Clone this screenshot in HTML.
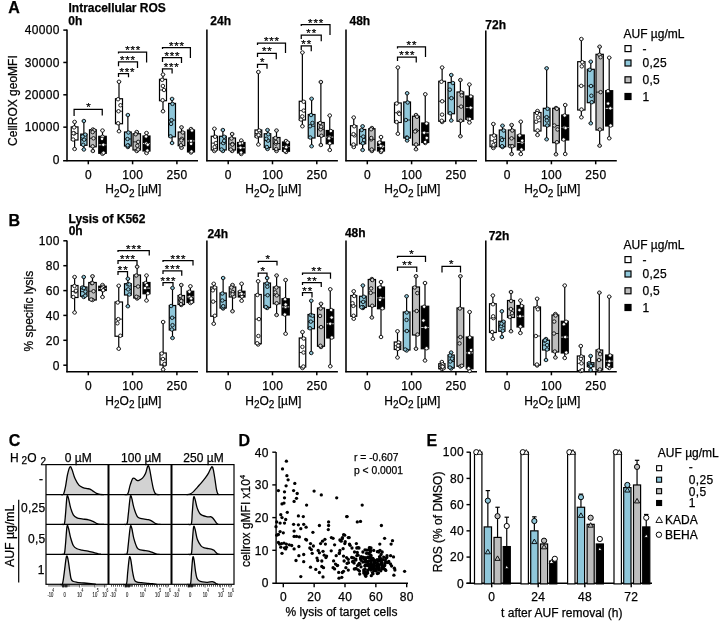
<!DOCTYPE html>
<html><head><meta charset="utf-8"><style>
html,body{margin:0;padding:0;background:#fff;}
svg{display:block;font-family:"Liberation Sans", sans-serif;will-change:transform;}
text{stroke:#000;stroke-width:0.25px;}
</style></head><body>
<svg width="720" height="623" viewBox="0 0 720 623">
<rect width="720" height="623" fill="#fff"/>
<text x="8.2" y="13.4" font-size="16" text-anchor="start" font-weight="bold" >A</text>
<text x="68.5" y="11.5" font-size="12" text-anchor="start" font-weight="bold" >Intracellular ROS</text>
<text x="68.3" y="24.6" font-size="12" text-anchor="start" font-weight="bold" >0h</text>
<text x="210.3" y="25.4" font-size="12" text-anchor="start" font-weight="bold" >24h</text>
<text x="349.5" y="25.4" font-size="12" text-anchor="start" font-weight="bold" >48h</text>
<text x="485.3" y="28.75" font-size="12" text-anchor="start" font-weight="bold" >72h</text>
<line x1="67" y1="29.5" x2="67" y2="161.2" stroke="#000" stroke-width="1.55"/>
<line x1="63.1" y1="160.7" x2="198" y2="160.7" stroke="#000" stroke-width="1.6"/>
<line x1="88.3" y1="160.7" x2="88.3" y2="164.29999999999998" stroke="#000" stroke-width="1.5"/>
<text x="88.475" y="178.9" font-size="12" text-anchor="middle" letter-spacing="0.35" >0</text>
<line x1="132.6" y1="160.7" x2="132.6" y2="164.29999999999998" stroke="#000" stroke-width="1.5"/>
<text x="132.775" y="178.9" font-size="12" text-anchor="middle" letter-spacing="0.35" >100</text>
<line x1="176.9" y1="160.7" x2="176.9" y2="164.29999999999998" stroke="#000" stroke-width="1.5"/>
<text x="177.07500000000002" y="178.9" font-size="12" text-anchor="middle" letter-spacing="0.35" >250</text>
<text x="133.4" y="193.4" font-size="12" text-anchor="middle">H<tspan font-size="10" dy="3.4">2</tspan><tspan dy="-3.4">O</tspan><tspan font-size="10" dy="3.4">2</tspan><tspan dy="-3.4"> [µM]</tspan></text>
<line x1="63.3" y1="30.1" x2="67" y2="30.1" stroke="#000" stroke-width="1.5"/>
<text x="59.85" y="34.4" font-size="12" text-anchor="end" letter-spacing="0.35" >40000</text>
<line x1="63.3" y1="62.45" x2="67" y2="62.45" stroke="#000" stroke-width="1.5"/>
<text x="59.85" y="66.75" font-size="12" text-anchor="end" letter-spacing="0.35" >30000</text>
<line x1="63.3" y1="94.8" x2="67" y2="94.8" stroke="#000" stroke-width="1.5"/>
<text x="59.85" y="99.1" font-size="12" text-anchor="end" letter-spacing="0.35" >20000</text>
<line x1="63.3" y1="127.15" x2="67" y2="127.15" stroke="#000" stroke-width="1.5"/>
<text x="59.85" y="131.45000000000002" font-size="12" text-anchor="end" letter-spacing="0.35" >10000</text>
<text x="59.85" y="163.8" font-size="12" text-anchor="end" letter-spacing="0.35" >0</text>
<line x1="206.9" y1="29.5" x2="206.9" y2="161.2" stroke="#000" stroke-width="1.55"/>
<line x1="206.20000000000002" y1="160.7" x2="337.9" y2="160.7" stroke="#000" stroke-width="1.6"/>
<line x1="228.20000000000002" y1="160.7" x2="228.20000000000002" y2="164.29999999999998" stroke="#000" stroke-width="1.5"/>
<text x="228.37500000000003" y="178.9" font-size="12" text-anchor="middle" letter-spacing="0.35" >0</text>
<line x1="272.5" y1="160.7" x2="272.5" y2="164.29999999999998" stroke="#000" stroke-width="1.5"/>
<text x="272.675" y="178.9" font-size="12" text-anchor="middle" letter-spacing="0.35" >100</text>
<line x1="316.8" y1="160.7" x2="316.8" y2="164.29999999999998" stroke="#000" stroke-width="1.5"/>
<text x="316.975" y="178.9" font-size="12" text-anchor="middle" letter-spacing="0.35" >250</text>
<text x="273.3" y="193.4" font-size="12" text-anchor="middle">H<tspan font-size="10" dy="3.4">2</tspan><tspan dy="-3.4">O</tspan><tspan font-size="10" dy="3.4">2</tspan><tspan dy="-3.4"> [µM]</tspan></text>
<line x1="346.0" y1="29.5" x2="346.0" y2="161.2" stroke="#000" stroke-width="1.55"/>
<line x1="345.3" y1="160.7" x2="477.0" y2="160.7" stroke="#000" stroke-width="1.6"/>
<line x1="367.3" y1="160.7" x2="367.3" y2="164.29999999999998" stroke="#000" stroke-width="1.5"/>
<text x="367.475" y="178.9" font-size="12" text-anchor="middle" letter-spacing="0.35" >0</text>
<line x1="411.6" y1="160.7" x2="411.6" y2="164.29999999999998" stroke="#000" stroke-width="1.5"/>
<text x="411.77500000000003" y="178.9" font-size="12" text-anchor="middle" letter-spacing="0.35" >100</text>
<line x1="455.9" y1="160.7" x2="455.9" y2="164.29999999999998" stroke="#000" stroke-width="1.5"/>
<text x="456.075" y="178.9" font-size="12" text-anchor="middle" letter-spacing="0.35" >250</text>
<text x="412.4" y="193.4" font-size="12" text-anchor="middle">H<tspan font-size="10" dy="3.4">2</tspan><tspan dy="-3.4">O</tspan><tspan font-size="10" dy="3.4">2</tspan><tspan dy="-3.4"> [µM]</tspan></text>
<line x1="485.8" y1="30.5" x2="485.8" y2="161.2" stroke="#000" stroke-width="1.55"/>
<line x1="485.1" y1="160.7" x2="616.8" y2="160.7" stroke="#000" stroke-width="1.6"/>
<line x1="507.1" y1="160.7" x2="507.1" y2="164.29999999999998" stroke="#000" stroke-width="1.5"/>
<text x="507.27500000000003" y="178.9" font-size="12" text-anchor="middle" letter-spacing="0.35" >0</text>
<line x1="551.4" y1="160.7" x2="551.4" y2="164.29999999999998" stroke="#000" stroke-width="1.5"/>
<text x="551.5749999999999" y="178.9" font-size="12" text-anchor="middle" letter-spacing="0.35" >100</text>
<line x1="595.7" y1="160.7" x2="595.7" y2="164.29999999999998" stroke="#000" stroke-width="1.5"/>
<text x="595.875" y="178.9" font-size="12" text-anchor="middle" letter-spacing="0.35" >250</text>
<text x="552.2" y="193.4" font-size="12" text-anchor="middle">H<tspan font-size="10" dy="3.4">2</tspan><tspan dy="-3.4">O</tspan><tspan font-size="10" dy="3.4">2</tspan><tspan dy="-3.4"> [µM]</tspan></text>
<text transform="translate(17.3,100.6) rotate(-90)" font-size="12" text-anchor="middle">CellROX geoMFI</text>
<line x1="74.625" y1="121.9" x2="74.625" y2="126.9" stroke="#000" stroke-width="1.2"/>
<line x1="74.625" y1="140" x2="74.625" y2="149" stroke="#000" stroke-width="1.2"/>
<line x1="72.425" y1="121.9" x2="76.825" y2="121.9" stroke="#000" stroke-width="1.0"/>
<line x1="72.425" y1="149" x2="76.825" y2="149" stroke="#000" stroke-width="1.0"/>
<rect x="71.25" y="126.9" width="6.75" height="13.099999999999994" fill="#ffffff" stroke="#000" stroke-width="1.2"/>
<line x1="71.25" y1="133.45" x2="78" y2="133.45" stroke="#000" stroke-width="0.8"/>
<circle cx="74.62" cy="121.9" r="1.75" fill="#ffffff" stroke="#000" stroke-width="0.85"/>
<circle cx="74.62" cy="149" r="1.75" fill="#ffffff" stroke="#000" stroke-width="0.85"/>
<circle cx="74.11" cy="127.4" r="1.75" fill="#ffffff" stroke="#000" stroke-width="0.85"/>
<circle cx="73.1" cy="139.5" r="1.75" fill="#ffffff" stroke="#000" stroke-width="0.85"/>
<circle cx="74.21" cy="133.45" r="1.75" fill="#ffffff" stroke="#000" stroke-width="0.85"/>
<circle cx="73.42" cy="133.16" r="1.75" fill="#ffffff" stroke="#000" stroke-width="0.85"/>
<line x1="83.875" y1="121" x2="83.875" y2="134.1" stroke="#000" stroke-width="1.2"/>
<line x1="83.875" y1="145.3" x2="83.875" y2="149.5" stroke="#000" stroke-width="1.2"/>
<line x1="81.675" y1="121" x2="86.075" y2="121" stroke="#000" stroke-width="1.0"/>
<line x1="81.675" y1="149.5" x2="86.075" y2="149.5" stroke="#000" stroke-width="1.0"/>
<rect x="80.75" y="134.1" width="6.25" height="11.200000000000017" fill="#8fc7da" stroke="#000" stroke-width="1.2"/>
<line x1="80.75" y1="139.7" x2="87" y2="139.7" stroke="#000" stroke-width="0.8"/>
<circle cx="83.88" cy="121" r="1.75" fill="#8fc7da" stroke="#000" stroke-width="0.85"/>
<circle cx="83.88" cy="149.5" r="1.75" fill="#8fc7da" stroke="#000" stroke-width="0.85"/>
<circle cx="85.24" cy="134.6" r="1.75" fill="#8fc7da" stroke="#000" stroke-width="0.85"/>
<circle cx="83.2" cy="144.8" r="1.75" fill="#8fc7da" stroke="#000" stroke-width="0.85"/>
<circle cx="84.11" cy="139.7" r="1.75" fill="#8fc7da" stroke="#000" stroke-width="0.85"/>
<circle cx="82.58" cy="136.53" r="1.75" fill="#8fc7da" stroke="#000" stroke-width="0.85"/>
<line x1="92.875" y1="129.5" x2="92.875" y2="129.8" stroke="#000" stroke-width="1.2"/>
<line x1="92.875" y1="146.8" x2="92.875" y2="151" stroke="#000" stroke-width="1.2"/>
<line x1="90.675" y1="129.5" x2="95.075" y2="129.5" stroke="#000" stroke-width="1.0"/>
<line x1="90.675" y1="151" x2="95.075" y2="151" stroke="#000" stroke-width="1.0"/>
<rect x="89.5" y="129.8" width="6.75" height="17.0" fill="#bdbdbd" stroke="#000" stroke-width="1.2"/>
<line x1="89.5" y1="138.3" x2="96.25" y2="138.3" stroke="#000" stroke-width="0.8"/>
<circle cx="92.88" cy="129.5" r="1.75" fill="#d8d8d8" stroke="#000" stroke-width="0.85"/>
<circle cx="92.88" cy="151" r="1.75" fill="#d8d8d8" stroke="#000" stroke-width="0.85"/>
<circle cx="94.17" cy="130.3" r="1.75" fill="#d8d8d8" stroke="#000" stroke-width="0.85"/>
<circle cx="92.68" cy="146.3" r="1.75" fill="#d8d8d8" stroke="#000" stroke-width="0.85"/>
<circle cx="93.48" cy="138.3" r="1.75" fill="#d8d8d8" stroke="#000" stroke-width="0.85"/>
<circle cx="92.63" cy="132.12" r="1.75" fill="#d8d8d8" stroke="#000" stroke-width="0.85"/>
<line x1="102.5" y1="130.5" x2="102.5" y2="136.3" stroke="#000" stroke-width="1.2"/>
<line x1="102.5" y1="153.3" x2="102.5" y2="153.8" stroke="#000" stroke-width="1.2"/>
<line x1="100.3" y1="130.5" x2="104.7" y2="130.5" stroke="#000" stroke-width="1.0"/>
<line x1="100.3" y1="153.8" x2="104.7" y2="153.8" stroke="#000" stroke-width="1.0"/>
<rect x="98.75" y="136.3" width="7.5" height="17.0" fill="#000000" stroke="#000" stroke-width="1.2"/>
<line x1="98.75" y1="144.8" x2="106.25" y2="144.8" stroke="#fff" stroke-width="0.8"/>
<circle cx="102.5" cy="130.5" r="1.75" fill="#ffffff" stroke="#000" stroke-width="0.85"/>
<circle cx="102.5" cy="153.8" r="1.75" fill="#ffffff" stroke="#000" stroke-width="0.85"/>
<circle cx="102.52" cy="136.8" r="1.75" fill="#ffffff" stroke="#000" stroke-width="0.85"/>
<circle cx="103.52" cy="152.8" r="1.75" fill="#ffffff" stroke="#000" stroke-width="0.85"/>
<circle cx="103.29" cy="144.8" r="1.75" fill="#ffffff" stroke="#000" stroke-width="0.85"/>
<circle cx="102.05" cy="138.83" r="1.75" fill="#ffffff" stroke="#000" stroke-width="0.85"/>
<line x1="119.0" y1="81.75" x2="119.0" y2="98.75" stroke="#000" stroke-width="1.2"/>
<line x1="119.0" y1="123.75" x2="119.0" y2="131.25" stroke="#000" stroke-width="1.2"/>
<line x1="116.8" y1="81.75" x2="121.2" y2="81.75" stroke="#000" stroke-width="1.0"/>
<line x1="116.8" y1="131.25" x2="121.2" y2="131.25" stroke="#000" stroke-width="1.0"/>
<rect x="115.5" y="98.75" width="7.0" height="25.0" fill="#ffffff" stroke="#000" stroke-width="1.2"/>
<line x1="115.5" y1="111.25" x2="122.5" y2="111.25" stroke="#000" stroke-width="0.8"/>
<circle cx="119.0" cy="81.75" r="1.75" fill="#ffffff" stroke="#000" stroke-width="0.85"/>
<circle cx="119.0" cy="131.25" r="1.75" fill="#ffffff" stroke="#000" stroke-width="0.85"/>
<circle cx="118.05" cy="99.25" r="1.75" fill="#ffffff" stroke="#000" stroke-width="0.85"/>
<circle cx="118.16" cy="123.25" r="1.75" fill="#ffffff" stroke="#000" stroke-width="0.85"/>
<circle cx="118.53" cy="111.25" r="1.75" fill="#ffffff" stroke="#000" stroke-width="0.85"/>
<circle cx="120.48" cy="105.25" r="1.75" fill="#ffffff" stroke="#000" stroke-width="0.85"/>
<line x1="127.875" y1="115" x2="127.875" y2="132" stroke="#000" stroke-width="1.2"/>
<line x1="127.875" y1="146" x2="127.875" y2="147" stroke="#000" stroke-width="1.2"/>
<line x1="125.675" y1="115" x2="130.075" y2="115" stroke="#000" stroke-width="1.0"/>
<line x1="125.675" y1="147" x2="130.075" y2="147" stroke="#000" stroke-width="1.0"/>
<rect x="124.5" y="132" width="6.75" height="14" fill="#8fc7da" stroke="#000" stroke-width="1.2"/>
<line x1="124.5" y1="139.0" x2="131.25" y2="139.0" stroke="#000" stroke-width="0.8"/>
<circle cx="127.88" cy="115" r="1.75" fill="#8fc7da" stroke="#000" stroke-width="0.85"/>
<circle cx="127.88" cy="147" r="1.75" fill="#8fc7da" stroke="#000" stroke-width="0.85"/>
<circle cx="128.42" cy="132.5" r="1.75" fill="#8fc7da" stroke="#000" stroke-width="0.85"/>
<circle cx="128.37" cy="145.5" r="1.75" fill="#8fc7da" stroke="#000" stroke-width="0.85"/>
<circle cx="127.49" cy="139.0" r="1.75" fill="#8fc7da" stroke="#000" stroke-width="0.85"/>
<circle cx="127.7" cy="145.4" r="1.75" fill="#8fc7da" stroke="#000" stroke-width="0.85"/>
<line x1="136.75" y1="132" x2="136.75" y2="133.75" stroke="#000" stroke-width="1.2"/>
<line x1="136.75" y1="150" x2="136.75" y2="151" stroke="#000" stroke-width="1.2"/>
<line x1="134.55" y1="132" x2="138.95" y2="132" stroke="#000" stroke-width="1.0"/>
<line x1="134.55" y1="151" x2="138.95" y2="151" stroke="#000" stroke-width="1.0"/>
<rect x="133" y="133.75" width="7.5" height="16.25" fill="#bdbdbd" stroke="#000" stroke-width="1.2"/>
<line x1="133" y1="141.875" x2="140.5" y2="141.875" stroke="#000" stroke-width="0.8"/>
<circle cx="136.75" cy="132" r="1.75" fill="#d8d8d8" stroke="#000" stroke-width="0.85"/>
<circle cx="136.75" cy="151" r="1.75" fill="#d8d8d8" stroke="#000" stroke-width="0.85"/>
<circle cx="135.76" cy="134.25" r="1.75" fill="#d8d8d8" stroke="#000" stroke-width="0.85"/>
<circle cx="138.09" cy="149.5" r="1.75" fill="#d8d8d8" stroke="#000" stroke-width="0.85"/>
<circle cx="138.2" cy="141.88" r="1.75" fill="#d8d8d8" stroke="#000" stroke-width="0.85"/>
<circle cx="137.31" cy="145.73" r="1.75" fill="#d8d8d8" stroke="#000" stroke-width="0.85"/>
<line x1="146.5" y1="133" x2="146.5" y2="136" stroke="#000" stroke-width="1.2"/>
<line x1="146.5" y1="151" x2="146.5" y2="153" stroke="#000" stroke-width="1.2"/>
<line x1="144.3" y1="133" x2="148.7" y2="133" stroke="#000" stroke-width="1.0"/>
<line x1="144.3" y1="153" x2="148.7" y2="153" stroke="#000" stroke-width="1.0"/>
<rect x="143" y="136" width="7" height="15" fill="#000000" stroke="#000" stroke-width="1.2"/>
<line x1="143" y1="143.5" x2="150" y2="143.5" stroke="#fff" stroke-width="0.8"/>
<circle cx="146.5" cy="133" r="1.75" fill="#ffffff" stroke="#000" stroke-width="0.85"/>
<circle cx="146.5" cy="153" r="1.75" fill="#ffffff" stroke="#000" stroke-width="0.85"/>
<circle cx="146.08" cy="136.5" r="1.75" fill="#ffffff" stroke="#000" stroke-width="0.85"/>
<circle cx="147.37" cy="150.5" r="1.75" fill="#ffffff" stroke="#000" stroke-width="0.85"/>
<circle cx="146.22" cy="143.5" r="1.75" fill="#ffffff" stroke="#000" stroke-width="0.85"/>
<circle cx="147.72" cy="144.72" r="1.75" fill="#ffffff" stroke="#000" stroke-width="0.85"/>
<line x1="163.0" y1="74.5" x2="163.0" y2="79.3" stroke="#000" stroke-width="1.2"/>
<line x1="163.0" y1="100.7" x2="163.0" y2="111.25" stroke="#000" stroke-width="1.2"/>
<line x1="160.8" y1="74.5" x2="165.2" y2="74.5" stroke="#000" stroke-width="1.0"/>
<line x1="160.8" y1="111.25" x2="165.2" y2="111.25" stroke="#000" stroke-width="1.0"/>
<rect x="159.5" y="79.3" width="7.0" height="21.400000000000006" fill="#ffffff" stroke="#000" stroke-width="1.2"/>
<line x1="159.5" y1="90.0" x2="166.5" y2="90.0" stroke="#000" stroke-width="0.8"/>
<circle cx="163.0" cy="74.5" r="1.75" fill="#ffffff" stroke="#000" stroke-width="0.85"/>
<circle cx="163.0" cy="111.25" r="1.75" fill="#ffffff" stroke="#000" stroke-width="0.85"/>
<circle cx="162.2" cy="79.8" r="1.75" fill="#ffffff" stroke="#000" stroke-width="0.85"/>
<circle cx="162.63" cy="100.2" r="1.75" fill="#ffffff" stroke="#000" stroke-width="0.85"/>
<circle cx="164.04" cy="90.0" r="1.75" fill="#ffffff" stroke="#000" stroke-width="0.85"/>
<circle cx="162.88" cy="85.97" r="1.75" fill="#ffffff" stroke="#000" stroke-width="0.85"/>
<line x1="172.05" y1="98.9" x2="172.05" y2="103.4" stroke="#000" stroke-width="1.2"/>
<line x1="172.05" y1="136.8" x2="172.05" y2="143" stroke="#000" stroke-width="1.2"/>
<line x1="169.85000000000002" y1="98.9" x2="174.25" y2="98.9" stroke="#000" stroke-width="1.0"/>
<line x1="169.85000000000002" y1="143" x2="174.25" y2="143" stroke="#000" stroke-width="1.0"/>
<rect x="168.6" y="103.4" width="6.900000000000006" height="33.400000000000006" fill="#8fc7da" stroke="#000" stroke-width="1.2"/>
<line x1="168.6" y1="120.10000000000001" x2="175.5" y2="120.10000000000001" stroke="#000" stroke-width="0.8"/>
<circle cx="172.05" cy="98.9" r="1.75" fill="#8fc7da" stroke="#000" stroke-width="0.85"/>
<circle cx="172.05" cy="143" r="1.75" fill="#8fc7da" stroke="#000" stroke-width="0.85"/>
<circle cx="172.48" cy="103.9" r="1.75" fill="#8fc7da" stroke="#000" stroke-width="0.85"/>
<circle cx="170.51" cy="136.3" r="1.75" fill="#8fc7da" stroke="#000" stroke-width="0.85"/>
<circle cx="171.53" cy="120.1" r="1.75" fill="#8fc7da" stroke="#000" stroke-width="0.85"/>
<circle cx="171.06" cy="123.9" r="1.75" fill="#8fc7da" stroke="#000" stroke-width="0.85"/>
<line x1="181.5" y1="127.3" x2="181.5" y2="132" stroke="#000" stroke-width="1.2"/>
<line x1="181.5" y1="145.7" x2="181.5" y2="147.8" stroke="#000" stroke-width="1.2"/>
<line x1="179.3" y1="127.3" x2="183.7" y2="127.3" stroke="#000" stroke-width="1.0"/>
<line x1="179.3" y1="147.8" x2="183.7" y2="147.8" stroke="#000" stroke-width="1.0"/>
<rect x="178.2" y="132" width="6.600000000000023" height="13.699999999999989" fill="#bdbdbd" stroke="#000" stroke-width="1.2"/>
<line x1="178.2" y1="138.85" x2="184.8" y2="138.85" stroke="#000" stroke-width="0.8"/>
<circle cx="181.5" cy="127.3" r="1.75" fill="#d8d8d8" stroke="#000" stroke-width="0.85"/>
<circle cx="181.5" cy="147.8" r="1.75" fill="#d8d8d8" stroke="#000" stroke-width="0.85"/>
<circle cx="182.76" cy="132.5" r="1.75" fill="#d8d8d8" stroke="#000" stroke-width="0.85"/>
<circle cx="180.94" cy="145.2" r="1.75" fill="#d8d8d8" stroke="#000" stroke-width="0.85"/>
<circle cx="181.89" cy="138.85" r="1.75" fill="#d8d8d8" stroke="#000" stroke-width="0.85"/>
<circle cx="181.33" cy="140.35" r="1.75" fill="#d8d8d8" stroke="#000" stroke-width="0.85"/>
<line x1="191.0" y1="129" x2="191.0" y2="130" stroke="#000" stroke-width="1.2"/>
<line x1="191.0" y1="151.9" x2="191.0" y2="152.5" stroke="#000" stroke-width="1.2"/>
<line x1="188.8" y1="129" x2="193.2" y2="129" stroke="#000" stroke-width="1.0"/>
<line x1="188.8" y1="152.5" x2="193.2" y2="152.5" stroke="#000" stroke-width="1.0"/>
<rect x="187.5" y="130" width="7.0" height="21.900000000000006" fill="#000000" stroke="#000" stroke-width="1.2"/>
<line x1="187.5" y1="140.95" x2="194.5" y2="140.95" stroke="#fff" stroke-width="0.8"/>
<circle cx="191.0" cy="129" r="1.75" fill="#ffffff" stroke="#000" stroke-width="0.85"/>
<circle cx="191.0" cy="152.5" r="1.75" fill="#ffffff" stroke="#000" stroke-width="0.85"/>
<circle cx="191.98" cy="130.5" r="1.75" fill="#ffffff" stroke="#000" stroke-width="0.85"/>
<circle cx="191.5" cy="151.4" r="1.75" fill="#ffffff" stroke="#000" stroke-width="0.85"/>
<circle cx="191.03" cy="140.95" r="1.75" fill="#ffffff" stroke="#000" stroke-width="0.85"/>
<circle cx="191.1" cy="143.84" r="1.75" fill="#ffffff" stroke="#000" stroke-width="0.85"/>
<line x1="214.375" y1="128.75" x2="214.375" y2="136.25" stroke="#000" stroke-width="1.2"/>
<line x1="214.375" y1="150" x2="214.375" y2="151" stroke="#000" stroke-width="1.2"/>
<line x1="212.175" y1="128.75" x2="216.575" y2="128.75" stroke="#000" stroke-width="1.0"/>
<line x1="212.175" y1="151" x2="216.575" y2="151" stroke="#000" stroke-width="1.0"/>
<rect x="211.25" y="136.25" width="6.25" height="13.75" fill="#ffffff" stroke="#000" stroke-width="1.2"/>
<line x1="211.25" y1="143.125" x2="217.5" y2="143.125" stroke="#000" stroke-width="0.8"/>
<circle cx="214.38" cy="128.75" r="1.75" fill="#ffffff" stroke="#000" stroke-width="0.85"/>
<circle cx="214.38" cy="151" r="1.75" fill="#ffffff" stroke="#000" stroke-width="0.85"/>
<circle cx="215.17" cy="136.75" r="1.75" fill="#ffffff" stroke="#000" stroke-width="0.85"/>
<circle cx="215.33" cy="149.5" r="1.75" fill="#ffffff" stroke="#000" stroke-width="0.85"/>
<circle cx="215.8" cy="143.12" r="1.75" fill="#ffffff" stroke="#000" stroke-width="0.85"/>
<circle cx="214.62" cy="147.08" r="1.75" fill="#ffffff" stroke="#000" stroke-width="0.85"/>
<line x1="222.875" y1="130" x2="222.875" y2="136.25" stroke="#000" stroke-width="1.2"/>
<line x1="222.875" y1="150" x2="222.875" y2="151" stroke="#000" stroke-width="1.2"/>
<line x1="220.675" y1="130" x2="225.075" y2="130" stroke="#000" stroke-width="1.0"/>
<line x1="220.675" y1="151" x2="225.075" y2="151" stroke="#000" stroke-width="1.0"/>
<rect x="219.5" y="136.25" width="6.75" height="13.75" fill="#8fc7da" stroke="#000" stroke-width="1.2"/>
<line x1="219.5" y1="143.125" x2="226.25" y2="143.125" stroke="#000" stroke-width="0.8"/>
<circle cx="222.88" cy="130" r="1.75" fill="#8fc7da" stroke="#000" stroke-width="0.85"/>
<circle cx="222.88" cy="151" r="1.75" fill="#8fc7da" stroke="#000" stroke-width="0.85"/>
<circle cx="224.19" cy="136.75" r="1.75" fill="#8fc7da" stroke="#000" stroke-width="0.85"/>
<circle cx="221.55" cy="149.5" r="1.75" fill="#8fc7da" stroke="#000" stroke-width="0.85"/>
<circle cx="223.24" cy="143.12" r="1.75" fill="#8fc7da" stroke="#000" stroke-width="0.85"/>
<circle cx="224.18" cy="140.85" r="1.75" fill="#8fc7da" stroke="#000" stroke-width="0.85"/>
<line x1="232.125" y1="134" x2="232.125" y2="138" stroke="#000" stroke-width="1.2"/>
<line x1="232.125" y1="150" x2="232.125" y2="151" stroke="#000" stroke-width="1.2"/>
<line x1="229.925" y1="134" x2="234.325" y2="134" stroke="#000" stroke-width="1.0"/>
<line x1="229.925" y1="151" x2="234.325" y2="151" stroke="#000" stroke-width="1.0"/>
<rect x="228.75" y="138" width="6.75" height="12" fill="#bdbdbd" stroke="#000" stroke-width="1.2"/>
<line x1="228.75" y1="144.0" x2="235.5" y2="144.0" stroke="#000" stroke-width="0.8"/>
<circle cx="232.12" cy="134" r="1.75" fill="#d8d8d8" stroke="#000" stroke-width="0.85"/>
<circle cx="232.12" cy="151" r="1.75" fill="#d8d8d8" stroke="#000" stroke-width="0.85"/>
<circle cx="231.47" cy="138.5" r="1.75" fill="#d8d8d8" stroke="#000" stroke-width="0.85"/>
<circle cx="230.78" cy="149.5" r="1.75" fill="#d8d8d8" stroke="#000" stroke-width="0.85"/>
<circle cx="232.45" cy="144.0" r="1.75" fill="#d8d8d8" stroke="#000" stroke-width="0.85"/>
<circle cx="232.36" cy="144.59" r="1.75" fill="#d8d8d8" stroke="#000" stroke-width="0.85"/>
<line x1="241.25" y1="140.5" x2="241.25" y2="142.5" stroke="#000" stroke-width="1.2"/>
<line x1="241.25" y1="153" x2="241.25" y2="154" stroke="#000" stroke-width="1.2"/>
<line x1="239.05" y1="140.5" x2="243.45" y2="140.5" stroke="#000" stroke-width="1.0"/>
<line x1="239.05" y1="154" x2="243.45" y2="154" stroke="#000" stroke-width="1.0"/>
<rect x="237.5" y="142.5" width="7.5" height="10.5" fill="#000000" stroke="#000" stroke-width="1.2"/>
<line x1="237.5" y1="147.75" x2="245" y2="147.75" stroke="#fff" stroke-width="0.8"/>
<circle cx="241.25" cy="140.5" r="1.75" fill="#ffffff" stroke="#000" stroke-width="0.85"/>
<circle cx="241.25" cy="154" r="1.75" fill="#ffffff" stroke="#000" stroke-width="0.85"/>
<circle cx="242.1" cy="143.0" r="1.75" fill="#ffffff" stroke="#000" stroke-width="0.85"/>
<circle cx="241.13" cy="152.5" r="1.75" fill="#ffffff" stroke="#000" stroke-width="0.85"/>
<circle cx="240.51" cy="147.75" r="1.75" fill="#ffffff" stroke="#000" stroke-width="0.85"/>
<circle cx="239.98" cy="143.53" r="1.75" fill="#ffffff" stroke="#000" stroke-width="0.85"/>
<line x1="258.375" y1="72" x2="258.375" y2="130" stroke="#000" stroke-width="1.2"/>
<line x1="258.375" y1="137" x2="258.375" y2="144.5" stroke="#000" stroke-width="1.2"/>
<line x1="256.175" y1="72" x2="260.575" y2="72" stroke="#000" stroke-width="1.0"/>
<line x1="256.175" y1="144.5" x2="260.575" y2="144.5" stroke="#000" stroke-width="1.0"/>
<rect x="255" y="130" width="6.75" height="7" fill="#ffffff" stroke="#000" stroke-width="1.2"/>
<line x1="255" y1="133.5" x2="261.75" y2="133.5" stroke="#000" stroke-width="0.8"/>
<circle cx="258.38" cy="72" r="1.75" fill="#ffffff" stroke="#000" stroke-width="0.85"/>
<circle cx="258.38" cy="144.5" r="1.75" fill="#ffffff" stroke="#000" stroke-width="0.85"/>
<circle cx="259.18" cy="130.5" r="1.75" fill="#ffffff" stroke="#000" stroke-width="0.85"/>
<circle cx="256.91" cy="136.5" r="1.75" fill="#ffffff" stroke="#000" stroke-width="0.85"/>
<circle cx="259.46" cy="133.5" r="1.75" fill="#ffffff" stroke="#000" stroke-width="0.85"/>
<circle cx="258.58" cy="135.07" r="1.75" fill="#ffffff" stroke="#000" stroke-width="0.85"/>
<line x1="267.5" y1="130" x2="267.5" y2="133.75" stroke="#000" stroke-width="1.2"/>
<line x1="267.5" y1="147.5" x2="267.5" y2="149" stroke="#000" stroke-width="1.2"/>
<line x1="265.3" y1="130" x2="269.7" y2="130" stroke="#000" stroke-width="1.0"/>
<line x1="265.3" y1="149" x2="269.7" y2="149" stroke="#000" stroke-width="1.0"/>
<rect x="264.25" y="133.75" width="6.5" height="13.75" fill="#8fc7da" stroke="#000" stroke-width="1.2"/>
<line x1="264.25" y1="140.625" x2="270.75" y2="140.625" stroke="#000" stroke-width="0.8"/>
<circle cx="267.5" cy="130" r="1.75" fill="#8fc7da" stroke="#000" stroke-width="0.85"/>
<circle cx="267.5" cy="149" r="1.75" fill="#8fc7da" stroke="#000" stroke-width="0.85"/>
<circle cx="268.27" cy="134.25" r="1.75" fill="#8fc7da" stroke="#000" stroke-width="0.85"/>
<circle cx="266.81" cy="147.0" r="1.75" fill="#8fc7da" stroke="#000" stroke-width="0.85"/>
<circle cx="268.04" cy="140.62" r="1.75" fill="#8fc7da" stroke="#000" stroke-width="0.85"/>
<circle cx="266.28" cy="138.8" r="1.75" fill="#8fc7da" stroke="#000" stroke-width="0.85"/>
<line x1="276.5" y1="130.5" x2="276.5" y2="137.5" stroke="#000" stroke-width="1.2"/>
<line x1="276.5" y1="149.5" x2="276.5" y2="151" stroke="#000" stroke-width="1.2"/>
<line x1="274.3" y1="130.5" x2="278.7" y2="130.5" stroke="#000" stroke-width="1.0"/>
<line x1="274.3" y1="151" x2="278.7" y2="151" stroke="#000" stroke-width="1.0"/>
<rect x="273" y="137.5" width="7" height="12.0" fill="#bdbdbd" stroke="#000" stroke-width="1.2"/>
<line x1="273" y1="143.5" x2="280" y2="143.5" stroke="#000" stroke-width="0.8"/>
<circle cx="276.5" cy="130.5" r="1.75" fill="#d8d8d8" stroke="#000" stroke-width="0.85"/>
<circle cx="276.5" cy="151" r="1.75" fill="#d8d8d8" stroke="#000" stroke-width="0.85"/>
<circle cx="275.46" cy="138.0" r="1.75" fill="#d8d8d8" stroke="#000" stroke-width="0.85"/>
<circle cx="276.26" cy="149.0" r="1.75" fill="#d8d8d8" stroke="#000" stroke-width="0.85"/>
<circle cx="275.77" cy="143.5" r="1.75" fill="#d8d8d8" stroke="#000" stroke-width="0.85"/>
<circle cx="275.98" cy="141.9" r="1.75" fill="#d8d8d8" stroke="#000" stroke-width="0.85"/>
<line x1="286.0" y1="141" x2="286.0" y2="142" stroke="#000" stroke-width="1.2"/>
<line x1="286.0" y1="151.25" x2="286.0" y2="152" stroke="#000" stroke-width="1.2"/>
<line x1="283.8" y1="141" x2="288.2" y2="141" stroke="#000" stroke-width="1.0"/>
<line x1="283.8" y1="152" x2="288.2" y2="152" stroke="#000" stroke-width="1.0"/>
<rect x="282.5" y="142" width="7.0" height="9.25" fill="#000000" stroke="#000" stroke-width="1.2"/>
<line x1="282.5" y1="146.625" x2="289.5" y2="146.625" stroke="#fff" stroke-width="0.8"/>
<circle cx="286.0" cy="141" r="1.75" fill="#ffffff" stroke="#000" stroke-width="0.85"/>
<circle cx="286.0" cy="152" r="1.75" fill="#ffffff" stroke="#000" stroke-width="0.85"/>
<circle cx="287.5" cy="142.5" r="1.75" fill="#ffffff" stroke="#000" stroke-width="0.85"/>
<circle cx="284.94" cy="150.75" r="1.75" fill="#ffffff" stroke="#000" stroke-width="0.85"/>
<circle cx="286.3" cy="146.62" r="1.75" fill="#ffffff" stroke="#000" stroke-width="0.85"/>
<circle cx="286.21" cy="147.27" r="1.75" fill="#ffffff" stroke="#000" stroke-width="0.85"/>
<line x1="302.375" y1="52.5" x2="302.375" y2="101.25" stroke="#000" stroke-width="1.2"/>
<line x1="302.375" y1="120" x2="302.375" y2="126.25" stroke="#000" stroke-width="1.2"/>
<line x1="300.175" y1="52.5" x2="304.575" y2="52.5" stroke="#000" stroke-width="1.0"/>
<line x1="300.175" y1="126.25" x2="304.575" y2="126.25" stroke="#000" stroke-width="1.0"/>
<rect x="299.25" y="101.25" width="6.25" height="18.75" fill="#ffffff" stroke="#000" stroke-width="1.2"/>
<line x1="299.25" y1="110.625" x2="305.5" y2="110.625" stroke="#000" stroke-width="0.8"/>
<circle cx="302.38" cy="52.5" r="1.75" fill="#ffffff" stroke="#000" stroke-width="0.85"/>
<circle cx="302.38" cy="126.25" r="1.75" fill="#ffffff" stroke="#000" stroke-width="0.85"/>
<circle cx="303.7" cy="101.75" r="1.75" fill="#ffffff" stroke="#000" stroke-width="0.85"/>
<circle cx="300.99" cy="119.5" r="1.75" fill="#ffffff" stroke="#000" stroke-width="0.85"/>
<circle cx="303.7" cy="110.62" r="1.75" fill="#ffffff" stroke="#000" stroke-width="0.85"/>
<circle cx="302.29" cy="116.4" r="1.75" fill="#ffffff" stroke="#000" stroke-width="0.85"/>
<line x1="311.625" y1="98.75" x2="311.625" y2="114.5" stroke="#000" stroke-width="1.2"/>
<line x1="311.625" y1="138" x2="311.625" y2="146.25" stroke="#000" stroke-width="1.2"/>
<line x1="309.425" y1="98.75" x2="313.825" y2="98.75" stroke="#000" stroke-width="1.0"/>
<line x1="309.425" y1="146.25" x2="313.825" y2="146.25" stroke="#000" stroke-width="1.0"/>
<rect x="308.25" y="114.5" width="6.75" height="23.5" fill="#8fc7da" stroke="#000" stroke-width="1.2"/>
<line x1="308.25" y1="126.25" x2="315" y2="126.25" stroke="#000" stroke-width="0.8"/>
<circle cx="311.62" cy="98.75" r="1.75" fill="#8fc7da" stroke="#000" stroke-width="0.85"/>
<circle cx="311.62" cy="146.25" r="1.75" fill="#8fc7da" stroke="#000" stroke-width="0.85"/>
<circle cx="311.02" cy="115.0" r="1.75" fill="#8fc7da" stroke="#000" stroke-width="0.85"/>
<circle cx="310.23" cy="137.5" r="1.75" fill="#8fc7da" stroke="#000" stroke-width="0.85"/>
<circle cx="310.04" cy="126.25" r="1.75" fill="#8fc7da" stroke="#000" stroke-width="0.85"/>
<circle cx="312.43" cy="122.94" r="1.75" fill="#8fc7da" stroke="#000" stroke-width="0.85"/>
<line x1="320.875" y1="82" x2="320.875" y2="122.5" stroke="#000" stroke-width="1.2"/>
<line x1="320.875" y1="136.25" x2="320.875" y2="145" stroke="#000" stroke-width="1.2"/>
<line x1="318.675" y1="82" x2="323.075" y2="82" stroke="#000" stroke-width="1.0"/>
<line x1="318.675" y1="145" x2="323.075" y2="145" stroke="#000" stroke-width="1.0"/>
<rect x="317.5" y="122.5" width="6.75" height="13.75" fill="#bdbdbd" stroke="#000" stroke-width="1.2"/>
<line x1="317.5" y1="129.375" x2="324.25" y2="129.375" stroke="#000" stroke-width="0.8"/>
<circle cx="320.88" cy="82" r="1.75" fill="#d8d8d8" stroke="#000" stroke-width="0.85"/>
<circle cx="320.88" cy="145" r="1.75" fill="#d8d8d8" stroke="#000" stroke-width="0.85"/>
<circle cx="320.18" cy="123.0" r="1.75" fill="#d8d8d8" stroke="#000" stroke-width="0.85"/>
<circle cx="321.46" cy="135.75" r="1.75" fill="#d8d8d8" stroke="#000" stroke-width="0.85"/>
<circle cx="320.57" cy="129.38" r="1.75" fill="#d8d8d8" stroke="#000" stroke-width="0.85"/>
<circle cx="321.1" cy="126.73" r="1.75" fill="#d8d8d8" stroke="#000" stroke-width="0.85"/>
<line x1="329.75" y1="115.5" x2="329.75" y2="130.5" stroke="#000" stroke-width="1.2"/>
<line x1="329.75" y1="143.75" x2="329.75" y2="150" stroke="#000" stroke-width="1.2"/>
<line x1="327.55" y1="115.5" x2="331.95" y2="115.5" stroke="#000" stroke-width="1.0"/>
<line x1="327.55" y1="150" x2="331.95" y2="150" stroke="#000" stroke-width="1.0"/>
<rect x="326.25" y="130.5" width="7.0" height="13.25" fill="#000000" stroke="#000" stroke-width="1.2"/>
<line x1="326.25" y1="137.125" x2="333.25" y2="137.125" stroke="#fff" stroke-width="0.8"/>
<circle cx="329.75" cy="115.5" r="1.75" fill="#ffffff" stroke="#000" stroke-width="0.85"/>
<circle cx="329.75" cy="150" r="1.75" fill="#ffffff" stroke="#000" stroke-width="0.85"/>
<circle cx="330.81" cy="131.0" r="1.75" fill="#ffffff" stroke="#000" stroke-width="0.85"/>
<circle cx="329.81" cy="143.25" r="1.75" fill="#ffffff" stroke="#000" stroke-width="0.85"/>
<circle cx="329.51" cy="137.12" r="1.75" fill="#ffffff" stroke="#000" stroke-width="0.85"/>
<circle cx="329.02" cy="138.38" r="1.75" fill="#ffffff" stroke="#000" stroke-width="0.85"/>
<line x1="353.75" y1="117.5" x2="353.75" y2="125.75" stroke="#000" stroke-width="1.2"/>
<line x1="353.75" y1="145" x2="353.75" y2="147" stroke="#000" stroke-width="1.2"/>
<line x1="351.55" y1="117.5" x2="355.95" y2="117.5" stroke="#000" stroke-width="1.0"/>
<line x1="351.55" y1="147" x2="355.95" y2="147" stroke="#000" stroke-width="1.0"/>
<rect x="350.5" y="125.75" width="6.5" height="19.25" fill="#ffffff" stroke="#000" stroke-width="1.2"/>
<line x1="350.5" y1="135.375" x2="357" y2="135.375" stroke="#000" stroke-width="0.8"/>
<circle cx="353.75" cy="117.5" r="1.75" fill="#ffffff" stroke="#000" stroke-width="0.85"/>
<circle cx="353.75" cy="147" r="1.75" fill="#ffffff" stroke="#000" stroke-width="0.85"/>
<circle cx="354.22" cy="126.25" r="1.75" fill="#ffffff" stroke="#000" stroke-width="0.85"/>
<circle cx="353.52" cy="144.5" r="1.75" fill="#ffffff" stroke="#000" stroke-width="0.85"/>
<circle cx="354.5" cy="135.38" r="1.75" fill="#ffffff" stroke="#000" stroke-width="0.85"/>
<circle cx="353.49" cy="134.16" r="1.75" fill="#ffffff" stroke="#000" stroke-width="0.85"/>
<line x1="362.625" y1="126.25" x2="362.625" y2="129.5" stroke="#000" stroke-width="1.2"/>
<line x1="362.625" y1="143.75" x2="362.625" y2="150" stroke="#000" stroke-width="1.2"/>
<line x1="360.425" y1="126.25" x2="364.825" y2="126.25" stroke="#000" stroke-width="1.0"/>
<line x1="360.425" y1="150" x2="364.825" y2="150" stroke="#000" stroke-width="1.0"/>
<rect x="359.5" y="129.5" width="6.25" height="14.25" fill="#8fc7da" stroke="#000" stroke-width="1.2"/>
<line x1="359.5" y1="136.625" x2="365.75" y2="136.625" stroke="#000" stroke-width="0.8"/>
<circle cx="362.62" cy="126.25" r="1.75" fill="#8fc7da" stroke="#000" stroke-width="0.85"/>
<circle cx="362.62" cy="150" r="1.75" fill="#8fc7da" stroke="#000" stroke-width="0.85"/>
<circle cx="361.67" cy="130.0" r="1.75" fill="#8fc7da" stroke="#000" stroke-width="0.85"/>
<circle cx="362.89" cy="143.25" r="1.75" fill="#8fc7da" stroke="#000" stroke-width="0.85"/>
<circle cx="363.26" cy="136.62" r="1.75" fill="#8fc7da" stroke="#000" stroke-width="0.85"/>
<circle cx="364.04" cy="140.05" r="1.75" fill="#8fc7da" stroke="#000" stroke-width="0.85"/>
<line x1="371.875" y1="128" x2="371.875" y2="128.75" stroke="#000" stroke-width="1.2"/>
<line x1="371.875" y1="150" x2="371.875" y2="151" stroke="#000" stroke-width="1.2"/>
<line x1="369.675" y1="128" x2="374.075" y2="128" stroke="#000" stroke-width="1.0"/>
<line x1="369.675" y1="151" x2="374.075" y2="151" stroke="#000" stroke-width="1.0"/>
<rect x="368.75" y="128.75" width="6.25" height="21.25" fill="#bdbdbd" stroke="#000" stroke-width="1.2"/>
<line x1="368.75" y1="139.375" x2="375" y2="139.375" stroke="#000" stroke-width="0.8"/>
<circle cx="371.88" cy="128" r="1.75" fill="#d8d8d8" stroke="#000" stroke-width="0.85"/>
<circle cx="371.88" cy="151" r="1.75" fill="#d8d8d8" stroke="#000" stroke-width="0.85"/>
<circle cx="371.14" cy="129.25" r="1.75" fill="#d8d8d8" stroke="#000" stroke-width="0.85"/>
<circle cx="371.71" cy="149.5" r="1.75" fill="#d8d8d8" stroke="#000" stroke-width="0.85"/>
<circle cx="371.18" cy="139.38" r="1.75" fill="#d8d8d8" stroke="#000" stroke-width="0.85"/>
<circle cx="371.29" cy="138.0" r="1.75" fill="#d8d8d8" stroke="#000" stroke-width="0.85"/>
<line x1="381.0" y1="137" x2="381.0" y2="142" stroke="#000" stroke-width="1.2"/>
<line x1="381.0" y1="151" x2="381.0" y2="152" stroke="#000" stroke-width="1.2"/>
<line x1="378.8" y1="137" x2="383.2" y2="137" stroke="#000" stroke-width="1.0"/>
<line x1="378.8" y1="152" x2="383.2" y2="152" stroke="#000" stroke-width="1.0"/>
<rect x="377.5" y="142" width="7.0" height="9" fill="#000000" stroke="#000" stroke-width="1.2"/>
<line x1="377.5" y1="146.5" x2="384.5" y2="146.5" stroke="#fff" stroke-width="0.8"/>
<circle cx="381.0" cy="137" r="1.75" fill="#ffffff" stroke="#000" stroke-width="0.85"/>
<circle cx="381.0" cy="152" r="1.75" fill="#ffffff" stroke="#000" stroke-width="0.85"/>
<circle cx="379.5" cy="142.5" r="1.75" fill="#ffffff" stroke="#000" stroke-width="0.85"/>
<circle cx="381.6" cy="150.5" r="1.75" fill="#ffffff" stroke="#000" stroke-width="0.85"/>
<circle cx="382.52" cy="146.5" r="1.75" fill="#ffffff" stroke="#000" stroke-width="0.85"/>
<circle cx="380.64" cy="145.98" r="1.75" fill="#ffffff" stroke="#000" stroke-width="0.85"/>
<line x1="397.875" y1="67.5" x2="397.875" y2="103" stroke="#000" stroke-width="1.2"/>
<line x1="397.875" y1="122.5" x2="397.875" y2="133.75" stroke="#000" stroke-width="1.2"/>
<line x1="395.675" y1="67.5" x2="400.075" y2="67.5" stroke="#000" stroke-width="1.0"/>
<line x1="395.675" y1="133.75" x2="400.075" y2="133.75" stroke="#000" stroke-width="1.0"/>
<rect x="394.5" y="103" width="6.75" height="19.5" fill="#ffffff" stroke="#000" stroke-width="1.2"/>
<line x1="394.5" y1="112.75" x2="401.25" y2="112.75" stroke="#000" stroke-width="0.8"/>
<circle cx="397.88" cy="67.5" r="1.75" fill="#ffffff" stroke="#000" stroke-width="0.85"/>
<circle cx="397.88" cy="133.75" r="1.75" fill="#ffffff" stroke="#000" stroke-width="0.85"/>
<circle cx="396.61" cy="103.5" r="1.75" fill="#ffffff" stroke="#000" stroke-width="0.85"/>
<circle cx="396.6" cy="122.0" r="1.75" fill="#ffffff" stroke="#000" stroke-width="0.85"/>
<circle cx="398.7" cy="112.75" r="1.75" fill="#ffffff" stroke="#000" stroke-width="0.85"/>
<circle cx="399.25" cy="113.93" r="1.75" fill="#ffffff" stroke="#000" stroke-width="0.85"/>
<line x1="407.125" y1="93.25" x2="407.125" y2="102" stroke="#000" stroke-width="1.2"/>
<line x1="407.125" y1="138" x2="407.125" y2="140.5" stroke="#000" stroke-width="1.2"/>
<line x1="404.925" y1="93.25" x2="409.325" y2="93.25" stroke="#000" stroke-width="1.0"/>
<line x1="404.925" y1="140.5" x2="409.325" y2="140.5" stroke="#000" stroke-width="1.0"/>
<rect x="403.75" y="102" width="6.75" height="36" fill="#8fc7da" stroke="#000" stroke-width="1.2"/>
<line x1="403.75" y1="120.0" x2="410.5" y2="120.0" stroke="#000" stroke-width="0.8"/>
<circle cx="407.12" cy="93.25" r="1.75" fill="#8fc7da" stroke="#000" stroke-width="0.85"/>
<circle cx="407.12" cy="140.5" r="1.75" fill="#8fc7da" stroke="#000" stroke-width="0.85"/>
<circle cx="407.67" cy="102.5" r="1.75" fill="#8fc7da" stroke="#000" stroke-width="0.85"/>
<circle cx="406.65" cy="137.5" r="1.75" fill="#8fc7da" stroke="#000" stroke-width="0.85"/>
<circle cx="405.85" cy="120.0" r="1.75" fill="#8fc7da" stroke="#000" stroke-width="0.85"/>
<circle cx="407.24" cy="137.95" r="1.75" fill="#8fc7da" stroke="#000" stroke-width="0.85"/>
<line x1="416.0" y1="115" x2="416.0" y2="116.25" stroke="#000" stroke-width="1.2"/>
<line x1="416.0" y1="145" x2="416.0" y2="149.25" stroke="#000" stroke-width="1.2"/>
<line x1="413.8" y1="115" x2="418.2" y2="115" stroke="#000" stroke-width="1.0"/>
<line x1="413.8" y1="149.25" x2="418.2" y2="149.25" stroke="#000" stroke-width="1.0"/>
<rect x="412.5" y="116.25" width="7.0" height="28.75" fill="#bdbdbd" stroke="#000" stroke-width="1.2"/>
<line x1="412.5" y1="130.625" x2="419.5" y2="130.625" stroke="#000" stroke-width="0.8"/>
<circle cx="416.0" cy="115" r="1.75" fill="#d8d8d8" stroke="#000" stroke-width="0.85"/>
<circle cx="416.0" cy="149.25" r="1.75" fill="#d8d8d8" stroke="#000" stroke-width="0.85"/>
<circle cx="416.99" cy="116.75" r="1.75" fill="#d8d8d8" stroke="#000" stroke-width="0.85"/>
<circle cx="416.08" cy="144.5" r="1.75" fill="#d8d8d8" stroke="#000" stroke-width="0.85"/>
<circle cx="416.07" cy="130.62" r="1.75" fill="#d8d8d8" stroke="#000" stroke-width="0.85"/>
<circle cx="415.11" cy="131.48" r="1.75" fill="#d8d8d8" stroke="#000" stroke-width="0.85"/>
<line x1="425.25" y1="94.25" x2="425.25" y2="123" stroke="#000" stroke-width="1.2"/>
<line x1="425.25" y1="142.5" x2="425.25" y2="143" stroke="#000" stroke-width="1.2"/>
<line x1="423.05" y1="94.25" x2="427.45" y2="94.25" stroke="#000" stroke-width="1.0"/>
<line x1="423.05" y1="143" x2="427.45" y2="143" stroke="#000" stroke-width="1.0"/>
<rect x="421.75" y="123" width="7.0" height="19.5" fill="#000000" stroke="#000" stroke-width="1.2"/>
<line x1="421.75" y1="132.75" x2="428.75" y2="132.75" stroke="#fff" stroke-width="0.8"/>
<circle cx="425.25" cy="94.25" r="1.75" fill="#ffffff" stroke="#000" stroke-width="0.85"/>
<circle cx="425.25" cy="143" r="1.75" fill="#ffffff" stroke="#000" stroke-width="0.85"/>
<circle cx="426.59" cy="123.5" r="1.75" fill="#ffffff" stroke="#000" stroke-width="0.85"/>
<circle cx="425.19" cy="142.0" r="1.75" fill="#ffffff" stroke="#000" stroke-width="0.85"/>
<circle cx="424.16" cy="132.75" r="1.75" fill="#ffffff" stroke="#000" stroke-width="0.85"/>
<circle cx="426.72" cy="137.89" r="1.75" fill="#ffffff" stroke="#000" stroke-width="0.85"/>
<line x1="442.125" y1="67.5" x2="442.125" y2="81.25" stroke="#000" stroke-width="1.2"/>
<line x1="442.125" y1="121.25" x2="442.125" y2="122" stroke="#000" stroke-width="1.2"/>
<line x1="439.925" y1="67.5" x2="444.325" y2="67.5" stroke="#000" stroke-width="1.0"/>
<line x1="439.925" y1="122" x2="444.325" y2="122" stroke="#000" stroke-width="1.0"/>
<rect x="438.75" y="81.25" width="6.75" height="40.0" fill="#ffffff" stroke="#000" stroke-width="1.2"/>
<line x1="438.75" y1="101.25" x2="445.5" y2="101.25" stroke="#000" stroke-width="0.8"/>
<circle cx="442.12" cy="67.5" r="1.75" fill="#ffffff" stroke="#000" stroke-width="0.85"/>
<circle cx="442.12" cy="122" r="1.75" fill="#ffffff" stroke="#000" stroke-width="0.85"/>
<circle cx="441.43" cy="81.75" r="1.75" fill="#ffffff" stroke="#000" stroke-width="0.85"/>
<circle cx="441.74" cy="120.75" r="1.75" fill="#ffffff" stroke="#000" stroke-width="0.85"/>
<circle cx="442.18" cy="101.25" r="1.75" fill="#ffffff" stroke="#000" stroke-width="0.85"/>
<circle cx="442.1" cy="114.67" r="1.75" fill="#ffffff" stroke="#000" stroke-width="0.85"/>
<line x1="451.25" y1="75" x2="451.25" y2="82.5" stroke="#000" stroke-width="1.2"/>
<line x1="451.25" y1="113.75" x2="451.25" y2="120.5" stroke="#000" stroke-width="1.2"/>
<line x1="449.05" y1="75" x2="453.45" y2="75" stroke="#000" stroke-width="1.0"/>
<line x1="449.05" y1="120.5" x2="453.45" y2="120.5" stroke="#000" stroke-width="1.0"/>
<rect x="448" y="82.5" width="6.5" height="31.25" fill="#8fc7da" stroke="#000" stroke-width="1.2"/>
<line x1="448" y1="98.125" x2="454.5" y2="98.125" stroke="#000" stroke-width="0.8"/>
<circle cx="451.25" cy="75" r="1.75" fill="#8fc7da" stroke="#000" stroke-width="0.85"/>
<circle cx="451.25" cy="120.5" r="1.75" fill="#8fc7da" stroke="#000" stroke-width="0.85"/>
<circle cx="452.84" cy="83.0" r="1.75" fill="#8fc7da" stroke="#000" stroke-width="0.85"/>
<circle cx="450.12" cy="113.25" r="1.75" fill="#8fc7da" stroke="#000" stroke-width="0.85"/>
<circle cx="451.39" cy="98.12" r="1.75" fill="#8fc7da" stroke="#000" stroke-width="0.85"/>
<circle cx="449.84" cy="89.68" r="1.75" fill="#8fc7da" stroke="#000" stroke-width="0.85"/>
<line x1="460.375" y1="80" x2="460.375" y2="92" stroke="#000" stroke-width="1.2"/>
<line x1="460.375" y1="121.25" x2="460.375" y2="136.25" stroke="#000" stroke-width="1.2"/>
<line x1="458.175" y1="80" x2="462.575" y2="80" stroke="#000" stroke-width="1.0"/>
<line x1="458.175" y1="136.25" x2="462.575" y2="136.25" stroke="#000" stroke-width="1.0"/>
<rect x="457" y="92" width="6.75" height="29.25" fill="#bdbdbd" stroke="#000" stroke-width="1.2"/>
<line x1="457" y1="106.625" x2="463.75" y2="106.625" stroke="#000" stroke-width="0.8"/>
<circle cx="460.38" cy="80" r="1.75" fill="#d8d8d8" stroke="#000" stroke-width="0.85"/>
<circle cx="460.38" cy="136.25" r="1.75" fill="#d8d8d8" stroke="#000" stroke-width="0.85"/>
<circle cx="461.4" cy="92.5" r="1.75" fill="#d8d8d8" stroke="#000" stroke-width="0.85"/>
<circle cx="460.75" cy="120.75" r="1.75" fill="#d8d8d8" stroke="#000" stroke-width="0.85"/>
<circle cx="461.13" cy="106.62" r="1.75" fill="#d8d8d8" stroke="#000" stroke-width="0.85"/>
<circle cx="461.71" cy="95.48" r="1.75" fill="#d8d8d8" stroke="#000" stroke-width="0.85"/>
<line x1="469.375" y1="84.5" x2="469.375" y2="96" stroke="#000" stroke-width="1.2"/>
<line x1="469.375" y1="119.3" x2="469.375" y2="122.5" stroke="#000" stroke-width="1.2"/>
<line x1="467.175" y1="84.5" x2="471.575" y2="84.5" stroke="#000" stroke-width="1.0"/>
<line x1="467.175" y1="122.5" x2="471.575" y2="122.5" stroke="#000" stroke-width="1.0"/>
<rect x="465.75" y="96" width="7.25" height="23.299999999999997" fill="#000000" stroke="#000" stroke-width="1.2"/>
<line x1="465.75" y1="107.65" x2="473" y2="107.65" stroke="#fff" stroke-width="0.8"/>
<circle cx="469.38" cy="84.5" r="1.75" fill="#ffffff" stroke="#000" stroke-width="0.85"/>
<circle cx="469.38" cy="122.5" r="1.75" fill="#ffffff" stroke="#000" stroke-width="0.85"/>
<circle cx="470.88" cy="96.5" r="1.75" fill="#ffffff" stroke="#000" stroke-width="0.85"/>
<circle cx="468.04" cy="118.8" r="1.75" fill="#ffffff" stroke="#000" stroke-width="0.85"/>
<circle cx="470.67" cy="107.65" r="1.75" fill="#ffffff" stroke="#000" stroke-width="0.85"/>
<circle cx="469.69" cy="118.93" r="1.75" fill="#ffffff" stroke="#000" stroke-width="0.85"/>
<line x1="493.35" y1="124" x2="493.35" y2="135" stroke="#000" stroke-width="1.2"/>
<line x1="493.35" y1="146.7" x2="493.35" y2="148" stroke="#000" stroke-width="1.2"/>
<line x1="491.15000000000003" y1="124" x2="495.55" y2="124" stroke="#000" stroke-width="1.0"/>
<line x1="491.15000000000003" y1="148" x2="495.55" y2="148" stroke="#000" stroke-width="1.0"/>
<rect x="490" y="135" width="6.699999999999989" height="11.699999999999989" fill="#ffffff" stroke="#000" stroke-width="1.2"/>
<line x1="490" y1="140.85" x2="496.7" y2="140.85" stroke="#000" stroke-width="0.8"/>
<circle cx="493.35" cy="124" r="1.75" fill="#ffffff" stroke="#000" stroke-width="0.85"/>
<circle cx="493.35" cy="148" r="1.75" fill="#ffffff" stroke="#000" stroke-width="0.85"/>
<circle cx="494.11" cy="135.5" r="1.75" fill="#ffffff" stroke="#000" stroke-width="0.85"/>
<circle cx="493.49" cy="146.2" r="1.75" fill="#ffffff" stroke="#000" stroke-width="0.85"/>
<circle cx="494.82" cy="140.85" r="1.75" fill="#ffffff" stroke="#000" stroke-width="0.85"/>
<circle cx="493.51" cy="144.86" r="1.75" fill="#ffffff" stroke="#000" stroke-width="0.85"/>
<line x1="502.5" y1="125.7" x2="502.5" y2="130" stroke="#000" stroke-width="1.2"/>
<line x1="502.5" y1="146.7" x2="502.5" y2="147" stroke="#000" stroke-width="1.2"/>
<line x1="500.3" y1="125.7" x2="504.7" y2="125.7" stroke="#000" stroke-width="1.0"/>
<line x1="500.3" y1="147" x2="504.7" y2="147" stroke="#000" stroke-width="1.0"/>
<rect x="499.3" y="130" width="6.399999999999977" height="16.69999999999999" fill="#8fc7da" stroke="#000" stroke-width="1.2"/>
<line x1="499.3" y1="138.35" x2="505.7" y2="138.35" stroke="#000" stroke-width="0.8"/>
<circle cx="502.5" cy="125.7" r="1.75" fill="#8fc7da" stroke="#000" stroke-width="0.85"/>
<circle cx="502.5" cy="147" r="1.75" fill="#8fc7da" stroke="#000" stroke-width="0.85"/>
<circle cx="503.71" cy="130.5" r="1.75" fill="#8fc7da" stroke="#000" stroke-width="0.85"/>
<circle cx="502.09" cy="146.2" r="1.75" fill="#8fc7da" stroke="#000" stroke-width="0.85"/>
<circle cx="501.23" cy="138.35" r="1.75" fill="#8fc7da" stroke="#000" stroke-width="0.85"/>
<circle cx="501.93" cy="139.97" r="1.75" fill="#8fc7da" stroke="#000" stroke-width="0.85"/>
<line x1="511.65" y1="125" x2="511.65" y2="130" stroke="#000" stroke-width="1.2"/>
<line x1="511.65" y1="146.7" x2="511.65" y2="154" stroke="#000" stroke-width="1.2"/>
<line x1="509.45" y1="125" x2="513.85" y2="125" stroke="#000" stroke-width="1.0"/>
<line x1="509.45" y1="154" x2="513.85" y2="154" stroke="#000" stroke-width="1.0"/>
<rect x="508.3" y="130" width="6.699999999999989" height="16.69999999999999" fill="#bdbdbd" stroke="#000" stroke-width="1.2"/>
<line x1="508.3" y1="138.35" x2="515" y2="138.35" stroke="#000" stroke-width="0.8"/>
<circle cx="511.65" cy="125" r="1.75" fill="#d8d8d8" stroke="#000" stroke-width="0.85"/>
<circle cx="511.65" cy="154" r="1.75" fill="#d8d8d8" stroke="#000" stroke-width="0.85"/>
<circle cx="512.28" cy="130.5" r="1.75" fill="#d8d8d8" stroke="#000" stroke-width="0.85"/>
<circle cx="510.3" cy="146.2" r="1.75" fill="#d8d8d8" stroke="#000" stroke-width="0.85"/>
<circle cx="511.55" cy="138.35" r="1.75" fill="#d8d8d8" stroke="#000" stroke-width="0.85"/>
<circle cx="512.26" cy="146.18" r="1.75" fill="#d8d8d8" stroke="#000" stroke-width="0.85"/>
<line x1="520.8" y1="121.7" x2="520.8" y2="135" stroke="#000" stroke-width="1.2"/>
<line x1="520.8" y1="150" x2="520.8" y2="154" stroke="#000" stroke-width="1.2"/>
<line x1="518.5999999999999" y1="121.7" x2="523.0" y2="121.7" stroke="#000" stroke-width="1.0"/>
<line x1="518.5999999999999" y1="154" x2="523.0" y2="154" stroke="#000" stroke-width="1.0"/>
<rect x="517.3" y="135" width="7.0" height="15" fill="#000000" stroke="#000" stroke-width="1.2"/>
<line x1="517.3" y1="142.5" x2="524.3" y2="142.5" stroke="#fff" stroke-width="0.8"/>
<circle cx="520.8" cy="121.7" r="1.75" fill="#ffffff" stroke="#000" stroke-width="0.85"/>
<circle cx="520.8" cy="154" r="1.75" fill="#ffffff" stroke="#000" stroke-width="0.85"/>
<circle cx="519.63" cy="135.5" r="1.75" fill="#ffffff" stroke="#000" stroke-width="0.85"/>
<circle cx="521.48" cy="149.5" r="1.75" fill="#ffffff" stroke="#000" stroke-width="0.85"/>
<circle cx="522.06" cy="142.5" r="1.75" fill="#ffffff" stroke="#000" stroke-width="0.85"/>
<circle cx="522.23" cy="140.63" r="1.75" fill="#ffffff" stroke="#000" stroke-width="0.85"/>
<line x1="537.5" y1="111" x2="537.5" y2="112.5" stroke="#000" stroke-width="1.2"/>
<line x1="537.5" y1="131" x2="537.5" y2="135" stroke="#000" stroke-width="1.2"/>
<line x1="535.3" y1="111" x2="539.7" y2="111" stroke="#000" stroke-width="1.0"/>
<line x1="535.3" y1="135" x2="539.7" y2="135" stroke="#000" stroke-width="1.0"/>
<rect x="534" y="112.5" width="7" height="18.5" fill="#ffffff" stroke="#000" stroke-width="1.2"/>
<line x1="534" y1="121.75" x2="541" y2="121.75" stroke="#000" stroke-width="0.8"/>
<circle cx="537.5" cy="111" r="1.75" fill="#ffffff" stroke="#000" stroke-width="0.85"/>
<circle cx="537.5" cy="135" r="1.75" fill="#ffffff" stroke="#000" stroke-width="0.85"/>
<circle cx="536.99" cy="113.0" r="1.75" fill="#ffffff" stroke="#000" stroke-width="0.85"/>
<circle cx="537.59" cy="130.5" r="1.75" fill="#ffffff" stroke="#000" stroke-width="0.85"/>
<circle cx="536.16" cy="121.75" r="1.75" fill="#ffffff" stroke="#000" stroke-width="0.85"/>
<circle cx="538.19" cy="117.48" r="1.75" fill="#ffffff" stroke="#000" stroke-width="0.85"/>
<line x1="546.65" y1="68.3" x2="546.65" y2="108.3" stroke="#000" stroke-width="1.2"/>
<line x1="546.65" y1="126" x2="546.65" y2="139.3" stroke="#000" stroke-width="1.2"/>
<line x1="544.4499999999999" y1="68.3" x2="548.85" y2="68.3" stroke="#000" stroke-width="1.0"/>
<line x1="544.4499999999999" y1="139.3" x2="548.85" y2="139.3" stroke="#000" stroke-width="1.0"/>
<rect x="543.3" y="108.3" width="6.7000000000000455" height="17.700000000000003" fill="#8fc7da" stroke="#000" stroke-width="1.2"/>
<line x1="543.3" y1="117.15" x2="550" y2="117.15" stroke="#000" stroke-width="0.8"/>
<circle cx="546.65" cy="68.3" r="1.75" fill="#8fc7da" stroke="#000" stroke-width="0.85"/>
<circle cx="546.65" cy="139.3" r="1.75" fill="#8fc7da" stroke="#000" stroke-width="0.85"/>
<circle cx="547.56" cy="108.8" r="1.75" fill="#8fc7da" stroke="#000" stroke-width="0.85"/>
<circle cx="547.22" cy="125.5" r="1.75" fill="#8fc7da" stroke="#000" stroke-width="0.85"/>
<circle cx="546.61" cy="117.15" r="1.75" fill="#8fc7da" stroke="#000" stroke-width="0.85"/>
<circle cx="546.88" cy="120.52" r="1.75" fill="#8fc7da" stroke="#000" stroke-width="0.85"/>
<line x1="556.0" y1="108" x2="556.0" y2="108.3" stroke="#000" stroke-width="1.2"/>
<line x1="556.0" y1="142.7" x2="556.0" y2="154.3" stroke="#000" stroke-width="1.2"/>
<line x1="553.8" y1="108" x2="558.2" y2="108" stroke="#000" stroke-width="1.0"/>
<line x1="553.8" y1="154.3" x2="558.2" y2="154.3" stroke="#000" stroke-width="1.0"/>
<rect x="552.7" y="108.3" width="6.599999999999909" height="34.39999999999999" fill="#bdbdbd" stroke="#000" stroke-width="1.2"/>
<line x1="552.7" y1="125.5" x2="559.3" y2="125.5" stroke="#000" stroke-width="0.8"/>
<circle cx="556.0" cy="108" r="1.75" fill="#d8d8d8" stroke="#000" stroke-width="0.85"/>
<circle cx="556.0" cy="154.3" r="1.75" fill="#d8d8d8" stroke="#000" stroke-width="0.85"/>
<circle cx="556.86" cy="108.8" r="1.75" fill="#d8d8d8" stroke="#000" stroke-width="0.85"/>
<circle cx="556.92" cy="142.2" r="1.75" fill="#d8d8d8" stroke="#000" stroke-width="0.85"/>
<circle cx="554.41" cy="125.5" r="1.75" fill="#d8d8d8" stroke="#000" stroke-width="0.85"/>
<circle cx="557.5" cy="129.45" r="1.75" fill="#d8d8d8" stroke="#000" stroke-width="0.85"/>
<line x1="565.2" y1="105" x2="565.2" y2="115" stroke="#000" stroke-width="1.2"/>
<line x1="565.2" y1="140" x2="565.2" y2="154" stroke="#000" stroke-width="1.2"/>
<line x1="563.0" y1="105" x2="567.4000000000001" y2="105" stroke="#000" stroke-width="1.0"/>
<line x1="563.0" y1="154" x2="567.4000000000001" y2="154" stroke="#000" stroke-width="1.0"/>
<rect x="561.7" y="115" width="7.0" height="25" fill="#000000" stroke="#000" stroke-width="1.2"/>
<line x1="561.7" y1="127.5" x2="568.7" y2="127.5" stroke="#fff" stroke-width="0.8"/>
<circle cx="565.2" cy="105" r="1.75" fill="#ffffff" stroke="#000" stroke-width="0.85"/>
<circle cx="565.2" cy="154" r="1.75" fill="#ffffff" stroke="#000" stroke-width="0.85"/>
<circle cx="564.66" cy="115.5" r="1.75" fill="#ffffff" stroke="#000" stroke-width="0.85"/>
<circle cx="563.63" cy="139.5" r="1.75" fill="#ffffff" stroke="#000" stroke-width="0.85"/>
<circle cx="564.38" cy="127.5" r="1.75" fill="#ffffff" stroke="#000" stroke-width="0.85"/>
<circle cx="565.59" cy="128.03" r="1.75" fill="#ffffff" stroke="#000" stroke-width="0.85"/>
<line x1="581.35" y1="39" x2="581.35" y2="61.7" stroke="#000" stroke-width="1.2"/>
<line x1="581.35" y1="110" x2="581.35" y2="117.3" stroke="#000" stroke-width="1.2"/>
<line x1="579.15" y1="39" x2="583.5500000000001" y2="39" stroke="#000" stroke-width="1.0"/>
<line x1="579.15" y1="117.3" x2="583.5500000000001" y2="117.3" stroke="#000" stroke-width="1.0"/>
<rect x="577.7" y="61.7" width="7.2999999999999545" height="48.3" fill="#ffffff" stroke="#000" stroke-width="1.2"/>
<line x1="577.7" y1="85.85" x2="585" y2="85.85" stroke="#000" stroke-width="0.8"/>
<circle cx="581.35" cy="39" r="1.75" fill="#ffffff" stroke="#000" stroke-width="0.85"/>
<circle cx="581.35" cy="117.3" r="1.75" fill="#ffffff" stroke="#000" stroke-width="0.85"/>
<circle cx="582.29" cy="62.2" r="1.75" fill="#ffffff" stroke="#000" stroke-width="0.85"/>
<circle cx="581.44" cy="109.5" r="1.75" fill="#ffffff" stroke="#000" stroke-width="0.85"/>
<circle cx="581.24" cy="85.85" r="1.75" fill="#ffffff" stroke="#000" stroke-width="0.85"/>
<circle cx="581.78" cy="66.36" r="1.75" fill="#ffffff" stroke="#000" stroke-width="0.85"/>
<line x1="590.8" y1="61.7" x2="590.8" y2="69.3" stroke="#000" stroke-width="1.2"/>
<line x1="590.8" y1="102.7" x2="590.8" y2="123.3" stroke="#000" stroke-width="1.2"/>
<line x1="588.5999999999999" y1="61.7" x2="593.0" y2="61.7" stroke="#000" stroke-width="1.0"/>
<line x1="588.5999999999999" y1="123.3" x2="593.0" y2="123.3" stroke="#000" stroke-width="1.0"/>
<rect x="587.3" y="69.3" width="7.0" height="33.400000000000006" fill="#8fc7da" stroke="#000" stroke-width="1.2"/>
<line x1="587.3" y1="86.0" x2="594.3" y2="86.0" stroke="#000" stroke-width="0.8"/>
<circle cx="590.8" cy="61.7" r="1.75" fill="#8fc7da" stroke="#000" stroke-width="0.85"/>
<circle cx="590.8" cy="123.3" r="1.75" fill="#8fc7da" stroke="#000" stroke-width="0.85"/>
<circle cx="589.73" cy="69.8" r="1.75" fill="#8fc7da" stroke="#000" stroke-width="0.85"/>
<circle cx="591.74" cy="102.2" r="1.75" fill="#8fc7da" stroke="#000" stroke-width="0.85"/>
<circle cx="590.99" cy="86.0" r="1.75" fill="#8fc7da" stroke="#000" stroke-width="0.85"/>
<circle cx="591.35" cy="95.75" r="1.75" fill="#8fc7da" stroke="#000" stroke-width="0.85"/>
<line x1="599.65" y1="46.7" x2="599.65" y2="54.3" stroke="#000" stroke-width="1.2"/>
<line x1="599.65" y1="130" x2="599.65" y2="145.7" stroke="#000" stroke-width="1.2"/>
<line x1="597.4499999999999" y1="46.7" x2="601.85" y2="46.7" stroke="#000" stroke-width="1.0"/>
<line x1="597.4499999999999" y1="145.7" x2="601.85" y2="145.7" stroke="#000" stroke-width="1.0"/>
<rect x="596" y="54.3" width="7.2999999999999545" height="75.7" fill="#bdbdbd" stroke="#000" stroke-width="1.2"/>
<line x1="596" y1="92.15" x2="603.3" y2="92.15" stroke="#000" stroke-width="0.8"/>
<circle cx="599.65" cy="46.7" r="1.75" fill="#d8d8d8" stroke="#000" stroke-width="0.85"/>
<circle cx="599.65" cy="145.7" r="1.75" fill="#d8d8d8" stroke="#000" stroke-width="0.85"/>
<circle cx="599.44" cy="54.8" r="1.75" fill="#d8d8d8" stroke="#000" stroke-width="0.85"/>
<circle cx="599.88" cy="129.5" r="1.75" fill="#d8d8d8" stroke="#000" stroke-width="0.85"/>
<circle cx="600.65" cy="92.15" r="1.75" fill="#d8d8d8" stroke="#000" stroke-width="0.85"/>
<circle cx="600.53" cy="57.23" r="1.75" fill="#d8d8d8" stroke="#000" stroke-width="0.85"/>
<line x1="609.2" y1="57.7" x2="609.2" y2="90.7" stroke="#000" stroke-width="1.2"/>
<line x1="609.2" y1="126" x2="609.2" y2="138.3" stroke="#000" stroke-width="1.2"/>
<line x1="607.0" y1="57.7" x2="611.4000000000001" y2="57.7" stroke="#000" stroke-width="1.0"/>
<line x1="607.0" y1="138.3" x2="611.4000000000001" y2="138.3" stroke="#000" stroke-width="1.0"/>
<rect x="605.7" y="90.7" width="7.0" height="35.3" fill="#000000" stroke="#000" stroke-width="1.2"/>
<line x1="605.7" y1="108.35" x2="612.7" y2="108.35" stroke="#fff" stroke-width="0.8"/>
<circle cx="609.2" cy="57.7" r="1.75" fill="#ffffff" stroke="#000" stroke-width="0.85"/>
<circle cx="609.2" cy="138.3" r="1.75" fill="#ffffff" stroke="#000" stroke-width="0.85"/>
<circle cx="607.96" cy="91.2" r="1.75" fill="#ffffff" stroke="#000" stroke-width="0.85"/>
<circle cx="610.6" cy="125.5" r="1.75" fill="#ffffff" stroke="#000" stroke-width="0.85"/>
<circle cx="610.3" cy="108.35" r="1.75" fill="#ffffff" stroke="#000" stroke-width="0.85"/>
<circle cx="608.08" cy="103.55" r="1.75" fill="#ffffff" stroke="#000" stroke-width="0.85"/>
<path d="M74.1,115.9 L74.1,109.4 L102.25,109.4 L102.25,115.6" fill="none" stroke="#000" stroke-width="1.25"/>
<text x="88.9" y="111.4" font-size="11.5" text-anchor="middle" letter-spacing="0.8" >*</text>
<path d="M118.5,77 L118.5,73.5 L128.5,73.5 L128.5,77.25" fill="none" stroke="#000" stroke-width="1.25"/>
<text x="127.30000000000001" y="75.5" font-size="11.5" text-anchor="middle" letter-spacing="0.8" >***</text>
<path d="M118.5,66.25 L118.5,61.9 L137.5,61.9 L137.5,68.1" fill="none" stroke="#000" stroke-width="1.25"/>
<text x="127.9" y="63.9" font-size="11.5" text-anchor="middle" letter-spacing="0.8" >***</text>
<path d="M118.5,53.5 L118.5,52.1 L146.6,52.1 L146.6,62.5" fill="none" stroke="#000" stroke-width="1.25"/>
<text x="133.20000000000002" y="54.1" font-size="11.5" text-anchor="middle" letter-spacing="0.8" >***</text>
<path d="M162.5,72.5 L162.5,68.75 L172.1,68.75 L172.1,73.5" fill="none" stroke="#000" stroke-width="1.25"/>
<text x="171.65" y="70.75" font-size="11.5" text-anchor="middle" letter-spacing="0.8" >***</text>
<path d="M162.5,61.9 L162.5,57.5 L181.5,57.5 L181.5,63.1" fill="none" stroke="#000" stroke-width="1.25"/>
<text x="172.4" y="59.5" font-size="11.5" text-anchor="middle" letter-spacing="0.8" >***</text>
<path d="M162.5,49 L162.5,47.5 L190.4,47.5 L190.4,58.1" fill="none" stroke="#000" stroke-width="1.25"/>
<text x="176.8" y="49.5" font-size="11.5" text-anchor="middle" letter-spacing="0.8" >***</text>
<path d="M257.5,68 L257.5,64.25 L267,64.25 L267,68.75" fill="none" stroke="#000" stroke-width="1.25"/>
<text x="262.65" y="66.25" font-size="11.5" text-anchor="middle" letter-spacing="0.8" >*</text>
<path d="M257.5,57 L257.5,53.25 L276.25,53.25 L276.25,59.25" fill="none" stroke="#000" stroke-width="1.25"/>
<text x="267.275" y="55.25" font-size="11.5" text-anchor="middle" letter-spacing="0.8" >**</text>
<path d="M257.5,45 L257.5,43 L285.5,43 L285.5,53" fill="none" stroke="#000" stroke-width="1.25"/>
<text x="271.9" y="45.0" font-size="11.5" text-anchor="middle" letter-spacing="0.8" >***</text>
<path d="M301.25,50 L301.25,45.75 L311.25,45.75 L311.25,51.25" fill="none" stroke="#000" stroke-width="1.25"/>
<text x="306.65" y="47.75" font-size="11.5" text-anchor="middle" letter-spacing="0.8" >**</text>
<path d="M301.25,39 L301.25,35 L321.25,35 L321.25,41.25" fill="none" stroke="#000" stroke-width="1.25"/>
<text x="311.65" y="37.0" font-size="11.5" text-anchor="middle" letter-spacing="0.8" >**</text>
<path d="M301.25,26 L301.25,24.5 L330,24.5 L330,35" fill="none" stroke="#000" stroke-width="1.25"/>
<text x="316.025" y="26.5" font-size="11.5" text-anchor="middle" letter-spacing="0.8" >***</text>
<path d="M397.5,61 L397.5,57 L416.25,57 L416.25,62.5" fill="none" stroke="#000" stroke-width="1.25"/>
<text x="407.275" y="59.0" font-size="11.5" text-anchor="middle" letter-spacing="0.8" >***</text>
<path d="M397.5,48.5 L397.5,46.75 L425.5,46.75 L425.5,57" fill="none" stroke="#000" stroke-width="1.25"/>
<text x="411.9" y="48.75" font-size="11.5" text-anchor="middle" letter-spacing="0.8" >**</text>
<text x="623.5" y="38.3" font-size="12" text-anchor="start" >AUF µg/mL</text>
<rect x="625.0" y="45.599999999999994" width="6" height="6" fill="#ffffff" stroke="#000" stroke-width="1.2"/>
<text x="642.4" y="52.89999999999999" font-size="12" text-anchor="start" >-</text>
<rect x="625.0" y="60.0" width="6" height="6" fill="#8fc7da" stroke="#000" stroke-width="1.2"/>
<text x="642.4" y="67.3" font-size="12" text-anchor="start" letter-spacing="0.35" >0,25</text>
<rect x="625.0" y="76.8" width="6" height="6" fill="#bdbdbd" stroke="#000" stroke-width="1.2"/>
<text x="642.4" y="84.1" font-size="12" text-anchor="start" letter-spacing="0.35" >0,5</text>
<rect x="625.0" y="93.5" width="6" height="6" fill="#000000" stroke="#000" stroke-width="1.2"/>
<text x="642.4" y="100.8" font-size="12" text-anchor="start" letter-spacing="0.35" >1</text>
<text x="623.5" y="249.3" font-size="12" text-anchor="start" >AUF µg/mL</text>
<rect x="625.0" y="256.6" width="6" height="6" fill="#ffffff" stroke="#000" stroke-width="1.2"/>
<text x="642.4" y="263.90000000000003" font-size="12" text-anchor="start" >-</text>
<rect x="625.0" y="271.0" width="6" height="6" fill="#8fc7da" stroke="#000" stroke-width="1.2"/>
<text x="642.4" y="278.3" font-size="12" text-anchor="start" letter-spacing="0.35" >0,25</text>
<rect x="625.0" y="287.8" width="6" height="6" fill="#bdbdbd" stroke="#000" stroke-width="1.2"/>
<text x="642.4" y="295.1" font-size="12" text-anchor="start" letter-spacing="0.35" >0,5</text>
<rect x="625.0" y="304.5" width="6" height="6" fill="#000000" stroke="#000" stroke-width="1.2"/>
<text x="642.4" y="311.8" font-size="12" text-anchor="start" letter-spacing="0.35" >1</text>
<text x="8.4" y="226.2" font-size="16" text-anchor="start" font-weight="bold" >B</text>
<text x="68.5" y="222.5" font-size="12" text-anchor="start" font-weight="bold" >Lysis of K562</text>
<text x="68.7" y="235.4" font-size="12" text-anchor="start" font-weight="bold" >0h</text>
<text x="207.4" y="237.8" font-size="12" text-anchor="start" font-weight="bold" >24h</text>
<text x="344.9" y="237" font-size="12" text-anchor="start" font-weight="bold" >48h</text>
<text x="488.7" y="239.9" font-size="12" text-anchor="start" font-weight="bold" >72h</text>
<line x1="67" y1="240.5" x2="67" y2="372.2" stroke="#000" stroke-width="1.55"/>
<line x1="66.3" y1="371.7" x2="198" y2="371.7" stroke="#000" stroke-width="1.6"/>
<line x1="88.3" y1="371.7" x2="88.3" y2="375.3" stroke="#000" stroke-width="1.5"/>
<text x="88.475" y="390" font-size="12" text-anchor="middle" letter-spacing="0.35" >0</text>
<line x1="132.6" y1="371.7" x2="132.6" y2="375.3" stroke="#000" stroke-width="1.5"/>
<text x="132.775" y="390" font-size="12" text-anchor="middle" letter-spacing="0.35" >100</text>
<line x1="176.9" y1="371.7" x2="176.9" y2="375.3" stroke="#000" stroke-width="1.5"/>
<text x="177.07500000000002" y="390" font-size="12" text-anchor="middle" letter-spacing="0.35" >250</text>
<text x="133.4" y="404.8" font-size="12" text-anchor="middle">H<tspan font-size="10" dy="3.4">2</tspan><tspan dy="-3.4">O</tspan><tspan font-size="10" dy="3.4">2</tspan><tspan dy="-3.4"> [µM]</tspan></text>
<line x1="63.3" y1="240.8" x2="67" y2="240.8" stroke="#000" stroke-width="1.5"/>
<text x="59.85" y="245.10000000000002" font-size="12" text-anchor="end" letter-spacing="0.35" >100</text>
<line x1="63.3" y1="265.7" x2="67" y2="265.7" stroke="#000" stroke-width="1.5"/>
<text x="59.85" y="270.0" font-size="12" text-anchor="end" letter-spacing="0.35" >80</text>
<line x1="63.3" y1="290.6" x2="67" y2="290.6" stroke="#000" stroke-width="1.5"/>
<text x="59.85" y="294.90000000000003" font-size="12" text-anchor="end" letter-spacing="0.35" >60</text>
<line x1="63.3" y1="315.4" x2="67" y2="315.4" stroke="#000" stroke-width="1.5"/>
<text x="59.85" y="319.7" font-size="12" text-anchor="end" letter-spacing="0.35" >40</text>
<line x1="63.3" y1="340.3" x2="67" y2="340.3" stroke="#000" stroke-width="1.5"/>
<text x="59.85" y="344.6" font-size="12" text-anchor="end" letter-spacing="0.35" >20</text>
<line x1="63.3" y1="365.2" x2="67" y2="365.2" stroke="#000" stroke-width="1.5"/>
<text x="59.85" y="369.5" font-size="12" text-anchor="end" letter-spacing="0.35" >0</text>
<line x1="206.9" y1="240.5" x2="206.9" y2="372.2" stroke="#000" stroke-width="1.55"/>
<line x1="206.20000000000002" y1="371.7" x2="337.9" y2="371.7" stroke="#000" stroke-width="1.6"/>
<line x1="228.20000000000002" y1="371.7" x2="228.20000000000002" y2="375.3" stroke="#000" stroke-width="1.5"/>
<text x="228.37500000000003" y="390" font-size="12" text-anchor="middle" letter-spacing="0.35" >0</text>
<line x1="272.5" y1="371.7" x2="272.5" y2="375.3" stroke="#000" stroke-width="1.5"/>
<text x="272.675" y="390" font-size="12" text-anchor="middle" letter-spacing="0.35" >100</text>
<line x1="316.8" y1="371.7" x2="316.8" y2="375.3" stroke="#000" stroke-width="1.5"/>
<text x="316.975" y="390" font-size="12" text-anchor="middle" letter-spacing="0.35" >250</text>
<text x="273.3" y="404.8" font-size="12" text-anchor="middle">H<tspan font-size="10" dy="3.4">2</tspan><tspan dy="-3.4">O</tspan><tspan font-size="10" dy="3.4">2</tspan><tspan dy="-3.4"> [µM]</tspan></text>
<line x1="346.0" y1="240.5" x2="346.0" y2="372.2" stroke="#000" stroke-width="1.55"/>
<line x1="345.3" y1="371.7" x2="477.0" y2="371.7" stroke="#000" stroke-width="1.6"/>
<line x1="367.3" y1="371.7" x2="367.3" y2="375.3" stroke="#000" stroke-width="1.5"/>
<text x="367.475" y="390" font-size="12" text-anchor="middle" letter-spacing="0.35" >0</text>
<line x1="411.6" y1="371.7" x2="411.6" y2="375.3" stroke="#000" stroke-width="1.5"/>
<text x="411.77500000000003" y="390" font-size="12" text-anchor="middle" letter-spacing="0.35" >100</text>
<line x1="455.9" y1="371.7" x2="455.9" y2="375.3" stroke="#000" stroke-width="1.5"/>
<text x="456.075" y="390" font-size="12" text-anchor="middle" letter-spacing="0.35" >250</text>
<text x="412.4" y="404.8" font-size="12" text-anchor="middle">H<tspan font-size="10" dy="3.4">2</tspan><tspan dy="-3.4">O</tspan><tspan font-size="10" dy="3.4">2</tspan><tspan dy="-3.4"> [µM]</tspan></text>
<line x1="485.8" y1="240.5" x2="485.8" y2="372.2" stroke="#000" stroke-width="1.55"/>
<line x1="485.1" y1="371.7" x2="616.8" y2="371.7" stroke="#000" stroke-width="1.6"/>
<line x1="507.1" y1="371.7" x2="507.1" y2="375.3" stroke="#000" stroke-width="1.5"/>
<text x="507.27500000000003" y="390" font-size="12" text-anchor="middle" letter-spacing="0.35" >0</text>
<line x1="551.4" y1="371.7" x2="551.4" y2="375.3" stroke="#000" stroke-width="1.5"/>
<text x="551.5749999999999" y="390" font-size="12" text-anchor="middle" letter-spacing="0.35" >100</text>
<line x1="595.7" y1="371.7" x2="595.7" y2="375.3" stroke="#000" stroke-width="1.5"/>
<text x="595.875" y="390" font-size="12" text-anchor="middle" letter-spacing="0.35" >250</text>
<text x="552.2" y="404.8" font-size="12" text-anchor="middle">H<tspan font-size="10" dy="3.4">2</tspan><tspan dy="-3.4">O</tspan><tspan font-size="10" dy="3.4">2</tspan><tspan dy="-3.4"> [µM]</tspan></text>
<text transform="translate(33.2,311.2) rotate(-90)" font-size="12" text-anchor="middle">% specific lysis</text>
<line x1="74.625" y1="277" x2="74.625" y2="285.5" stroke="#000" stroke-width="1.2"/>
<line x1="74.625" y1="297.5" x2="74.625" y2="312.5" stroke="#000" stroke-width="1.2"/>
<line x1="72.425" y1="277" x2="76.825" y2="277" stroke="#000" stroke-width="1.0"/>
<line x1="72.425" y1="312.5" x2="76.825" y2="312.5" stroke="#000" stroke-width="1.0"/>
<rect x="71.25" y="285.5" width="6.75" height="12.0" fill="#ffffff" stroke="#000" stroke-width="1.2"/>
<line x1="71.25" y1="291.5" x2="78" y2="291.5" stroke="#000" stroke-width="0.8"/>
<circle cx="74.62" cy="277" r="1.75" fill="#ffffff" stroke="#000" stroke-width="0.85"/>
<circle cx="74.62" cy="312.5" r="1.75" fill="#ffffff" stroke="#000" stroke-width="0.85"/>
<circle cx="74.46" cy="286.0" r="1.75" fill="#ffffff" stroke="#000" stroke-width="0.85"/>
<circle cx="73.33" cy="297.0" r="1.75" fill="#ffffff" stroke="#000" stroke-width="0.85"/>
<circle cx="75.58" cy="291.5" r="1.75" fill="#ffffff" stroke="#000" stroke-width="0.85"/>
<circle cx="75.98" cy="290.72" r="1.75" fill="#ffffff" stroke="#000" stroke-width="0.85"/>
<line x1="83.75" y1="277" x2="83.75" y2="287" stroke="#000" stroke-width="1.2"/>
<line x1="83.75" y1="296.25" x2="83.75" y2="297" stroke="#000" stroke-width="1.2"/>
<line x1="81.55" y1="277" x2="85.95" y2="277" stroke="#000" stroke-width="1.0"/>
<line x1="81.55" y1="297" x2="85.95" y2="297" stroke="#000" stroke-width="1.0"/>
<rect x="80.5" y="287" width="6.5" height="9.25" fill="#8fc7da" stroke="#000" stroke-width="1.2"/>
<line x1="80.5" y1="291.625" x2="87" y2="291.625" stroke="#000" stroke-width="0.8"/>
<circle cx="83.75" cy="277" r="1.75" fill="#8fc7da" stroke="#000" stroke-width="0.85"/>
<circle cx="83.75" cy="297" r="1.75" fill="#8fc7da" stroke="#000" stroke-width="0.85"/>
<circle cx="82.38" cy="287.5" r="1.75" fill="#8fc7da" stroke="#000" stroke-width="0.85"/>
<circle cx="85.26" cy="295.75" r="1.75" fill="#8fc7da" stroke="#000" stroke-width="0.85"/>
<circle cx="85.33" cy="291.62" r="1.75" fill="#8fc7da" stroke="#000" stroke-width="0.85"/>
<circle cx="83.85" cy="288.06" r="1.75" fill="#8fc7da" stroke="#000" stroke-width="0.85"/>
<line x1="92.5" y1="276.25" x2="92.5" y2="282.5" stroke="#000" stroke-width="1.2"/>
<line x1="92.5" y1="300" x2="92.5" y2="300" stroke="#000" stroke-width="1.2"/>
<line x1="90.3" y1="276.25" x2="94.7" y2="276.25" stroke="#000" stroke-width="1.0"/>
<line x1="90.3" y1="300" x2="94.7" y2="300" stroke="#000" stroke-width="1.0"/>
<rect x="88.75" y="282.5" width="7.5" height="17.5" fill="#bdbdbd" stroke="#000" stroke-width="1.2"/>
<line x1="88.75" y1="291.25" x2="96.25" y2="291.25" stroke="#000" stroke-width="0.8"/>
<circle cx="92.5" cy="276.25" r="1.75" fill="#d8d8d8" stroke="#000" stroke-width="0.85"/>
<circle cx="92.5" cy="300" r="1.75" fill="#d8d8d8" stroke="#000" stroke-width="0.85"/>
<circle cx="91.74" cy="283.0" r="1.75" fill="#d8d8d8" stroke="#000" stroke-width="0.85"/>
<circle cx="91.15" cy="299.5" r="1.75" fill="#d8d8d8" stroke="#000" stroke-width="0.85"/>
<circle cx="93.54" cy="291.25" r="1.75" fill="#d8d8d8" stroke="#000" stroke-width="0.85"/>
<circle cx="92.37" cy="283.11" r="1.75" fill="#d8d8d8" stroke="#000" stroke-width="0.85"/>
<line x1="102.5" y1="285" x2="102.5" y2="286.25" stroke="#000" stroke-width="1.2"/>
<line x1="102.5" y1="290.5" x2="102.5" y2="297" stroke="#000" stroke-width="1.2"/>
<line x1="100.3" y1="285" x2="104.7" y2="285" stroke="#000" stroke-width="1.0"/>
<line x1="100.3" y1="297" x2="104.7" y2="297" stroke="#000" stroke-width="1.0"/>
<rect x="98.75" y="286.25" width="7.5" height="4.25" fill="#000000" stroke="#000" stroke-width="1.2"/>
<line x1="98.75" y1="288.375" x2="106.25" y2="288.375" stroke="#fff" stroke-width="0.8"/>
<circle cx="102.5" cy="285" r="1.75" fill="#ffffff" stroke="#000" stroke-width="0.85"/>
<circle cx="102.5" cy="297" r="1.75" fill="#ffffff" stroke="#000" stroke-width="0.85"/>
<circle cx="102.96" cy="286.75" r="1.75" fill="#ffffff" stroke="#000" stroke-width="0.85"/>
<circle cx="102.74" cy="290.0" r="1.75" fill="#ffffff" stroke="#000" stroke-width="0.85"/>
<circle cx="102.14" cy="288.38" r="1.75" fill="#ffffff" stroke="#000" stroke-width="0.85"/>
<circle cx="103.15" cy="290.19" r="1.75" fill="#ffffff" stroke="#000" stroke-width="0.85"/>
<line x1="118.75" y1="285.75" x2="118.75" y2="302" stroke="#000" stroke-width="1.2"/>
<line x1="118.75" y1="336.25" x2="118.75" y2="348.75" stroke="#000" stroke-width="1.2"/>
<line x1="116.55" y1="285.75" x2="120.95" y2="285.75" stroke="#000" stroke-width="1.0"/>
<line x1="116.55" y1="348.75" x2="120.95" y2="348.75" stroke="#000" stroke-width="1.0"/>
<rect x="115" y="302" width="7.5" height="34.25" fill="#ffffff" stroke="#000" stroke-width="1.2"/>
<line x1="115" y1="319.125" x2="122.5" y2="319.125" stroke="#000" stroke-width="0.8"/>
<circle cx="118.75" cy="285.75" r="1.75" fill="#ffffff" stroke="#000" stroke-width="0.85"/>
<circle cx="118.75" cy="348.75" r="1.75" fill="#ffffff" stroke="#000" stroke-width="0.85"/>
<circle cx="117.73" cy="302.5" r="1.75" fill="#ffffff" stroke="#000" stroke-width="0.85"/>
<circle cx="120.34" cy="335.75" r="1.75" fill="#ffffff" stroke="#000" stroke-width="0.85"/>
<circle cx="118.32" cy="319.12" r="1.75" fill="#ffffff" stroke="#000" stroke-width="0.85"/>
<circle cx="117.43" cy="323.27" r="1.75" fill="#ffffff" stroke="#000" stroke-width="0.85"/>
<line x1="127.875" y1="278.75" x2="127.875" y2="283.75" stroke="#000" stroke-width="1.2"/>
<line x1="127.875" y1="295" x2="127.875" y2="306.25" stroke="#000" stroke-width="1.2"/>
<line x1="125.675" y1="278.75" x2="130.075" y2="278.75" stroke="#000" stroke-width="1.0"/>
<line x1="125.675" y1="306.25" x2="130.075" y2="306.25" stroke="#000" stroke-width="1.0"/>
<rect x="124.5" y="283.75" width="6.75" height="11.25" fill="#8fc7da" stroke="#000" stroke-width="1.2"/>
<line x1="124.5" y1="289.375" x2="131.25" y2="289.375" stroke="#000" stroke-width="0.8"/>
<circle cx="127.88" cy="278.75" r="1.75" fill="#8fc7da" stroke="#000" stroke-width="0.85"/>
<circle cx="127.88" cy="306.25" r="1.75" fill="#8fc7da" stroke="#000" stroke-width="0.85"/>
<circle cx="127.96" cy="284.25" r="1.75" fill="#8fc7da" stroke="#000" stroke-width="0.85"/>
<circle cx="129.29" cy="294.5" r="1.75" fill="#8fc7da" stroke="#000" stroke-width="0.85"/>
<circle cx="128.21" cy="289.38" r="1.75" fill="#8fc7da" stroke="#000" stroke-width="0.85"/>
<circle cx="129.38" cy="284.41" r="1.75" fill="#8fc7da" stroke="#000" stroke-width="0.85"/>
<line x1="137.125" y1="266.75" x2="137.125" y2="275" stroke="#000" stroke-width="1.2"/>
<line x1="137.125" y1="298" x2="137.125" y2="298.5" stroke="#000" stroke-width="1.2"/>
<line x1="134.925" y1="266.75" x2="139.325" y2="266.75" stroke="#000" stroke-width="1.0"/>
<line x1="134.925" y1="298.5" x2="139.325" y2="298.5" stroke="#000" stroke-width="1.0"/>
<rect x="133.75" y="275" width="6.75" height="23" fill="#bdbdbd" stroke="#000" stroke-width="1.2"/>
<line x1="133.75" y1="286.5" x2="140.5" y2="286.5" stroke="#000" stroke-width="0.8"/>
<circle cx="137.12" cy="266.75" r="1.75" fill="#d8d8d8" stroke="#000" stroke-width="0.85"/>
<circle cx="137.12" cy="298.5" r="1.75" fill="#d8d8d8" stroke="#000" stroke-width="0.85"/>
<circle cx="136.28" cy="275.5" r="1.75" fill="#d8d8d8" stroke="#000" stroke-width="0.85"/>
<circle cx="138.17" cy="297.5" r="1.75" fill="#d8d8d8" stroke="#000" stroke-width="0.85"/>
<circle cx="138.09" cy="286.5" r="1.75" fill="#d8d8d8" stroke="#000" stroke-width="0.85"/>
<circle cx="136.38" cy="296.75" r="1.75" fill="#d8d8d8" stroke="#000" stroke-width="0.85"/>
<line x1="146.5" y1="275.5" x2="146.5" y2="282.5" stroke="#000" stroke-width="1.2"/>
<line x1="146.5" y1="293.75" x2="146.5" y2="300.5" stroke="#000" stroke-width="1.2"/>
<line x1="144.3" y1="275.5" x2="148.7" y2="275.5" stroke="#000" stroke-width="1.0"/>
<line x1="144.3" y1="300.5" x2="148.7" y2="300.5" stroke="#000" stroke-width="1.0"/>
<rect x="143" y="282.5" width="7" height="11.25" fill="#000000" stroke="#000" stroke-width="1.2"/>
<line x1="143" y1="288.125" x2="150" y2="288.125" stroke="#fff" stroke-width="0.8"/>
<circle cx="146.5" cy="275.5" r="1.75" fill="#ffffff" stroke="#000" stroke-width="0.85"/>
<circle cx="146.5" cy="300.5" r="1.75" fill="#ffffff" stroke="#000" stroke-width="0.85"/>
<circle cx="145.61" cy="283.0" r="1.75" fill="#ffffff" stroke="#000" stroke-width="0.85"/>
<circle cx="147.84" cy="293.25" r="1.75" fill="#ffffff" stroke="#000" stroke-width="0.85"/>
<circle cx="145.11" cy="288.12" r="1.75" fill="#ffffff" stroke="#000" stroke-width="0.85"/>
<circle cx="146.85" cy="285.13" r="1.75" fill="#ffffff" stroke="#000" stroke-width="0.85"/>
<line x1="163.125" y1="322" x2="163.125" y2="353" stroke="#000" stroke-width="1.2"/>
<line x1="163.125" y1="365" x2="163.125" y2="369.5" stroke="#000" stroke-width="1.2"/>
<line x1="160.925" y1="322" x2="165.325" y2="322" stroke="#000" stroke-width="1.0"/>
<line x1="160.925" y1="369.5" x2="165.325" y2="369.5" stroke="#000" stroke-width="1.0"/>
<rect x="160" y="353" width="6.25" height="12" fill="#ffffff" stroke="#000" stroke-width="1.2"/>
<line x1="160" y1="359.0" x2="166.25" y2="359.0" stroke="#000" stroke-width="0.8"/>
<circle cx="163.12" cy="322" r="1.75" fill="#ffffff" stroke="#000" stroke-width="0.85"/>
<circle cx="163.12" cy="369.5" r="1.75" fill="#ffffff" stroke="#000" stroke-width="0.85"/>
<circle cx="161.72" cy="353.5" r="1.75" fill="#ffffff" stroke="#000" stroke-width="0.85"/>
<circle cx="164.69" cy="364.5" r="1.75" fill="#ffffff" stroke="#000" stroke-width="0.85"/>
<circle cx="162.88" cy="359.0" r="1.75" fill="#ffffff" stroke="#000" stroke-width="0.85"/>
<circle cx="164.5" cy="363.99" r="1.75" fill="#ffffff" stroke="#000" stroke-width="0.85"/>
<line x1="172.5" y1="288" x2="172.5" y2="305.5" stroke="#000" stroke-width="1.2"/>
<line x1="172.5" y1="330" x2="172.5" y2="338" stroke="#000" stroke-width="1.2"/>
<line x1="170.3" y1="288" x2="174.7" y2="288" stroke="#000" stroke-width="1.0"/>
<line x1="170.3" y1="338" x2="174.7" y2="338" stroke="#000" stroke-width="1.0"/>
<rect x="169.25" y="305.5" width="6.5" height="24.5" fill="#8fc7da" stroke="#000" stroke-width="1.2"/>
<line x1="169.25" y1="317.75" x2="175.75" y2="317.75" stroke="#000" stroke-width="0.8"/>
<circle cx="172.5" cy="288" r="1.75" fill="#8fc7da" stroke="#000" stroke-width="0.85"/>
<circle cx="172.5" cy="338" r="1.75" fill="#8fc7da" stroke="#000" stroke-width="0.85"/>
<circle cx="171.1" cy="306.0" r="1.75" fill="#8fc7da" stroke="#000" stroke-width="0.85"/>
<circle cx="171.88" cy="329.5" r="1.75" fill="#8fc7da" stroke="#000" stroke-width="0.85"/>
<circle cx="172.15" cy="317.75" r="1.75" fill="#8fc7da" stroke="#000" stroke-width="0.85"/>
<circle cx="172.53" cy="325.16" r="1.75" fill="#8fc7da" stroke="#000" stroke-width="0.85"/>
<line x1="181.25" y1="285" x2="181.25" y2="295.5" stroke="#000" stroke-width="1.2"/>
<line x1="181.25" y1="304.5" x2="181.25" y2="305" stroke="#000" stroke-width="1.2"/>
<line x1="179.05" y1="285" x2="183.45" y2="285" stroke="#000" stroke-width="1.0"/>
<line x1="179.05" y1="305" x2="183.45" y2="305" stroke="#000" stroke-width="1.0"/>
<rect x="178" y="295.5" width="6.5" height="9.0" fill="#bdbdbd" stroke="#000" stroke-width="1.2"/>
<line x1="178" y1="300.0" x2="184.5" y2="300.0" stroke="#000" stroke-width="0.8"/>
<circle cx="181.25" cy="285" r="1.75" fill="#d8d8d8" stroke="#000" stroke-width="0.85"/>
<circle cx="181.25" cy="305" r="1.75" fill="#d8d8d8" stroke="#000" stroke-width="0.85"/>
<circle cx="180.32" cy="296.0" r="1.75" fill="#d8d8d8" stroke="#000" stroke-width="0.85"/>
<circle cx="181.06" cy="304.0" r="1.75" fill="#d8d8d8" stroke="#000" stroke-width="0.85"/>
<circle cx="180.55" cy="300.0" r="1.75" fill="#d8d8d8" stroke="#000" stroke-width="0.85"/>
<circle cx="181.31" cy="301.01" r="1.75" fill="#d8d8d8" stroke="#000" stroke-width="0.85"/>
<line x1="190.375" y1="286.25" x2="190.375" y2="291.25" stroke="#000" stroke-width="1.2"/>
<line x1="190.375" y1="302.5" x2="190.375" y2="303" stroke="#000" stroke-width="1.2"/>
<line x1="188.175" y1="286.25" x2="192.575" y2="286.25" stroke="#000" stroke-width="1.0"/>
<line x1="188.175" y1="303" x2="192.575" y2="303" stroke="#000" stroke-width="1.0"/>
<rect x="187" y="291.25" width="6.75" height="11.25" fill="#000000" stroke="#000" stroke-width="1.2"/>
<line x1="187" y1="296.875" x2="193.75" y2="296.875" stroke="#fff" stroke-width="0.8"/>
<circle cx="190.38" cy="286.25" r="1.75" fill="#ffffff" stroke="#000" stroke-width="0.85"/>
<circle cx="190.38" cy="303" r="1.75" fill="#ffffff" stroke="#000" stroke-width="0.85"/>
<circle cx="189.45" cy="291.75" r="1.75" fill="#ffffff" stroke="#000" stroke-width="0.85"/>
<circle cx="191.57" cy="302.0" r="1.75" fill="#ffffff" stroke="#000" stroke-width="0.85"/>
<circle cx="189.61" cy="296.88" r="1.75" fill="#ffffff" stroke="#000" stroke-width="0.85"/>
<circle cx="191.09" cy="298.45" r="1.75" fill="#ffffff" stroke="#000" stroke-width="0.85"/>
<line x1="213.75" y1="283.75" x2="213.75" y2="287" stroke="#000" stroke-width="1.2"/>
<line x1="213.75" y1="316.25" x2="213.75" y2="323.75" stroke="#000" stroke-width="1.2"/>
<line x1="211.55" y1="283.75" x2="215.95" y2="283.75" stroke="#000" stroke-width="1.0"/>
<line x1="211.55" y1="323.75" x2="215.95" y2="323.75" stroke="#000" stroke-width="1.0"/>
<rect x="210.75" y="287" width="6.0" height="29.25" fill="#ffffff" stroke="#000" stroke-width="1.2"/>
<line x1="210.75" y1="301.625" x2="216.75" y2="301.625" stroke="#000" stroke-width="0.8"/>
<circle cx="213.75" cy="283.75" r="1.75" fill="#ffffff" stroke="#000" stroke-width="0.85"/>
<circle cx="213.75" cy="323.75" r="1.75" fill="#ffffff" stroke="#000" stroke-width="0.85"/>
<circle cx="214.85" cy="287.5" r="1.75" fill="#ffffff" stroke="#000" stroke-width="0.85"/>
<circle cx="214.83" cy="315.75" r="1.75" fill="#ffffff" stroke="#000" stroke-width="0.85"/>
<circle cx="213.17" cy="301.62" r="1.75" fill="#ffffff" stroke="#000" stroke-width="0.85"/>
<circle cx="212.83" cy="290.32" r="1.75" fill="#ffffff" stroke="#000" stroke-width="0.85"/>
<line x1="223.125" y1="278" x2="223.125" y2="293" stroke="#000" stroke-width="1.2"/>
<line x1="223.125" y1="308" x2="223.125" y2="308.5" stroke="#000" stroke-width="1.2"/>
<line x1="220.925" y1="278" x2="225.325" y2="278" stroke="#000" stroke-width="1.0"/>
<line x1="220.925" y1="308.5" x2="225.325" y2="308.5" stroke="#000" stroke-width="1.0"/>
<rect x="220" y="293" width="6.25" height="15" fill="#8fc7da" stroke="#000" stroke-width="1.2"/>
<line x1="220" y1="300.5" x2="226.25" y2="300.5" stroke="#000" stroke-width="0.8"/>
<circle cx="223.12" cy="278" r="1.75" fill="#8fc7da" stroke="#000" stroke-width="0.85"/>
<circle cx="223.12" cy="308.5" r="1.75" fill="#8fc7da" stroke="#000" stroke-width="0.85"/>
<circle cx="222.32" cy="293.5" r="1.75" fill="#8fc7da" stroke="#000" stroke-width="0.85"/>
<circle cx="222.62" cy="307.5" r="1.75" fill="#8fc7da" stroke="#000" stroke-width="0.85"/>
<circle cx="222.32" cy="300.5" r="1.75" fill="#8fc7da" stroke="#000" stroke-width="0.85"/>
<circle cx="223.22" cy="306.18" r="1.75" fill="#8fc7da" stroke="#000" stroke-width="0.85"/>
<line x1="232.5" y1="285" x2="232.5" y2="287" stroke="#000" stroke-width="1.2"/>
<line x1="232.5" y1="297" x2="232.5" y2="311.25" stroke="#000" stroke-width="1.2"/>
<line x1="230.3" y1="285" x2="234.7" y2="285" stroke="#000" stroke-width="1.0"/>
<line x1="230.3" y1="311.25" x2="234.7" y2="311.25" stroke="#000" stroke-width="1.0"/>
<rect x="229.25" y="287" width="6.5" height="10" fill="#bdbdbd" stroke="#000" stroke-width="1.2"/>
<line x1="229.25" y1="292.0" x2="235.75" y2="292.0" stroke="#000" stroke-width="0.8"/>
<circle cx="232.5" cy="285" r="1.75" fill="#d8d8d8" stroke="#000" stroke-width="0.85"/>
<circle cx="232.5" cy="311.25" r="1.75" fill="#d8d8d8" stroke="#000" stroke-width="0.85"/>
<circle cx="231.36" cy="287.5" r="1.75" fill="#d8d8d8" stroke="#000" stroke-width="0.85"/>
<circle cx="233.93" cy="296.5" r="1.75" fill="#d8d8d8" stroke="#000" stroke-width="0.85"/>
<circle cx="232.8" cy="292.0" r="1.75" fill="#d8d8d8" stroke="#000" stroke-width="0.85"/>
<circle cx="232.56" cy="294.18" r="1.75" fill="#d8d8d8" stroke="#000" stroke-width="0.85"/>
<line x1="241.625" y1="283.75" x2="241.625" y2="291.25" stroke="#000" stroke-width="1.2"/>
<line x1="241.625" y1="297" x2="241.625" y2="300.75" stroke="#000" stroke-width="1.2"/>
<line x1="239.425" y1="283.75" x2="243.825" y2="283.75" stroke="#000" stroke-width="1.0"/>
<line x1="239.425" y1="300.75" x2="243.825" y2="300.75" stroke="#000" stroke-width="1.0"/>
<rect x="238.25" y="291.25" width="6.75" height="5.75" fill="#000000" stroke="#000" stroke-width="1.2"/>
<line x1="238.25" y1="294.125" x2="245" y2="294.125" stroke="#fff" stroke-width="0.8"/>
<circle cx="241.62" cy="283.75" r="1.75" fill="#ffffff" stroke="#000" stroke-width="0.85"/>
<circle cx="241.62" cy="300.75" r="1.75" fill="#ffffff" stroke="#000" stroke-width="0.85"/>
<circle cx="240.07" cy="291.75" r="1.75" fill="#ffffff" stroke="#000" stroke-width="0.85"/>
<circle cx="241.9" cy="296.5" r="1.75" fill="#ffffff" stroke="#000" stroke-width="0.85"/>
<circle cx="240.17" cy="294.12" r="1.75" fill="#ffffff" stroke="#000" stroke-width="0.85"/>
<circle cx="241.57" cy="293.79" r="1.75" fill="#ffffff" stroke="#000" stroke-width="0.85"/>
<line x1="258.125" y1="281.25" x2="258.125" y2="294.5" stroke="#000" stroke-width="1.2"/>
<line x1="258.125" y1="343.75" x2="258.125" y2="344.5" stroke="#000" stroke-width="1.2"/>
<line x1="255.925" y1="281.25" x2="260.325" y2="281.25" stroke="#000" stroke-width="1.0"/>
<line x1="255.925" y1="344.5" x2="260.325" y2="344.5" stroke="#000" stroke-width="1.0"/>
<rect x="255" y="294.5" width="6.25" height="49.25" fill="#ffffff" stroke="#000" stroke-width="1.2"/>
<line x1="255" y1="319.125" x2="261.25" y2="319.125" stroke="#000" stroke-width="0.8"/>
<circle cx="258.12" cy="281.25" r="1.75" fill="#ffffff" stroke="#000" stroke-width="0.85"/>
<circle cx="258.12" cy="344.5" r="1.75" fill="#ffffff" stroke="#000" stroke-width="0.85"/>
<circle cx="257.37" cy="295.0" r="1.75" fill="#ffffff" stroke="#000" stroke-width="0.85"/>
<circle cx="257.16" cy="343.25" r="1.75" fill="#ffffff" stroke="#000" stroke-width="0.85"/>
<circle cx="258.96" cy="319.12" r="1.75" fill="#ffffff" stroke="#000" stroke-width="0.85"/>
<circle cx="258.38" cy="335.99" r="1.75" fill="#ffffff" stroke="#000" stroke-width="0.85"/>
<line x1="267.125" y1="278" x2="267.125" y2="283" stroke="#000" stroke-width="1.2"/>
<line x1="267.125" y1="307.5" x2="267.125" y2="308" stroke="#000" stroke-width="1.2"/>
<line x1="264.925" y1="278" x2="269.325" y2="278" stroke="#000" stroke-width="1.0"/>
<line x1="264.925" y1="308" x2="269.325" y2="308" stroke="#000" stroke-width="1.0"/>
<rect x="263.75" y="283" width="6.75" height="24.5" fill="#8fc7da" stroke="#000" stroke-width="1.2"/>
<line x1="263.75" y1="295.25" x2="270.5" y2="295.25" stroke="#000" stroke-width="0.8"/>
<circle cx="267.12" cy="278" r="1.75" fill="#8fc7da" stroke="#000" stroke-width="0.85"/>
<circle cx="267.12" cy="308" r="1.75" fill="#8fc7da" stroke="#000" stroke-width="0.85"/>
<circle cx="266.99" cy="283.5" r="1.75" fill="#8fc7da" stroke="#000" stroke-width="0.85"/>
<circle cx="265.76" cy="307.0" r="1.75" fill="#8fc7da" stroke="#000" stroke-width="0.85"/>
<circle cx="267.65" cy="295.25" r="1.75" fill="#8fc7da" stroke="#000" stroke-width="0.85"/>
<circle cx="267.32" cy="286.69" r="1.75" fill="#8fc7da" stroke="#000" stroke-width="0.85"/>
<line x1="276.625" y1="275.5" x2="276.625" y2="287" stroke="#000" stroke-width="1.2"/>
<line x1="276.625" y1="303.75" x2="276.625" y2="315" stroke="#000" stroke-width="1.2"/>
<line x1="274.425" y1="275.5" x2="278.825" y2="275.5" stroke="#000" stroke-width="1.0"/>
<line x1="274.425" y1="315" x2="278.825" y2="315" stroke="#000" stroke-width="1.0"/>
<rect x="273.25" y="287" width="6.75" height="16.75" fill="#bdbdbd" stroke="#000" stroke-width="1.2"/>
<line x1="273.25" y1="295.375" x2="280" y2="295.375" stroke="#000" stroke-width="0.8"/>
<circle cx="276.62" cy="275.5" r="1.75" fill="#d8d8d8" stroke="#000" stroke-width="0.85"/>
<circle cx="276.62" cy="315" r="1.75" fill="#d8d8d8" stroke="#000" stroke-width="0.85"/>
<circle cx="276.32" cy="287.5" r="1.75" fill="#d8d8d8" stroke="#000" stroke-width="0.85"/>
<circle cx="276.66" cy="303.25" r="1.75" fill="#d8d8d8" stroke="#000" stroke-width="0.85"/>
<circle cx="276.71" cy="295.38" r="1.75" fill="#d8d8d8" stroke="#000" stroke-width="0.85"/>
<circle cx="275.3" cy="292.33" r="1.75" fill="#d8d8d8" stroke="#000" stroke-width="0.85"/>
<line x1="285.625" y1="280" x2="285.625" y2="298.75" stroke="#000" stroke-width="1.2"/>
<line x1="285.625" y1="315" x2="285.625" y2="333.75" stroke="#000" stroke-width="1.2"/>
<line x1="283.425" y1="280" x2="287.825" y2="280" stroke="#000" stroke-width="1.0"/>
<line x1="283.425" y1="333.75" x2="287.825" y2="333.75" stroke="#000" stroke-width="1.0"/>
<rect x="282" y="298.75" width="7.25" height="16.25" fill="#000000" stroke="#000" stroke-width="1.2"/>
<line x1="282" y1="306.875" x2="289.25" y2="306.875" stroke="#fff" stroke-width="0.8"/>
<circle cx="285.62" cy="280" r="1.75" fill="#ffffff" stroke="#000" stroke-width="0.85"/>
<circle cx="285.62" cy="333.75" r="1.75" fill="#ffffff" stroke="#000" stroke-width="0.85"/>
<circle cx="285.08" cy="299.25" r="1.75" fill="#ffffff" stroke="#000" stroke-width="0.85"/>
<circle cx="284.82" cy="314.5" r="1.75" fill="#ffffff" stroke="#000" stroke-width="0.85"/>
<circle cx="285.54" cy="306.88" r="1.75" fill="#ffffff" stroke="#000" stroke-width="0.85"/>
<circle cx="285.63" cy="304.53" r="1.75" fill="#ffffff" stroke="#000" stroke-width="0.85"/>
<line x1="302.5" y1="332" x2="302.5" y2="338" stroke="#000" stroke-width="1.2"/>
<line x1="302.5" y1="367" x2="302.5" y2="368" stroke="#000" stroke-width="1.2"/>
<line x1="300.3" y1="332" x2="304.7" y2="332" stroke="#000" stroke-width="1.0"/>
<line x1="300.3" y1="368" x2="304.7" y2="368" stroke="#000" stroke-width="1.0"/>
<rect x="299.25" y="338" width="6.5" height="29" fill="#ffffff" stroke="#000" stroke-width="1.2"/>
<line x1="299.25" y1="352.5" x2="305.75" y2="352.5" stroke="#000" stroke-width="0.8"/>
<circle cx="302.5" cy="332" r="1.75" fill="#ffffff" stroke="#000" stroke-width="0.85"/>
<circle cx="302.5" cy="368" r="1.75" fill="#ffffff" stroke="#000" stroke-width="0.85"/>
<circle cx="303.71" cy="338.5" r="1.75" fill="#ffffff" stroke="#000" stroke-width="0.85"/>
<circle cx="303.35" cy="366.5" r="1.75" fill="#ffffff" stroke="#000" stroke-width="0.85"/>
<circle cx="303.56" cy="352.5" r="1.75" fill="#ffffff" stroke="#000" stroke-width="0.85"/>
<circle cx="302.41" cy="346.91" r="1.75" fill="#ffffff" stroke="#000" stroke-width="0.85"/>
<line x1="311.25" y1="300.75" x2="311.25" y2="314.5" stroke="#000" stroke-width="1.2"/>
<line x1="311.25" y1="328.75" x2="311.25" y2="353" stroke="#000" stroke-width="1.2"/>
<line x1="309.05" y1="300.75" x2="313.45" y2="300.75" stroke="#000" stroke-width="1.0"/>
<line x1="309.05" y1="353" x2="313.45" y2="353" stroke="#000" stroke-width="1.0"/>
<rect x="308" y="314.5" width="6.5" height="14.25" fill="#8fc7da" stroke="#000" stroke-width="1.2"/>
<line x1="308" y1="321.625" x2="314.5" y2="321.625" stroke="#000" stroke-width="0.8"/>
<circle cx="311.25" cy="300.75" r="1.75" fill="#8fc7da" stroke="#000" stroke-width="0.85"/>
<circle cx="311.25" cy="353" r="1.75" fill="#8fc7da" stroke="#000" stroke-width="0.85"/>
<circle cx="310.74" cy="315.0" r="1.75" fill="#8fc7da" stroke="#000" stroke-width="0.85"/>
<circle cx="309.91" cy="328.25" r="1.75" fill="#8fc7da" stroke="#000" stroke-width="0.85"/>
<circle cx="310.79" cy="321.62" r="1.75" fill="#8fc7da" stroke="#000" stroke-width="0.85"/>
<circle cx="312.59" cy="315.74" r="1.75" fill="#8fc7da" stroke="#000" stroke-width="0.85"/>
<line x1="321.0" y1="303.75" x2="321.0" y2="308" stroke="#000" stroke-width="1.2"/>
<line x1="321.0" y1="346.25" x2="321.0" y2="347" stroke="#000" stroke-width="1.2"/>
<line x1="318.8" y1="303.75" x2="323.2" y2="303.75" stroke="#000" stroke-width="1.0"/>
<line x1="318.8" y1="347" x2="323.2" y2="347" stroke="#000" stroke-width="1.0"/>
<rect x="317.5" y="308" width="7.0" height="38.25" fill="#bdbdbd" stroke="#000" stroke-width="1.2"/>
<line x1="317.5" y1="327.125" x2="324.5" y2="327.125" stroke="#000" stroke-width="0.8"/>
<circle cx="321.0" cy="303.75" r="1.75" fill="#d8d8d8" stroke="#000" stroke-width="0.85"/>
<circle cx="321.0" cy="347" r="1.75" fill="#d8d8d8" stroke="#000" stroke-width="0.85"/>
<circle cx="320.58" cy="308.5" r="1.75" fill="#d8d8d8" stroke="#000" stroke-width="0.85"/>
<circle cx="320.42" cy="345.75" r="1.75" fill="#d8d8d8" stroke="#000" stroke-width="0.85"/>
<circle cx="321.06" cy="327.12" r="1.75" fill="#d8d8d8" stroke="#000" stroke-width="0.85"/>
<circle cx="320.04" cy="315.93" r="1.75" fill="#d8d8d8" stroke="#000" stroke-width="0.85"/>
<line x1="330.25" y1="289.25" x2="330.25" y2="309.5" stroke="#000" stroke-width="1.2"/>
<line x1="330.25" y1="338" x2="330.25" y2="366.25" stroke="#000" stroke-width="1.2"/>
<line x1="328.05" y1="289.25" x2="332.45" y2="289.25" stroke="#000" stroke-width="1.0"/>
<line x1="328.05" y1="366.25" x2="332.45" y2="366.25" stroke="#000" stroke-width="1.0"/>
<rect x="326.75" y="309.5" width="7.0" height="28.5" fill="#000000" stroke="#000" stroke-width="1.2"/>
<line x1="326.75" y1="323.75" x2="333.75" y2="323.75" stroke="#fff" stroke-width="0.8"/>
<circle cx="330.25" cy="289.25" r="1.75" fill="#ffffff" stroke="#000" stroke-width="0.85"/>
<circle cx="330.25" cy="366.25" r="1.75" fill="#ffffff" stroke="#000" stroke-width="0.85"/>
<circle cx="331.19" cy="310.0" r="1.75" fill="#ffffff" stroke="#000" stroke-width="0.85"/>
<circle cx="331.83" cy="337.5" r="1.75" fill="#ffffff" stroke="#000" stroke-width="0.85"/>
<circle cx="330.16" cy="323.75" r="1.75" fill="#ffffff" stroke="#000" stroke-width="0.85"/>
<circle cx="331.63" cy="317.54" r="1.75" fill="#ffffff" stroke="#000" stroke-width="0.85"/>
<line x1="353.75" y1="291.25" x2="353.75" y2="295.5" stroke="#000" stroke-width="1.2"/>
<line x1="353.75" y1="316.25" x2="353.75" y2="318.75" stroke="#000" stroke-width="1.2"/>
<line x1="351.55" y1="291.25" x2="355.95" y2="291.25" stroke="#000" stroke-width="1.0"/>
<line x1="351.55" y1="318.75" x2="355.95" y2="318.75" stroke="#000" stroke-width="1.0"/>
<rect x="350.75" y="295.5" width="6.0" height="20.75" fill="#ffffff" stroke="#000" stroke-width="1.2"/>
<line x1="350.75" y1="305.875" x2="356.75" y2="305.875" stroke="#000" stroke-width="0.8"/>
<circle cx="353.75" cy="291.25" r="1.75" fill="#ffffff" stroke="#000" stroke-width="0.85"/>
<circle cx="353.75" cy="318.75" r="1.75" fill="#ffffff" stroke="#000" stroke-width="0.85"/>
<circle cx="354.18" cy="296.0" r="1.75" fill="#ffffff" stroke="#000" stroke-width="0.85"/>
<circle cx="353.63" cy="315.75" r="1.75" fill="#ffffff" stroke="#000" stroke-width="0.85"/>
<circle cx="353.33" cy="305.88" r="1.75" fill="#ffffff" stroke="#000" stroke-width="0.85"/>
<circle cx="352.5" cy="303.21" r="1.75" fill="#ffffff" stroke="#000" stroke-width="0.85"/>
<line x1="362.875" y1="285.5" x2="362.875" y2="296.25" stroke="#000" stroke-width="1.2"/>
<line x1="362.875" y1="307.5" x2="362.875" y2="308" stroke="#000" stroke-width="1.2"/>
<line x1="360.675" y1="285.5" x2="365.075" y2="285.5" stroke="#000" stroke-width="1.0"/>
<line x1="360.675" y1="308" x2="365.075" y2="308" stroke="#000" stroke-width="1.0"/>
<rect x="359.5" y="296.25" width="6.75" height="11.25" fill="#8fc7da" stroke="#000" stroke-width="1.2"/>
<line x1="359.5" y1="301.875" x2="366.25" y2="301.875" stroke="#000" stroke-width="0.8"/>
<circle cx="362.88" cy="285.5" r="1.75" fill="#8fc7da" stroke="#000" stroke-width="0.85"/>
<circle cx="362.88" cy="308" r="1.75" fill="#8fc7da" stroke="#000" stroke-width="0.85"/>
<circle cx="363.86" cy="296.75" r="1.75" fill="#8fc7da" stroke="#000" stroke-width="0.85"/>
<circle cx="362.79" cy="307.0" r="1.75" fill="#8fc7da" stroke="#000" stroke-width="0.85"/>
<circle cx="363.16" cy="301.88" r="1.75" fill="#8fc7da" stroke="#000" stroke-width="0.85"/>
<circle cx="361.5" cy="307.25" r="1.75" fill="#8fc7da" stroke="#000" stroke-width="0.85"/>
<line x1="371.875" y1="279" x2="371.875" y2="279.5" stroke="#000" stroke-width="1.2"/>
<line x1="371.875" y1="306.25" x2="371.875" y2="317.5" stroke="#000" stroke-width="1.2"/>
<line x1="369.675" y1="279" x2="374.075" y2="279" stroke="#000" stroke-width="1.0"/>
<line x1="369.675" y1="317.5" x2="374.075" y2="317.5" stroke="#000" stroke-width="1.0"/>
<rect x="368.25" y="279.5" width="7.25" height="26.75" fill="#bdbdbd" stroke="#000" stroke-width="1.2"/>
<line x1="368.25" y1="292.875" x2="375.5" y2="292.875" stroke="#000" stroke-width="0.8"/>
<circle cx="371.88" cy="279" r="1.75" fill="#d8d8d8" stroke="#000" stroke-width="0.85"/>
<circle cx="371.88" cy="317.5" r="1.75" fill="#d8d8d8" stroke="#000" stroke-width="0.85"/>
<circle cx="372.29" cy="280.0" r="1.75" fill="#d8d8d8" stroke="#000" stroke-width="0.85"/>
<circle cx="372.19" cy="305.75" r="1.75" fill="#d8d8d8" stroke="#000" stroke-width="0.85"/>
<circle cx="370.67" cy="292.88" r="1.75" fill="#d8d8d8" stroke="#000" stroke-width="0.85"/>
<circle cx="371.12" cy="288.41" r="1.75" fill="#d8d8d8" stroke="#000" stroke-width="0.85"/>
<line x1="381.0" y1="282" x2="381.0" y2="287" stroke="#000" stroke-width="1.2"/>
<line x1="381.0" y1="308.75" x2="381.0" y2="337" stroke="#000" stroke-width="1.2"/>
<line x1="378.8" y1="282" x2="383.2" y2="282" stroke="#000" stroke-width="1.0"/>
<line x1="378.8" y1="337" x2="383.2" y2="337" stroke="#000" stroke-width="1.0"/>
<rect x="377.5" y="287" width="7.0" height="21.75" fill="#000000" stroke="#000" stroke-width="1.2"/>
<line x1="377.5" y1="297.875" x2="384.5" y2="297.875" stroke="#fff" stroke-width="0.8"/>
<circle cx="381.0" cy="282" r="1.75" fill="#ffffff" stroke="#000" stroke-width="0.85"/>
<circle cx="381.0" cy="337" r="1.75" fill="#ffffff" stroke="#000" stroke-width="0.85"/>
<circle cx="379.97" cy="287.5" r="1.75" fill="#ffffff" stroke="#000" stroke-width="0.85"/>
<circle cx="382.38" cy="308.25" r="1.75" fill="#ffffff" stroke="#000" stroke-width="0.85"/>
<circle cx="380.47" cy="297.88" r="1.75" fill="#ffffff" stroke="#000" stroke-width="0.85"/>
<circle cx="379.97" cy="299.84" r="1.75" fill="#ffffff" stroke="#000" stroke-width="0.85"/>
<line x1="397.5" y1="331.25" x2="397.5" y2="342" stroke="#000" stroke-width="1.2"/>
<line x1="397.5" y1="349.5" x2="397.5" y2="357.5" stroke="#000" stroke-width="1.2"/>
<line x1="395.3" y1="331.25" x2="399.7" y2="331.25" stroke="#000" stroke-width="1.0"/>
<line x1="395.3" y1="357.5" x2="399.7" y2="357.5" stroke="#000" stroke-width="1.0"/>
<rect x="394.25" y="342" width="6.5" height="7.5" fill="#ffffff" stroke="#000" stroke-width="1.2"/>
<line x1="394.25" y1="345.75" x2="400.75" y2="345.75" stroke="#000" stroke-width="0.8"/>
<circle cx="397.5" cy="331.25" r="1.75" fill="#ffffff" stroke="#000" stroke-width="0.85"/>
<circle cx="397.5" cy="357.5" r="1.75" fill="#ffffff" stroke="#000" stroke-width="0.85"/>
<circle cx="398.69" cy="342.5" r="1.75" fill="#ffffff" stroke="#000" stroke-width="0.85"/>
<circle cx="397.79" cy="349.0" r="1.75" fill="#ffffff" stroke="#000" stroke-width="0.85"/>
<circle cx="398.97" cy="345.75" r="1.75" fill="#ffffff" stroke="#000" stroke-width="0.85"/>
<circle cx="398.13" cy="345.63" r="1.75" fill="#ffffff" stroke="#000" stroke-width="0.85"/>
<line x1="406.625" y1="296.25" x2="406.625" y2="312" stroke="#000" stroke-width="1.2"/>
<line x1="406.625" y1="350" x2="406.625" y2="350.5" stroke="#000" stroke-width="1.2"/>
<line x1="404.425" y1="296.25" x2="408.825" y2="296.25" stroke="#000" stroke-width="1.0"/>
<line x1="404.425" y1="350.5" x2="408.825" y2="350.5" stroke="#000" stroke-width="1.0"/>
<rect x="403.25" y="312" width="6.75" height="38" fill="#8fc7da" stroke="#000" stroke-width="1.2"/>
<line x1="403.25" y1="331.0" x2="410" y2="331.0" stroke="#000" stroke-width="0.8"/>
<circle cx="406.62" cy="296.25" r="1.75" fill="#8fc7da" stroke="#000" stroke-width="0.85"/>
<circle cx="406.62" cy="350.5" r="1.75" fill="#8fc7da" stroke="#000" stroke-width="0.85"/>
<circle cx="406.76" cy="312.5" r="1.75" fill="#8fc7da" stroke="#000" stroke-width="0.85"/>
<circle cx="405.21" cy="349.5" r="1.75" fill="#8fc7da" stroke="#000" stroke-width="0.85"/>
<circle cx="406.84" cy="331.0" r="1.75" fill="#8fc7da" stroke="#000" stroke-width="0.85"/>
<circle cx="406.55" cy="319.93" r="1.75" fill="#8fc7da" stroke="#000" stroke-width="0.85"/>
<line x1="416.0" y1="276.25" x2="416.0" y2="287" stroke="#000" stroke-width="1.2"/>
<line x1="416.0" y1="335" x2="416.0" y2="348.75" stroke="#000" stroke-width="1.2"/>
<line x1="413.8" y1="276.25" x2="418.2" y2="276.25" stroke="#000" stroke-width="1.0"/>
<line x1="413.8" y1="348.75" x2="418.2" y2="348.75" stroke="#000" stroke-width="1.0"/>
<rect x="412.5" y="287" width="7.0" height="48" fill="#bdbdbd" stroke="#000" stroke-width="1.2"/>
<line x1="412.5" y1="311.0" x2="419.5" y2="311.0" stroke="#000" stroke-width="0.8"/>
<circle cx="416.0" cy="276.25" r="1.75" fill="#d8d8d8" stroke="#000" stroke-width="0.85"/>
<circle cx="416.0" cy="348.75" r="1.75" fill="#d8d8d8" stroke="#000" stroke-width="0.85"/>
<circle cx="414.67" cy="287.5" r="1.75" fill="#d8d8d8" stroke="#000" stroke-width="0.85"/>
<circle cx="417.51" cy="334.5" r="1.75" fill="#d8d8d8" stroke="#000" stroke-width="0.85"/>
<circle cx="416.69" cy="311.0" r="1.75" fill="#d8d8d8" stroke="#000" stroke-width="0.85"/>
<circle cx="417.3" cy="293.08" r="1.75" fill="#d8d8d8" stroke="#000" stroke-width="0.85"/>
<line x1="425.0" y1="283" x2="425.0" y2="306.25" stroke="#000" stroke-width="1.2"/>
<line x1="425.0" y1="348.75" x2="425.0" y2="360.5" stroke="#000" stroke-width="1.2"/>
<line x1="422.8" y1="283" x2="427.2" y2="283" stroke="#000" stroke-width="1.0"/>
<line x1="422.8" y1="360.5" x2="427.2" y2="360.5" stroke="#000" stroke-width="1.0"/>
<rect x="421.25" y="306.25" width="7.5" height="42.5" fill="#000000" stroke="#000" stroke-width="1.2"/>
<line x1="421.25" y1="327.5" x2="428.75" y2="327.5" stroke="#fff" stroke-width="0.8"/>
<circle cx="425.0" cy="283" r="1.75" fill="#ffffff" stroke="#000" stroke-width="0.85"/>
<circle cx="425.0" cy="360.5" r="1.75" fill="#ffffff" stroke="#000" stroke-width="0.85"/>
<circle cx="424.14" cy="306.75" r="1.75" fill="#ffffff" stroke="#000" stroke-width="0.85"/>
<circle cx="426.56" cy="348.25" r="1.75" fill="#ffffff" stroke="#000" stroke-width="0.85"/>
<circle cx="425.65" cy="327.5" r="1.75" fill="#ffffff" stroke="#000" stroke-width="0.85"/>
<circle cx="423.41" cy="320.5" r="1.75" fill="#ffffff" stroke="#000" stroke-width="0.85"/>
<line x1="441.875" y1="362" x2="441.875" y2="363.75" stroke="#000" stroke-width="1.2"/>
<line x1="441.875" y1="368.75" x2="441.875" y2="369" stroke="#000" stroke-width="1.2"/>
<line x1="439.675" y1="362" x2="444.075" y2="362" stroke="#000" stroke-width="1.0"/>
<line x1="439.675" y1="369" x2="444.075" y2="369" stroke="#000" stroke-width="1.0"/>
<rect x="438.75" y="363.75" width="6.25" height="5.0" fill="#ffffff" stroke="#000" stroke-width="1.2"/>
<line x1="438.75" y1="366.25" x2="445" y2="366.25" stroke="#000" stroke-width="0.8"/>
<circle cx="441.88" cy="362" r="1.75" fill="#ffffff" stroke="#000" stroke-width="0.85"/>
<circle cx="441.88" cy="369" r="1.75" fill="#ffffff" stroke="#000" stroke-width="0.85"/>
<circle cx="442.52" cy="364.25" r="1.75" fill="#ffffff" stroke="#000" stroke-width="0.85"/>
<circle cx="443.25" cy="368.25" r="1.75" fill="#ffffff" stroke="#000" stroke-width="0.85"/>
<circle cx="441.78" cy="366.25" r="1.75" fill="#ffffff" stroke="#000" stroke-width="0.85"/>
<circle cx="442.68" cy="366.75" r="1.75" fill="#ffffff" stroke="#000" stroke-width="0.85"/>
<line x1="451.125" y1="352.5" x2="451.125" y2="355" stroke="#000" stroke-width="1.2"/>
<line x1="451.125" y1="368" x2="451.125" y2="368.5" stroke="#000" stroke-width="1.2"/>
<line x1="448.925" y1="352.5" x2="453.325" y2="352.5" stroke="#000" stroke-width="1.0"/>
<line x1="448.925" y1="368.5" x2="453.325" y2="368.5" stroke="#000" stroke-width="1.0"/>
<rect x="448" y="355" width="6.25" height="13" fill="#8fc7da" stroke="#000" stroke-width="1.2"/>
<line x1="448" y1="361.5" x2="454.25" y2="361.5" stroke="#000" stroke-width="0.8"/>
<circle cx="451.12" cy="352.5" r="1.75" fill="#8fc7da" stroke="#000" stroke-width="0.85"/>
<circle cx="451.12" cy="368.5" r="1.75" fill="#8fc7da" stroke="#000" stroke-width="0.85"/>
<circle cx="450.07" cy="355.5" r="1.75" fill="#8fc7da" stroke="#000" stroke-width="0.85"/>
<circle cx="449.95" cy="367.5" r="1.75" fill="#8fc7da" stroke="#000" stroke-width="0.85"/>
<circle cx="450.24" cy="361.5" r="1.75" fill="#8fc7da" stroke="#000" stroke-width="0.85"/>
<circle cx="452.07" cy="358.68" r="1.75" fill="#8fc7da" stroke="#000" stroke-width="0.85"/>
<line x1="460.375" y1="276.25" x2="460.375" y2="308" stroke="#000" stroke-width="1.2"/>
<line x1="460.375" y1="366.25" x2="460.375" y2="366.5" stroke="#000" stroke-width="1.2"/>
<line x1="458.175" y1="276.25" x2="462.575" y2="276.25" stroke="#000" stroke-width="1.0"/>
<line x1="458.175" y1="366.5" x2="462.575" y2="366.5" stroke="#000" stroke-width="1.0"/>
<rect x="457" y="308" width="6.75" height="58.25" fill="#bdbdbd" stroke="#000" stroke-width="1.2"/>
<line x1="457" y1="337.125" x2="463.75" y2="337.125" stroke="#000" stroke-width="0.8"/>
<circle cx="460.38" cy="276.25" r="1.75" fill="#d8d8d8" stroke="#000" stroke-width="0.85"/>
<circle cx="460.38" cy="366.5" r="1.75" fill="#d8d8d8" stroke="#000" stroke-width="0.85"/>
<circle cx="459.89" cy="308.5" r="1.75" fill="#d8d8d8" stroke="#000" stroke-width="0.85"/>
<circle cx="461.8" cy="365.75" r="1.75" fill="#d8d8d8" stroke="#000" stroke-width="0.85"/>
<circle cx="460.4" cy="337.12" r="1.75" fill="#d8d8d8" stroke="#000" stroke-width="0.85"/>
<circle cx="459.53" cy="343.43" r="1.75" fill="#d8d8d8" stroke="#000" stroke-width="0.85"/>
<line x1="469.625" y1="312" x2="469.625" y2="337" stroke="#000" stroke-width="1.2"/>
<line x1="469.625" y1="368.75" x2="469.625" y2="371" stroke="#000" stroke-width="1.2"/>
<line x1="467.425" y1="312" x2="471.825" y2="312" stroke="#000" stroke-width="1.0"/>
<line x1="467.425" y1="371" x2="471.825" y2="371" stroke="#000" stroke-width="1.0"/>
<rect x="466.25" y="337" width="6.75" height="31.75" fill="#000000" stroke="#000" stroke-width="1.2"/>
<line x1="466.25" y1="352.875" x2="473" y2="352.875" stroke="#fff" stroke-width="0.8"/>
<circle cx="469.62" cy="312" r="1.75" fill="#ffffff" stroke="#000" stroke-width="0.85"/>
<circle cx="469.62" cy="371" r="1.75" fill="#ffffff" stroke="#000" stroke-width="0.85"/>
<circle cx="469.8" cy="337.5" r="1.75" fill="#ffffff" stroke="#000" stroke-width="0.85"/>
<circle cx="468.67" cy="368.25" r="1.75" fill="#ffffff" stroke="#000" stroke-width="0.85"/>
<circle cx="469.18" cy="352.88" r="1.75" fill="#ffffff" stroke="#000" stroke-width="0.85"/>
<circle cx="471.13" cy="350.07" r="1.75" fill="#ffffff" stroke="#000" stroke-width="0.85"/>
<line x1="492.875" y1="295.5" x2="492.875" y2="303.75" stroke="#000" stroke-width="1.2"/>
<line x1="492.875" y1="332.5" x2="492.875" y2="338.75" stroke="#000" stroke-width="1.2"/>
<line x1="490.675" y1="295.5" x2="495.075" y2="295.5" stroke="#000" stroke-width="1.0"/>
<line x1="490.675" y1="338.75" x2="495.075" y2="338.75" stroke="#000" stroke-width="1.0"/>
<rect x="489.5" y="303.75" width="6.75" height="28.75" fill="#ffffff" stroke="#000" stroke-width="1.2"/>
<line x1="489.5" y1="318.125" x2="496.25" y2="318.125" stroke="#000" stroke-width="0.8"/>
<circle cx="492.88" cy="295.5" r="1.75" fill="#ffffff" stroke="#000" stroke-width="0.85"/>
<circle cx="492.88" cy="338.75" r="1.75" fill="#ffffff" stroke="#000" stroke-width="0.85"/>
<circle cx="493.01" cy="304.25" r="1.75" fill="#ffffff" stroke="#000" stroke-width="0.85"/>
<circle cx="492.17" cy="332.0" r="1.75" fill="#ffffff" stroke="#000" stroke-width="0.85"/>
<circle cx="493.34" cy="318.12" r="1.75" fill="#ffffff" stroke="#000" stroke-width="0.85"/>
<circle cx="493.19" cy="316.3" r="1.75" fill="#ffffff" stroke="#000" stroke-width="0.85"/>
<line x1="501.875" y1="311.25" x2="501.875" y2="321.25" stroke="#000" stroke-width="1.2"/>
<line x1="501.875" y1="331.25" x2="501.875" y2="337" stroke="#000" stroke-width="1.2"/>
<line x1="499.675" y1="311.25" x2="504.075" y2="311.25" stroke="#000" stroke-width="1.0"/>
<line x1="499.675" y1="337" x2="504.075" y2="337" stroke="#000" stroke-width="1.0"/>
<rect x="498.75" y="321.25" width="6.25" height="10.0" fill="#8fc7da" stroke="#000" stroke-width="1.2"/>
<line x1="498.75" y1="326.25" x2="505" y2="326.25" stroke="#000" stroke-width="0.8"/>
<circle cx="501.88" cy="311.25" r="1.75" fill="#8fc7da" stroke="#000" stroke-width="0.85"/>
<circle cx="501.88" cy="337" r="1.75" fill="#8fc7da" stroke="#000" stroke-width="0.85"/>
<circle cx="503.46" cy="321.75" r="1.75" fill="#8fc7da" stroke="#000" stroke-width="0.85"/>
<circle cx="502.81" cy="330.75" r="1.75" fill="#8fc7da" stroke="#000" stroke-width="0.85"/>
<circle cx="501.03" cy="326.25" r="1.75" fill="#8fc7da" stroke="#000" stroke-width="0.85"/>
<circle cx="501.56" cy="323.65" r="1.75" fill="#8fc7da" stroke="#000" stroke-width="0.85"/>
<line x1="511.0" y1="292" x2="511.0" y2="300.5" stroke="#000" stroke-width="1.2"/>
<line x1="511.0" y1="317.5" x2="511.0" y2="331.25" stroke="#000" stroke-width="1.2"/>
<line x1="508.8" y1="292" x2="513.2" y2="292" stroke="#000" stroke-width="1.0"/>
<line x1="508.8" y1="331.25" x2="513.2" y2="331.25" stroke="#000" stroke-width="1.0"/>
<rect x="507.5" y="300.5" width="7.0" height="17.0" fill="#bdbdbd" stroke="#000" stroke-width="1.2"/>
<line x1="507.5" y1="309.0" x2="514.5" y2="309.0" stroke="#000" stroke-width="0.8"/>
<circle cx="511.0" cy="292" r="1.75" fill="#d8d8d8" stroke="#000" stroke-width="0.85"/>
<circle cx="511.0" cy="331.25" r="1.75" fill="#d8d8d8" stroke="#000" stroke-width="0.85"/>
<circle cx="511.15" cy="301.0" r="1.75" fill="#d8d8d8" stroke="#000" stroke-width="0.85"/>
<circle cx="509.76" cy="317.0" r="1.75" fill="#d8d8d8" stroke="#000" stroke-width="0.85"/>
<circle cx="510.89" cy="309.0" r="1.75" fill="#d8d8d8" stroke="#000" stroke-width="0.85"/>
<circle cx="512.03" cy="313.18" r="1.75" fill="#d8d8d8" stroke="#000" stroke-width="0.85"/>
<line x1="520.375" y1="300.5" x2="520.375" y2="305.5" stroke="#000" stroke-width="1.2"/>
<line x1="520.375" y1="327" x2="520.375" y2="333" stroke="#000" stroke-width="1.2"/>
<line x1="518.175" y1="300.5" x2="522.575" y2="300.5" stroke="#000" stroke-width="1.0"/>
<line x1="518.175" y1="333" x2="522.575" y2="333" stroke="#000" stroke-width="1.0"/>
<rect x="517" y="305.5" width="6.75" height="21.5" fill="#000000" stroke="#000" stroke-width="1.2"/>
<line x1="517" y1="316.25" x2="523.75" y2="316.25" stroke="#fff" stroke-width="0.8"/>
<circle cx="520.38" cy="300.5" r="1.75" fill="#ffffff" stroke="#000" stroke-width="0.85"/>
<circle cx="520.38" cy="333" r="1.75" fill="#ffffff" stroke="#000" stroke-width="0.85"/>
<circle cx="521.64" cy="306.0" r="1.75" fill="#ffffff" stroke="#000" stroke-width="0.85"/>
<circle cx="520.45" cy="326.5" r="1.75" fill="#ffffff" stroke="#000" stroke-width="0.85"/>
<circle cx="520.06" cy="316.25" r="1.75" fill="#ffffff" stroke="#000" stroke-width="0.85"/>
<circle cx="519.44" cy="310.11" r="1.75" fill="#ffffff" stroke="#000" stroke-width="0.85"/>
<line x1="537.125" y1="298.75" x2="537.125" y2="307" stroke="#000" stroke-width="1.2"/>
<line x1="537.125" y1="365" x2="537.125" y2="365.5" stroke="#000" stroke-width="1.2"/>
<line x1="534.925" y1="298.75" x2="539.325" y2="298.75" stroke="#000" stroke-width="1.0"/>
<line x1="534.925" y1="365.5" x2="539.325" y2="365.5" stroke="#000" stroke-width="1.0"/>
<rect x="533.75" y="307" width="6.75" height="58" fill="#ffffff" stroke="#000" stroke-width="1.2"/>
<line x1="533.75" y1="336.0" x2="540.5" y2="336.0" stroke="#000" stroke-width="0.8"/>
<circle cx="537.12" cy="298.75" r="1.75" fill="#ffffff" stroke="#000" stroke-width="0.85"/>
<circle cx="537.12" cy="365.5" r="1.75" fill="#ffffff" stroke="#000" stroke-width="0.85"/>
<circle cx="537.3" cy="307.5" r="1.75" fill="#ffffff" stroke="#000" stroke-width="0.85"/>
<circle cx="536.92" cy="364.5" r="1.75" fill="#ffffff" stroke="#000" stroke-width="0.85"/>
<circle cx="535.85" cy="336.0" r="1.75" fill="#ffffff" stroke="#000" stroke-width="0.85"/>
<circle cx="537.9" cy="309.32" r="1.75" fill="#ffffff" stroke="#000" stroke-width="0.85"/>
<line x1="546.0" y1="339" x2="546.0" y2="340.2" stroke="#000" stroke-width="1.2"/>
<line x1="546.0" y1="350" x2="546.0" y2="360" stroke="#000" stroke-width="1.2"/>
<line x1="543.8" y1="339" x2="548.2" y2="339" stroke="#000" stroke-width="1.0"/>
<line x1="543.8" y1="360" x2="548.2" y2="360" stroke="#000" stroke-width="1.0"/>
<rect x="542.5" y="340.2" width="7.0" height="9.800000000000011" fill="#8fc7da" stroke="#000" stroke-width="1.2"/>
<line x1="542.5" y1="345.1" x2="549.5" y2="345.1" stroke="#000" stroke-width="0.8"/>
<circle cx="546.0" cy="339" r="1.75" fill="#8fc7da" stroke="#000" stroke-width="0.85"/>
<circle cx="546.0" cy="360" r="1.75" fill="#8fc7da" stroke="#000" stroke-width="0.85"/>
<circle cx="544.47" cy="340.7" r="1.75" fill="#8fc7da" stroke="#000" stroke-width="0.85"/>
<circle cx="547.08" cy="349.5" r="1.75" fill="#8fc7da" stroke="#000" stroke-width="0.85"/>
<circle cx="547.16" cy="345.1" r="1.75" fill="#8fc7da" stroke="#000" stroke-width="0.85"/>
<circle cx="545.14" cy="340.25" r="1.75" fill="#8fc7da" stroke="#000" stroke-width="0.85"/>
<line x1="555.375" y1="314" x2="555.375" y2="315" stroke="#000" stroke-width="1.2"/>
<line x1="555.375" y1="352" x2="555.375" y2="357.5" stroke="#000" stroke-width="1.2"/>
<line x1="553.175" y1="314" x2="557.575" y2="314" stroke="#000" stroke-width="1.0"/>
<line x1="553.175" y1="357.5" x2="557.575" y2="357.5" stroke="#000" stroke-width="1.0"/>
<rect x="552" y="315" width="6.75" height="37" fill="#bdbdbd" stroke="#000" stroke-width="1.2"/>
<line x1="552" y1="333.5" x2="558.75" y2="333.5" stroke="#000" stroke-width="0.8"/>
<circle cx="555.38" cy="314" r="1.75" fill="#d8d8d8" stroke="#000" stroke-width="0.85"/>
<circle cx="555.38" cy="357.5" r="1.75" fill="#d8d8d8" stroke="#000" stroke-width="0.85"/>
<circle cx="555.63" cy="315.5" r="1.75" fill="#d8d8d8" stroke="#000" stroke-width="0.85"/>
<circle cx="554.83" cy="351.5" r="1.75" fill="#d8d8d8" stroke="#000" stroke-width="0.85"/>
<circle cx="553.96" cy="333.5" r="1.75" fill="#d8d8d8" stroke="#000" stroke-width="0.85"/>
<circle cx="554.22" cy="321.56" r="1.75" fill="#d8d8d8" stroke="#000" stroke-width="0.85"/>
<line x1="564.75" y1="285.5" x2="564.75" y2="321.25" stroke="#000" stroke-width="1.2"/>
<line x1="564.75" y1="353" x2="564.75" y2="358" stroke="#000" stroke-width="1.2"/>
<line x1="562.55" y1="285.5" x2="566.95" y2="285.5" stroke="#000" stroke-width="1.0"/>
<line x1="562.55" y1="358" x2="566.95" y2="358" stroke="#000" stroke-width="1.0"/>
<rect x="561.25" y="321.25" width="7.0" height="31.75" fill="#000000" stroke="#000" stroke-width="1.2"/>
<line x1="561.25" y1="337.125" x2="568.25" y2="337.125" stroke="#fff" stroke-width="0.8"/>
<circle cx="564.75" cy="285.5" r="1.75" fill="#ffffff" stroke="#000" stroke-width="0.85"/>
<circle cx="564.75" cy="358" r="1.75" fill="#ffffff" stroke="#000" stroke-width="0.85"/>
<circle cx="566.11" cy="321.75" r="1.75" fill="#ffffff" stroke="#000" stroke-width="0.85"/>
<circle cx="566.24" cy="352.5" r="1.75" fill="#ffffff" stroke="#000" stroke-width="0.85"/>
<circle cx="565.22" cy="337.12" r="1.75" fill="#ffffff" stroke="#000" stroke-width="0.85"/>
<circle cx="563.9" cy="324.31" r="1.75" fill="#ffffff" stroke="#000" stroke-width="0.85"/>
<line x1="580.8" y1="346" x2="580.8" y2="356" stroke="#000" stroke-width="1.2"/>
<line x1="580.8" y1="370.7" x2="580.8" y2="371" stroke="#000" stroke-width="1.2"/>
<line x1="578.5999999999999" y1="346" x2="583.0" y2="346" stroke="#000" stroke-width="1.0"/>
<line x1="578.5999999999999" y1="371" x2="583.0" y2="371" stroke="#000" stroke-width="1.0"/>
<rect x="577.3" y="356" width="7.0" height="14.699999999999989" fill="#ffffff" stroke="#000" stroke-width="1.2"/>
<line x1="577.3" y1="363.35" x2="584.3" y2="363.35" stroke="#000" stroke-width="0.8"/>
<circle cx="580.8" cy="346" r="1.75" fill="#ffffff" stroke="#000" stroke-width="0.85"/>
<circle cx="580.8" cy="371" r="1.75" fill="#ffffff" stroke="#000" stroke-width="0.85"/>
<circle cx="581.39" cy="356.5" r="1.75" fill="#ffffff" stroke="#000" stroke-width="0.85"/>
<circle cx="582.16" cy="370.2" r="1.75" fill="#ffffff" stroke="#000" stroke-width="0.85"/>
<circle cx="581.44" cy="363.35" r="1.75" fill="#ffffff" stroke="#000" stroke-width="0.85"/>
<circle cx="580.85" cy="358.88" r="1.75" fill="#ffffff" stroke="#000" stroke-width="0.85"/>
<line x1="590.65" y1="356" x2="590.65" y2="362.7" stroke="#000" stroke-width="1.2"/>
<line x1="590.65" y1="366.7" x2="590.65" y2="370" stroke="#000" stroke-width="1.2"/>
<line x1="588.4499999999999" y1="356" x2="592.85" y2="356" stroke="#000" stroke-width="1.0"/>
<line x1="588.4499999999999" y1="370" x2="592.85" y2="370" stroke="#000" stroke-width="1.0"/>
<rect x="587.3" y="362.7" width="6.7000000000000455" height="4.0" fill="#8fc7da" stroke="#000" stroke-width="1.2"/>
<line x1="587.3" y1="364.7" x2="594" y2="364.7" stroke="#000" stroke-width="0.8"/>
<circle cx="590.65" cy="356" r="1.75" fill="#8fc7da" stroke="#000" stroke-width="0.85"/>
<circle cx="590.65" cy="370" r="1.75" fill="#8fc7da" stroke="#000" stroke-width="0.85"/>
<circle cx="589.16" cy="363.2" r="1.75" fill="#8fc7da" stroke="#000" stroke-width="0.85"/>
<circle cx="589.81" cy="366.2" r="1.75" fill="#8fc7da" stroke="#000" stroke-width="0.85"/>
<circle cx="589.96" cy="364.7" r="1.75" fill="#8fc7da" stroke="#000" stroke-width="0.85"/>
<circle cx="590.86" cy="365.95" r="1.75" fill="#8fc7da" stroke="#000" stroke-width="0.85"/>
<line x1="599.35" y1="292.7" x2="599.35" y2="350" stroke="#000" stroke-width="1.2"/>
<line x1="599.35" y1="370" x2="599.35" y2="370.5" stroke="#000" stroke-width="1.2"/>
<line x1="597.15" y1="292.7" x2="601.5500000000001" y2="292.7" stroke="#000" stroke-width="1.0"/>
<line x1="597.15" y1="370.5" x2="601.5500000000001" y2="370.5" stroke="#000" stroke-width="1.0"/>
<rect x="596" y="350" width="6.7000000000000455" height="20" fill="#bdbdbd" stroke="#000" stroke-width="1.2"/>
<line x1="596" y1="360.0" x2="602.7" y2="360.0" stroke="#000" stroke-width="0.8"/>
<circle cx="599.35" cy="292.7" r="1.75" fill="#d8d8d8" stroke="#000" stroke-width="0.85"/>
<circle cx="599.35" cy="370.5" r="1.75" fill="#d8d8d8" stroke="#000" stroke-width="0.85"/>
<circle cx="598.61" cy="350.5" r="1.75" fill="#d8d8d8" stroke="#000" stroke-width="0.85"/>
<circle cx="599.87" cy="369.5" r="1.75" fill="#d8d8d8" stroke="#000" stroke-width="0.85"/>
<circle cx="598.99" cy="360.0" r="1.75" fill="#d8d8d8" stroke="#000" stroke-width="0.85"/>
<circle cx="600.14" cy="354.15" r="1.75" fill="#d8d8d8" stroke="#000" stroke-width="0.85"/>
<line x1="609.2" y1="296.7" x2="609.2" y2="355" stroke="#000" stroke-width="1.2"/>
<line x1="609.2" y1="367.3" x2="609.2" y2="368" stroke="#000" stroke-width="1.2"/>
<line x1="607.0" y1="296.7" x2="611.4000000000001" y2="296.7" stroke="#000" stroke-width="1.0"/>
<line x1="607.0" y1="368" x2="611.4000000000001" y2="368" stroke="#000" stroke-width="1.0"/>
<rect x="605.7" y="355" width="7.0" height="12.300000000000011" fill="#000000" stroke="#000" stroke-width="1.2"/>
<line x1="605.7" y1="361.15" x2="612.7" y2="361.15" stroke="#fff" stroke-width="0.8"/>
<circle cx="609.2" cy="296.7" r="1.75" fill="#ffffff" stroke="#000" stroke-width="0.85"/>
<circle cx="609.2" cy="368" r="1.75" fill="#ffffff" stroke="#000" stroke-width="0.85"/>
<circle cx="610.13" cy="355.5" r="1.75" fill="#ffffff" stroke="#000" stroke-width="0.85"/>
<circle cx="607.78" cy="366.8" r="1.75" fill="#ffffff" stroke="#000" stroke-width="0.85"/>
<circle cx="609.42" cy="361.15" r="1.75" fill="#ffffff" stroke="#000" stroke-width="0.85"/>
<circle cx="608.84" cy="364.85" r="1.75" fill="#ffffff" stroke="#000" stroke-width="0.85"/>
<path d="M118,275 L118,271.5 L127.5,271.5 L127.5,277" fill="none" stroke="#000" stroke-width="1.25"/>
<text x="123.15" y="273.5" font-size="11.5" text-anchor="middle" letter-spacing="0.8" >**</text>
<path d="M118,264 L118,260.5 L137,260.5 L137,265.5" fill="none" stroke="#000" stroke-width="1.25"/>
<text x="127.9" y="262.5" font-size="11.5" text-anchor="middle" letter-spacing="0.8" >***</text>
<path d="M118,252 L118,250.5 L149.25,250.5 L149.25,255.5" fill="none" stroke="#000" stroke-width="1.25"/>
<text x="134.025" y="252.5" font-size="11.5" text-anchor="middle" letter-spacing="0.8" >***</text>
<path d="M163,286 L163,282.5 L173,282.5 L173,286.25" fill="none" stroke="#000" stroke-width="1.25"/>
<text x="168.4" y="284.5" font-size="11.5" text-anchor="middle" letter-spacing="0.8" >***</text>
<path d="M163,274 L163,270.75 L181.75,270.75 L181.75,275.75" fill="none" stroke="#000" stroke-width="1.25"/>
<text x="172.775" y="272.75" font-size="11.5" text-anchor="middle" letter-spacing="0.8" >***</text>
<path d="M163,262 L163,260.5 L193,260.5 L193,265.5" fill="none" stroke="#000" stroke-width="1.25"/>
<text x="178.4" y="262.5" font-size="11.5" text-anchor="middle" letter-spacing="0.8" >***</text>
<path d="M258.25,277 L258.25,273 L267,273 L267,277" fill="none" stroke="#000" stroke-width="1.25"/>
<text x="263.025" y="275.0" font-size="11.5" text-anchor="middle" letter-spacing="0.8" >*</text>
<path d="M258.25,263 L258.25,261.25 L277,261.25 L277,265.5" fill="none" stroke="#000" stroke-width="1.25"/>
<text x="268.025" y="263.25" font-size="11.5" text-anchor="middle" letter-spacing="0.8" >*</text>
<path d="M302.5,296 L302.5,292.5 L312,292.5 L312,297.5" fill="none" stroke="#000" stroke-width="1.25"/>
<text x="307.65" y="294.5" font-size="11.5" text-anchor="middle" letter-spacing="0.8" >**</text>
<path d="M302.5,285 L302.5,282.5 L321.25,282.5 L321.25,287" fill="none" stroke="#000" stroke-width="1.25"/>
<text x="312.275" y="284.5" font-size="11.5" text-anchor="middle" letter-spacing="0.8" >**</text>
<path d="M302.5,275 L302.5,273 L330.5,273 L330.5,278.75" fill="none" stroke="#000" stroke-width="1.25"/>
<text x="316.9" y="275.0" font-size="11.5" text-anchor="middle" letter-spacing="0.8" >**</text>
<path d="M397.5,271 L397.5,267 L416.75,267 L416.75,272" fill="none" stroke="#000" stroke-width="1.25"/>
<text x="407.525" y="269.0" font-size="11.5" text-anchor="middle" letter-spacing="0.8" >**</text>
<path d="M397.5,258 L397.5,256.25 L425.5,256.25 L425.5,262" fill="none" stroke="#000" stroke-width="1.25"/>
<text x="411.9" y="258.25" font-size="11.5" text-anchor="middle" letter-spacing="0.8" >*</text>
<path d="M442,272.5 L442,266.25 L460.5,266.25 L460.5,272.5" fill="none" stroke="#000" stroke-width="1.25"/>
<text x="451.65" y="268.25" font-size="11.5" text-anchor="middle" letter-spacing="0.8" >*</text>
<text x="8.8" y="445.8" font-size="16" text-anchor="start" font-weight="bold" >C</text>
<text x="10" y="461.7" font-size="12">H</text>
<text x="21.5" y="464.4" font-size="10">2</text>
<text x="27.3" y="461.7" font-size="12">O</text>
<text x="40.6" y="464.8" font-size="10">2</text>
<text x="78.2" y="461.7" font-size="12" text-anchor="middle" >0 µM</text>
<text x="141.2" y="461.7" font-size="12" text-anchor="middle" >100 µM</text>
<text x="203.5" y="461.7" font-size="12" text-anchor="middle" >250 µM</text>
<text transform="translate(13.6,535.8) rotate(-90)" font-size="12.3" text-anchor="middle">AUF µg/mL</text>
<line x1="18.7" y1="499.8" x2="18.7" y2="582.5" stroke="#000" stroke-width="1.2"/>
<text x="43" y="482.5" font-size="12" text-anchor="end" >-</text>
<text x="45.65" y="512.3" font-size="12" text-anchor="end" letter-spacing="0.35" >0,25</text>
<text x="45.65" y="543" font-size="12" text-anchor="end" letter-spacing="0.35" >0,5</text>
<text x="44.85" y="573.8" font-size="12" text-anchor="end" letter-spacing="0.35" >1</text>
<path d="M61.00,494.60 C61.43,494.50 62.85,495.33 63.60,494.00 C64.35,492.67 64.85,489.83 65.50,486.60 C66.15,483.37 66.75,477.88 67.50,474.60 C68.25,471.32 69.25,467.73 70.00,466.90 C70.75,466.07 71.17,467.65 72.00,469.60 C72.83,471.55 73.85,476.02 75.00,478.60 C76.15,481.18 77.57,483.60 78.90,485.10 C80.23,486.60 81.65,487.02 83.00,487.60 C84.35,488.18 85.83,488.35 87.00,488.60 C88.17,488.85 89.00,488.68 90.00,489.10 C91.00,489.52 91.92,490.38 93.00,491.10 C94.08,491.82 95.33,492.85 96.50,493.40 C97.67,493.95 98.75,494.20 100.00,494.40 C101.25,494.60 103.33,494.57 104.00,494.60 Z" fill="#d2d2d2" stroke="none"/>
<path d="M61.00,494.60 C61.43,494.50 62.85,495.33 63.60,494.00 C64.35,492.67 64.85,489.83 65.50,486.60 C66.15,483.37 66.75,477.88 67.50,474.60 C68.25,471.32 69.25,467.73 70.00,466.90 C70.75,466.07 71.17,467.65 72.00,469.60 C72.83,471.55 73.85,476.02 75.00,478.60 C76.15,481.18 77.57,483.60 78.90,485.10 C80.23,486.60 81.65,487.02 83.00,487.60 C84.35,488.18 85.83,488.35 87.00,488.60 C88.17,488.85 89.00,488.68 90.00,489.10 C91.00,489.52 91.92,490.38 93.00,491.10 C94.08,491.82 95.33,492.85 96.50,493.40 C97.67,493.95 98.75,494.20 100.00,494.40 C101.25,494.60 103.33,494.57 104.00,494.60" fill="none" stroke="#000" stroke-width="1.3"/>
<path d="M62.00,524.40 C62.40,524.27 63.82,525.27 64.40,523.60 C64.98,521.93 65.07,518.88 65.50,514.40 C65.93,509.92 66.50,499.37 67.00,496.70 C67.50,494.03 67.92,496.62 68.50,498.40 C69.08,500.18 69.70,504.65 70.50,507.40 C71.30,510.15 72.22,513.15 73.30,514.90 C74.38,516.65 75.55,517.23 77.00,517.90 C78.45,518.57 80.07,518.58 82.00,518.90 C83.93,519.22 86.77,519.38 88.60,519.80 C90.43,520.22 91.60,520.77 93.00,521.40 C94.40,522.03 95.83,523.12 97.00,523.60 C98.17,524.08 98.83,524.17 100.00,524.30 C101.17,524.43 103.33,524.38 104.00,524.40 Z" fill="#d2d2d2" stroke="none"/>
<path d="M62.00,524.40 C62.40,524.27 63.82,525.27 64.40,523.60 C64.98,521.93 65.07,518.88 65.50,514.40 C65.93,509.92 66.50,499.37 67.00,496.70 C67.50,494.03 67.92,496.62 68.50,498.40 C69.08,500.18 69.70,504.65 70.50,507.40 C71.30,510.15 72.22,513.15 73.30,514.90 C74.38,516.65 75.55,517.23 77.00,517.90 C78.45,518.57 80.07,518.58 82.00,518.90 C83.93,519.22 86.77,519.38 88.60,519.80 C90.43,520.22 91.60,520.77 93.00,521.40 C94.40,522.03 95.83,523.12 97.00,523.60 C98.17,524.08 98.83,524.17 100.00,524.30 C101.17,524.43 103.33,524.38 104.00,524.40" fill="none" stroke="#000" stroke-width="1.3"/>
<path d="M62.00,554.30 C62.40,554.17 63.82,555.17 64.40,553.50 C64.98,551.83 65.07,548.78 65.50,544.30 C65.93,539.82 66.50,529.27 67.00,526.60 C67.50,523.93 67.92,526.52 68.50,528.30 C69.08,530.08 69.70,534.43 70.50,537.30 C71.30,540.17 72.22,543.58 73.30,545.50 C74.38,547.42 75.55,548.03 77.00,548.80 C78.45,549.57 80.17,549.72 82.00,550.10 C83.83,550.48 86.00,550.67 88.00,551.10 C90.00,551.53 92.33,552.25 94.00,552.70 C95.67,553.15 96.83,553.53 98.00,553.80 C99.17,554.07 100.50,554.22 101.00,554.30 Z" fill="#d2d2d2" stroke="none"/>
<path d="M62.00,554.30 C62.40,554.17 63.82,555.17 64.40,553.50 C64.98,551.83 65.07,548.78 65.50,544.30 C65.93,539.82 66.50,529.27 67.00,526.60 C67.50,523.93 67.92,526.52 68.50,528.30 C69.08,530.08 69.70,534.43 70.50,537.30 C71.30,540.17 72.22,543.58 73.30,545.50 C74.38,547.42 75.55,548.03 77.00,548.80 C78.45,549.57 80.17,549.72 82.00,550.10 C83.83,550.48 86.00,550.67 88.00,551.10 C90.00,551.53 92.33,552.25 94.00,552.70 C95.67,553.15 96.83,553.53 98.00,553.80 C99.17,554.07 100.50,554.22 101.00,554.30" fill="none" stroke="#000" stroke-width="1.3"/>
<path d="M60.00,584.30 C60.42,584.22 61.78,585.80 62.50,583.80 C63.22,581.80 63.65,576.80 64.30,572.30 C64.95,567.80 65.78,558.97 66.40,556.80 C67.02,554.63 67.48,557.22 68.00,559.30 C68.52,561.38 68.98,566.05 69.50,569.30 C70.02,572.55 70.52,576.80 71.10,578.80 C71.68,580.80 72.02,580.72 73.00,581.30 C73.98,581.88 75.17,582.02 77.00,582.30 C78.83,582.58 81.67,582.77 84.00,583.00 C86.33,583.23 89.00,583.48 91.00,583.70 C93.00,583.92 95.17,584.20 96.00,584.30 Z" fill="#d2d2d2" stroke="none"/>
<path d="M60.00,584.30 C60.42,584.22 61.78,585.80 62.50,583.80 C63.22,581.80 63.65,576.80 64.30,572.30 C64.95,567.80 65.78,558.97 66.40,556.80 C67.02,554.63 67.48,557.22 68.00,559.30 C68.52,561.38 68.98,566.05 69.50,569.30 C70.02,572.55 70.52,576.80 71.10,578.80 C71.68,580.80 72.02,580.72 73.00,581.30 C73.98,581.88 75.17,582.02 77.00,582.30 C78.83,582.58 81.67,582.77 84.00,583.00 C86.33,583.23 89.00,583.48 91.00,583.70 C93.00,583.92 95.17,584.20 96.00,584.30" fill="none" stroke="#000" stroke-width="1.3"/>
<path d="M124.50,494.60 C125.05,494.47 126.88,495.30 127.80,493.80 C128.72,492.30 129.22,488.10 130.00,485.60 C130.78,483.10 131.75,480.00 132.50,478.80 C133.25,477.60 133.75,478.13 134.50,478.40 C135.25,478.67 136.25,480.08 137.00,480.40 C137.75,480.72 138.08,480.68 139.00,480.30 C139.92,479.92 141.42,479.22 142.50,478.10 C143.58,476.98 144.62,475.62 145.50,473.60 C146.38,471.58 147.13,466.83 147.80,466.00 C148.47,465.17 148.88,466.33 149.50,468.60 C150.12,470.87 150.87,476.27 151.50,479.60 C152.13,482.93 152.72,486.35 153.30,488.60 C153.88,490.85 154.43,492.13 155.00,493.10 C155.57,494.07 155.95,494.15 156.70,494.40 C157.45,494.65 159.03,494.57 159.50,494.60 Z" fill="#d2d2d2" stroke="none"/>
<path d="M124.50,494.60 C125.05,494.47 126.88,495.30 127.80,493.80 C128.72,492.30 129.22,488.10 130.00,485.60 C130.78,483.10 131.75,480.00 132.50,478.80 C133.25,477.60 133.75,478.13 134.50,478.40 C135.25,478.67 136.25,480.08 137.00,480.40 C137.75,480.72 138.08,480.68 139.00,480.30 C139.92,479.92 141.42,479.22 142.50,478.10 C143.58,476.98 144.62,475.62 145.50,473.60 C146.38,471.58 147.13,466.83 147.80,466.00 C148.47,465.17 148.88,466.33 149.50,468.60 C150.12,470.87 150.87,476.27 151.50,479.60 C152.13,482.93 152.72,486.35 153.30,488.60 C153.88,490.85 154.43,492.13 155.00,493.10 C155.57,494.07 155.95,494.15 156.70,494.40 C157.45,494.65 159.03,494.57 159.50,494.60" fill="none" stroke="#000" stroke-width="1.3"/>
<path d="M124.50,524.40 C124.93,524.27 126.47,525.27 127.10,523.60 C127.73,521.93 127.77,518.88 128.30,514.40 C128.83,509.92 129.72,499.37 130.30,496.70 C130.88,494.03 131.22,496.62 131.80,498.40 C132.38,500.18 132.90,504.40 133.80,507.40 C134.70,510.40 136.08,514.57 137.20,516.40 C138.32,518.23 139.28,517.95 140.50,518.40 C141.72,518.85 143.20,518.88 144.50,519.10 C145.80,519.32 147.13,519.40 148.30,519.70 C149.47,520.00 150.38,520.32 151.50,520.90 C152.62,521.48 153.92,522.63 155.00,523.20 C156.08,523.77 157.08,524.10 158.00,524.30 C158.92,524.50 160.08,524.38 160.50,524.40 Z" fill="#d2d2d2" stroke="none"/>
<path d="M124.50,524.40 C124.93,524.27 126.47,525.27 127.10,523.60 C127.73,521.93 127.77,518.88 128.30,514.40 C128.83,509.92 129.72,499.37 130.30,496.70 C130.88,494.03 131.22,496.62 131.80,498.40 C132.38,500.18 132.90,504.40 133.80,507.40 C134.70,510.40 136.08,514.57 137.20,516.40 C138.32,518.23 139.28,517.95 140.50,518.40 C141.72,518.85 143.20,518.88 144.50,519.10 C145.80,519.32 147.13,519.40 148.30,519.70 C149.47,520.00 150.38,520.32 151.50,520.90 C152.62,521.48 153.92,522.63 155.00,523.20 C156.08,523.77 157.08,524.10 158.00,524.30 C158.92,524.50 160.08,524.38 160.50,524.40" fill="none" stroke="#000" stroke-width="1.3"/>
<path d="M124.50,554.30 C124.93,554.17 126.47,555.17 127.10,553.50 C127.73,551.83 127.77,548.75 128.30,544.30 C128.83,539.85 129.72,529.47 130.30,526.80 C130.88,524.13 131.22,526.38 131.80,528.30 C132.38,530.22 132.90,535.05 133.80,538.30 C134.70,541.55 136.08,545.88 137.20,547.80 C138.32,549.72 139.12,549.32 140.50,549.80 C141.88,550.28 144.00,550.45 145.50,550.70 C147.00,550.95 148.17,550.95 149.50,551.30 C150.83,551.65 152.30,552.33 153.50,552.80 C154.70,553.27 155.70,553.85 156.70,554.10 C157.70,554.35 159.03,554.27 159.50,554.30 Z" fill="#d2d2d2" stroke="none"/>
<path d="M124.50,554.30 C124.93,554.17 126.47,555.17 127.10,553.50 C127.73,551.83 127.77,548.75 128.30,544.30 C128.83,539.85 129.72,529.47 130.30,526.80 C130.88,524.13 131.22,526.38 131.80,528.30 C132.38,530.22 132.90,535.05 133.80,538.30 C134.70,541.55 136.08,545.88 137.20,547.80 C138.32,549.72 139.12,549.32 140.50,549.80 C141.88,550.28 144.00,550.45 145.50,550.70 C147.00,550.95 148.17,550.95 149.50,551.30 C150.83,551.65 152.30,552.33 153.50,552.80 C154.70,553.27 155.70,553.85 156.70,554.10 C157.70,554.35 159.03,554.27 159.50,554.30" fill="none" stroke="#000" stroke-width="1.3"/>
<path d="M123.50,584.30 C124.00,584.22 125.80,585.80 126.50,583.80 C127.20,581.80 127.22,576.72 127.70,572.30 C128.18,567.88 128.87,559.30 129.40,557.30 C129.93,555.30 130.38,557.97 130.90,560.30 C131.42,562.63 131.92,568.05 132.50,571.30 C133.08,574.55 133.73,578.05 134.40,579.80 C135.07,581.55 135.32,581.32 136.50,581.80 C137.68,582.28 139.50,582.45 141.50,582.70 C143.50,582.95 146.50,583.10 148.50,583.30 C150.50,583.50 152.13,583.73 153.50,583.90 C154.87,584.07 156.17,584.23 156.70,584.30 Z" fill="#d2d2d2" stroke="none"/>
<path d="M123.50,584.30 C124.00,584.22 125.80,585.80 126.50,583.80 C127.20,581.80 127.22,576.72 127.70,572.30 C128.18,567.88 128.87,559.30 129.40,557.30 C129.93,555.30 130.38,557.97 130.90,560.30 C131.42,562.63 131.92,568.05 132.50,571.30 C133.08,574.55 133.73,578.05 134.40,579.80 C135.07,581.55 135.32,581.32 136.50,581.80 C137.68,582.28 139.50,582.45 141.50,582.70 C143.50,582.95 146.50,583.10 148.50,583.30 C150.50,583.50 152.13,583.73 153.50,583.90 C154.87,584.07 156.17,584.23 156.70,584.30" fill="none" stroke="#000" stroke-width="1.3"/>
<path d="M186.50,494.60 C187.08,494.52 188.83,494.60 190.00,494.10 C191.17,493.60 192.25,492.77 193.50,491.60 C194.75,490.43 196.17,488.60 197.50,487.10 C198.83,485.60 200.17,484.18 201.50,482.60 C202.83,481.02 204.33,479.18 205.50,477.60 C206.67,476.02 207.47,474.88 208.50,473.10 C209.53,471.32 210.90,467.48 211.70,466.90 C212.50,466.32 212.75,467.48 213.30,469.60 C213.85,471.72 214.47,476.27 215.00,479.60 C215.53,482.93 216.03,487.23 216.50,489.60 C216.97,491.97 217.30,492.97 217.80,493.80 C218.30,494.63 219.22,494.47 219.50,494.60 Z" fill="#d2d2d2" stroke="none"/>
<path d="M186.50,494.60 C187.08,494.52 188.83,494.60 190.00,494.10 C191.17,493.60 192.25,492.77 193.50,491.60 C194.75,490.43 196.17,488.60 197.50,487.10 C198.83,485.60 200.17,484.18 201.50,482.60 C202.83,481.02 204.33,479.18 205.50,477.60 C206.67,476.02 207.47,474.88 208.50,473.10 C209.53,471.32 210.90,467.48 211.70,466.90 C212.50,466.32 212.75,467.48 213.30,469.60 C213.85,471.72 214.47,476.27 215.00,479.60 C215.53,482.93 216.03,487.23 216.50,489.60 C216.97,491.97 217.30,492.97 217.80,493.80 C218.30,494.63 219.22,494.47 219.50,494.60" fill="none" stroke="#000" stroke-width="1.3"/>
<path d="M188.50,524.40 C188.98,524.27 190.77,525.60 191.40,523.60 C192.03,521.60 191.93,516.77 192.30,512.40 C192.67,508.03 193.13,499.57 193.60,497.40 C194.07,495.23 194.53,497.73 195.10,499.40 C195.67,501.07 196.23,505.07 197.00,507.40 C197.77,509.73 198.78,512.07 199.70,513.40 C200.62,514.73 201.37,514.87 202.50,515.40 C203.63,515.93 205.35,516.37 206.50,516.60 C207.65,516.83 208.63,516.77 209.40,516.80 C210.17,516.83 210.50,516.57 211.10,516.80 C211.70,517.03 212.35,517.52 213.00,518.20 C213.65,518.88 214.37,520.03 215.00,520.90 C215.63,521.77 216.25,522.82 216.80,523.40 C217.35,523.98 218.05,524.23 218.30,524.40 Z" fill="#d2d2d2" stroke="none"/>
<path d="M188.50,524.40 C188.98,524.27 190.77,525.60 191.40,523.60 C192.03,521.60 191.93,516.77 192.30,512.40 C192.67,508.03 193.13,499.57 193.60,497.40 C194.07,495.23 194.53,497.73 195.10,499.40 C195.67,501.07 196.23,505.07 197.00,507.40 C197.77,509.73 198.78,512.07 199.70,513.40 C200.62,514.73 201.37,514.87 202.50,515.40 C203.63,515.93 205.35,516.37 206.50,516.60 C207.65,516.83 208.63,516.77 209.40,516.80 C210.17,516.83 210.50,516.57 211.10,516.80 C211.70,517.03 212.35,517.52 213.00,518.20 C213.65,518.88 214.37,520.03 215.00,520.90 C215.63,521.77 216.25,522.82 216.80,523.40 C217.35,523.98 218.05,524.23 218.30,524.40" fill="none" stroke="#000" stroke-width="1.3"/>
<path d="M188.50,554.30 C188.98,554.17 190.77,555.50 191.40,553.50 C192.03,551.50 191.93,546.70 192.30,542.30 C192.67,537.90 193.13,529.27 193.60,527.10 C194.07,524.93 194.48,527.27 195.10,529.30 C195.72,531.33 196.32,536.55 197.30,539.30 C198.28,542.05 199.80,544.38 201.00,545.80 C202.20,547.22 203.25,547.32 204.50,547.80 C205.75,548.28 207.25,548.45 208.50,548.70 C209.75,548.95 211.08,549.03 212.00,549.30 C212.92,549.57 213.33,549.77 214.00,550.30 C214.67,550.83 215.37,551.88 216.00,552.50 C216.63,553.12 217.22,553.70 217.80,554.00 C218.38,554.30 219.22,554.25 219.50,554.30 Z" fill="#d2d2d2" stroke="none"/>
<path d="M188.50,554.30 C188.98,554.17 190.77,555.50 191.40,553.50 C192.03,551.50 191.93,546.70 192.30,542.30 C192.67,537.90 193.13,529.27 193.60,527.10 C194.07,524.93 194.48,527.27 195.10,529.30 C195.72,531.33 196.32,536.55 197.30,539.30 C198.28,542.05 199.80,544.38 201.00,545.80 C202.20,547.22 203.25,547.32 204.50,547.80 C205.75,548.28 207.25,548.45 208.50,548.70 C209.75,548.95 211.08,549.03 212.00,549.30 C212.92,549.57 213.33,549.77 214.00,550.30 C214.67,550.83 215.37,551.88 216.00,552.50 C216.63,553.12 217.22,553.70 217.80,554.00 C218.38,554.30 219.22,554.25 219.50,554.30" fill="none" stroke="#000" stroke-width="1.3"/>
<path d="M187.50,584.30 C188.00,584.20 189.83,585.70 190.50,583.70 C191.17,581.70 191.12,576.70 191.50,572.30 C191.88,567.90 192.37,559.30 192.80,557.30 C193.23,555.30 193.65,557.97 194.10,560.30 C194.55,562.63 195.02,568.30 195.50,571.30 C195.98,574.30 196.42,576.72 197.00,578.30 C197.58,579.88 198.08,580.20 199.00,580.80 C199.92,581.40 201.08,581.65 202.50,581.90 C203.92,582.15 205.88,582.35 207.50,582.30 C209.12,582.25 211.07,581.60 212.20,581.60 C213.33,581.60 213.62,581.95 214.30,582.30 C214.98,582.65 215.68,583.37 216.30,583.70 C216.92,584.03 217.72,584.20 218.00,584.30 Z" fill="#d2d2d2" stroke="none"/>
<path d="M187.50,584.30 C188.00,584.20 189.83,585.70 190.50,583.70 C191.17,581.70 191.12,576.70 191.50,572.30 C191.88,567.90 192.37,559.30 192.80,557.30 C193.23,555.30 193.65,557.97 194.10,560.30 C194.55,562.63 195.02,568.30 195.50,571.30 C195.98,574.30 196.42,576.72 197.00,578.30 C197.58,579.88 198.08,580.20 199.00,580.80 C199.92,581.40 201.08,581.65 202.50,581.90 C203.92,582.15 205.88,582.35 207.50,582.30 C209.12,582.25 211.07,581.60 212.20,581.60 C213.33,581.60 213.62,581.95 214.30,582.30 C214.98,582.65 215.68,583.37 216.30,583.70 C216.92,584.03 217.72,584.20 218.00,584.30" fill="none" stroke="#000" stroke-width="1.3"/>
<rect x="46" y="464.6" width="188" height="119.69999999999993" fill="none" stroke="#000" stroke-width="1.2"/>
<line x1="108.5" y1="464.6" x2="108.5" y2="584.3" stroke="#000" stroke-width="2.0"/>
<line x1="171.5" y1="464.6" x2="171.5" y2="584.3" stroke="#000" stroke-width="2.0"/>
<line x1="46" y1="494.6" x2="234" y2="494.6" stroke="#000" stroke-width="1.2"/>
<line x1="46" y1="524.4" x2="234" y2="524.4" stroke="#000" stroke-width="1.2"/>
<line x1="46" y1="554.3" x2="234" y2="554.3" stroke="#000" stroke-width="1.2"/>
<line x1="49" y1="584.8" x2="49" y2="586.6999999999999" stroke="#222" stroke-width="0.75"/>
<line x1="51" y1="584.8" x2="51" y2="586.6999999999999" stroke="#222" stroke-width="0.75"/>
<line x1="53" y1="584.8" x2="53" y2="586.6999999999999" stroke="#222" stroke-width="0.75"/>
<line x1="55" y1="584.8" x2="55" y2="586.6999999999999" stroke="#222" stroke-width="0.75"/>
<line x1="57" y1="584.8" x2="57" y2="586.6999999999999" stroke="#222" stroke-width="0.75"/>
<line x1="59" y1="584.8" x2="59" y2="586.6999999999999" stroke="#222" stroke-width="0.75"/>
<line x1="61" y1="584.8" x2="61" y2="586.6999999999999" stroke="#222" stroke-width="0.75"/>
<line x1="63" y1="584.8" x2="63" y2="586.6999999999999" stroke="#222" stroke-width="0.75"/>
<line x1="64" y1="584.8" x2="64" y2="586.6999999999999" stroke="#222" stroke-width="0.75"/>
<line x1="65" y1="584.8" x2="65" y2="586.6999999999999" stroke="#222" stroke-width="0.75"/>
<line x1="66" y1="584.8" x2="66" y2="586.6999999999999" stroke="#222" stroke-width="0.75"/>
<line x1="67" y1="584.8" x2="67" y2="586.6999999999999" stroke="#222" stroke-width="0.75"/>
<line x1="68" y1="584.8" x2="68" y2="586.6999999999999" stroke="#222" stroke-width="0.75"/>
<line x1="69" y1="584.8" x2="69" y2="586.6999999999999" stroke="#222" stroke-width="0.75"/>
<line x1="70" y1="584.8" x2="70" y2="586.6999999999999" stroke="#222" stroke-width="0.75"/>
<line x1="72" y1="584.8" x2="72" y2="586.6999999999999" stroke="#222" stroke-width="0.75"/>
<line x1="74" y1="584.8" x2="74" y2="586.6999999999999" stroke="#222" stroke-width="0.75"/>
<line x1="76" y1="584.8" x2="76" y2="586.6999999999999" stroke="#222" stroke-width="0.75"/>
<line x1="78" y1="584.8" x2="78" y2="586.6999999999999" stroke="#222" stroke-width="0.75"/>
<line x1="79.6" y1="584.8" x2="79.6" y2="587.5" stroke="#222" stroke-width="0.75"/>
<line x1="82" y1="584.8" x2="82" y2="586.6999999999999" stroke="#222" stroke-width="0.75"/>
<line x1="84" y1="584.8" x2="84" y2="586.6999999999999" stroke="#222" stroke-width="0.75"/>
<line x1="86" y1="584.8" x2="86" y2="586.6999999999999" stroke="#222" stroke-width="0.75"/>
<line x1="88" y1="584.8" x2="88" y2="586.6999999999999" stroke="#222" stroke-width="0.75"/>
<line x1="90" y1="584.8" x2="90" y2="586.6999999999999" stroke="#222" stroke-width="0.75"/>
<line x1="92" y1="584.8" x2="92" y2="586.6999999999999" stroke="#222" stroke-width="0.75"/>
<line x1="94" y1="584.8" x2="94" y2="586.6999999999999" stroke="#222" stroke-width="0.75"/>
<line x1="94.9" y1="584.8" x2="94.9" y2="587.5" stroke="#222" stroke-width="0.75"/>
<line x1="97" y1="584.8" x2="97" y2="586.6999999999999" stroke="#222" stroke-width="0.75"/>
<line x1="99" y1="584.8" x2="99" y2="586.6999999999999" stroke="#222" stroke-width="0.75"/>
<line x1="101" y1="584.8" x2="101" y2="586.6999999999999" stroke="#222" stroke-width="0.75"/>
<line x1="103" y1="584.8" x2="103" y2="586.6999999999999" stroke="#222" stroke-width="0.75"/>
<line x1="104.5" y1="584.8" x2="104.5" y2="587.5" stroke="#222" stroke-width="0.75"/>
<line x1="106" y1="584.8" x2="106" y2="586.6999999999999" stroke="#222" stroke-width="0.75"/>
<text transform="translate(50.4,597) scale(0.55,1)" font-size="7.6" text-anchor="middle" fill="#222" style="stroke-width:0.15px">-10</text>
<text transform="translate(52.3,591.6) scale(0.6,1)" font-size="5.5" fill="#222" style="stroke-width:0.1px">4</text>
<text transform="translate(64.7,597) scale(0.55,1)" font-size="7.6" text-anchor="middle" fill="#222" style="stroke-width:0.15px">0</text>
<text transform="translate(79.6,597) scale(0.55,1)" font-size="7.6" text-anchor="middle" fill="#222" style="stroke-width:0.15px">10</text>
<text transform="translate(81.5,591.6) scale(0.6,1)" font-size="5.5" fill="#222" style="stroke-width:0.1px">4</text>
<text transform="translate(94.9,597) scale(0.55,1)" font-size="7.6" text-anchor="middle" fill="#222" style="stroke-width:0.15px">10</text>
<text transform="translate(96.8,591.6) scale(0.6,1)" font-size="5.5" fill="#222" style="stroke-width:0.1px">5</text>
<text transform="translate(104.5,597) scale(0.55,1)" font-size="7.6" text-anchor="middle" fill="#222" style="stroke-width:0.15px">10</text>
<text transform="translate(106.4,591.6) scale(0.6,1)" font-size="5.5" fill="#222" style="stroke-width:0.1px">6</text>
<line x1="62.5" y1="584.8" x2="62.5" y2="587.3" stroke="#111" stroke-width="0.8"/>
<line x1="63" y1="584.8" x2="63" y2="587.3" stroke="#111" stroke-width="0.8"/>
<line x1="63.5" y1="584.8" x2="63.5" y2="587.3" stroke="#111" stroke-width="0.8"/>
<line x1="64" y1="584.8" x2="64" y2="587.3" stroke="#111" stroke-width="0.8"/>
<line x1="65.2" y1="584.8" x2="65.2" y2="587.3" stroke="#111" stroke-width="0.8"/>
<line x1="65.8" y1="584.8" x2="65.8" y2="587.3" stroke="#111" stroke-width="0.8"/>
<line x1="66.3" y1="584.8" x2="66.3" y2="587.3" stroke="#111" stroke-width="0.8"/>
<line x1="67" y1="584.8" x2="67" y2="587.3" stroke="#111" stroke-width="0.8"/>
<line x1="111.5" y1="584.8" x2="111.5" y2="586.6999999999999" stroke="#222" stroke-width="0.75"/>
<line x1="113.5" y1="584.8" x2="113.5" y2="586.6999999999999" stroke="#222" stroke-width="0.75"/>
<line x1="115.5" y1="584.8" x2="115.5" y2="586.6999999999999" stroke="#222" stroke-width="0.75"/>
<line x1="117.5" y1="584.8" x2="117.5" y2="586.6999999999999" stroke="#222" stroke-width="0.75"/>
<line x1="119.5" y1="584.8" x2="119.5" y2="586.6999999999999" stroke="#222" stroke-width="0.75"/>
<line x1="121.5" y1="584.8" x2="121.5" y2="586.6999999999999" stroke="#222" stroke-width="0.75"/>
<line x1="123.5" y1="584.8" x2="123.5" y2="586.6999999999999" stroke="#222" stroke-width="0.75"/>
<line x1="125.5" y1="584.8" x2="125.5" y2="586.6999999999999" stroke="#222" stroke-width="0.75"/>
<line x1="126.5" y1="584.8" x2="126.5" y2="586.6999999999999" stroke="#222" stroke-width="0.75"/>
<line x1="127.5" y1="584.8" x2="127.5" y2="586.6999999999999" stroke="#222" stroke-width="0.75"/>
<line x1="128.5" y1="584.8" x2="128.5" y2="586.6999999999999" stroke="#222" stroke-width="0.75"/>
<line x1="129.5" y1="584.8" x2="129.5" y2="586.6999999999999" stroke="#222" stroke-width="0.75"/>
<line x1="130.5" y1="584.8" x2="130.5" y2="586.6999999999999" stroke="#222" stroke-width="0.75"/>
<line x1="131.5" y1="584.8" x2="131.5" y2="586.6999999999999" stroke="#222" stroke-width="0.75"/>
<line x1="132.5" y1="584.8" x2="132.5" y2="586.6999999999999" stroke="#222" stroke-width="0.75"/>
<line x1="134.5" y1="584.8" x2="134.5" y2="586.6999999999999" stroke="#222" stroke-width="0.75"/>
<line x1="136.5" y1="584.8" x2="136.5" y2="586.6999999999999" stroke="#222" stroke-width="0.75"/>
<line x1="138.5" y1="584.8" x2="138.5" y2="586.6999999999999" stroke="#222" stroke-width="0.75"/>
<line x1="140.5" y1="584.8" x2="140.5" y2="586.6999999999999" stroke="#222" stroke-width="0.75"/>
<line x1="142.1" y1="584.8" x2="142.1" y2="587.5" stroke="#222" stroke-width="0.75"/>
<line x1="144.5" y1="584.8" x2="144.5" y2="586.6999999999999" stroke="#222" stroke-width="0.75"/>
<line x1="146.5" y1="584.8" x2="146.5" y2="586.6999999999999" stroke="#222" stroke-width="0.75"/>
<line x1="148.5" y1="584.8" x2="148.5" y2="586.6999999999999" stroke="#222" stroke-width="0.75"/>
<line x1="150.5" y1="584.8" x2="150.5" y2="586.6999999999999" stroke="#222" stroke-width="0.75"/>
<line x1="152.5" y1="584.8" x2="152.5" y2="586.6999999999999" stroke="#222" stroke-width="0.75"/>
<line x1="154.5" y1="584.8" x2="154.5" y2="586.6999999999999" stroke="#222" stroke-width="0.75"/>
<line x1="156.5" y1="584.8" x2="156.5" y2="586.6999999999999" stroke="#222" stroke-width="0.75"/>
<line x1="157.4" y1="584.8" x2="157.4" y2="587.5" stroke="#222" stroke-width="0.75"/>
<line x1="159.5" y1="584.8" x2="159.5" y2="586.6999999999999" stroke="#222" stroke-width="0.75"/>
<line x1="161.5" y1="584.8" x2="161.5" y2="586.6999999999999" stroke="#222" stroke-width="0.75"/>
<line x1="163.5" y1="584.8" x2="163.5" y2="586.6999999999999" stroke="#222" stroke-width="0.75"/>
<line x1="165.5" y1="584.8" x2="165.5" y2="586.6999999999999" stroke="#222" stroke-width="0.75"/>
<line x1="167.0" y1="584.8" x2="167.0" y2="587.5" stroke="#222" stroke-width="0.75"/>
<line x1="168.5" y1="584.8" x2="168.5" y2="586.6999999999999" stroke="#222" stroke-width="0.75"/>
<text transform="translate(112.9,597) scale(0.55,1)" font-size="7.6" text-anchor="middle" fill="#222" style="stroke-width:0.15px">-10</text>
<text transform="translate(114.8,591.6) scale(0.6,1)" font-size="5.5" fill="#222" style="stroke-width:0.1px">4</text>
<text transform="translate(127.2,597) scale(0.55,1)" font-size="7.6" text-anchor="middle" fill="#222" style="stroke-width:0.15px">0</text>
<text transform="translate(142.1,597) scale(0.55,1)" font-size="7.6" text-anchor="middle" fill="#222" style="stroke-width:0.15px">10</text>
<text transform="translate(144.0,591.6) scale(0.6,1)" font-size="5.5" fill="#222" style="stroke-width:0.1px">4</text>
<text transform="translate(157.4,597) scale(0.55,1)" font-size="7.6" text-anchor="middle" fill="#222" style="stroke-width:0.15px">10</text>
<text transform="translate(159.3,591.6) scale(0.6,1)" font-size="5.5" fill="#222" style="stroke-width:0.1px">5</text>
<text transform="translate(167.0,597) scale(0.55,1)" font-size="7.6" text-anchor="middle" fill="#222" style="stroke-width:0.15px">10</text>
<text transform="translate(168.9,591.6) scale(0.6,1)" font-size="5.5" fill="#222" style="stroke-width:0.1px">6</text>
<line x1="125.0" y1="584.8" x2="125.0" y2="587.3" stroke="#111" stroke-width="0.8"/>
<line x1="125.5" y1="584.8" x2="125.5" y2="587.3" stroke="#111" stroke-width="0.8"/>
<line x1="126.0" y1="584.8" x2="126.0" y2="587.3" stroke="#111" stroke-width="0.8"/>
<line x1="126.5" y1="584.8" x2="126.5" y2="587.3" stroke="#111" stroke-width="0.8"/>
<line x1="127.7" y1="584.8" x2="127.7" y2="587.3" stroke="#111" stroke-width="0.8"/>
<line x1="128.3" y1="584.8" x2="128.3" y2="587.3" stroke="#111" stroke-width="0.8"/>
<line x1="128.8" y1="584.8" x2="128.8" y2="587.3" stroke="#111" stroke-width="0.8"/>
<line x1="129.5" y1="584.8" x2="129.5" y2="587.3" stroke="#111" stroke-width="0.8"/>
<line x1="174.5" y1="584.8" x2="174.5" y2="586.6999999999999" stroke="#222" stroke-width="0.75"/>
<line x1="176.5" y1="584.8" x2="176.5" y2="586.6999999999999" stroke="#222" stroke-width="0.75"/>
<line x1="178.5" y1="584.8" x2="178.5" y2="586.6999999999999" stroke="#222" stroke-width="0.75"/>
<line x1="180.5" y1="584.8" x2="180.5" y2="586.6999999999999" stroke="#222" stroke-width="0.75"/>
<line x1="182.5" y1="584.8" x2="182.5" y2="586.6999999999999" stroke="#222" stroke-width="0.75"/>
<line x1="184.5" y1="584.8" x2="184.5" y2="586.6999999999999" stroke="#222" stroke-width="0.75"/>
<line x1="186.5" y1="584.8" x2="186.5" y2="586.6999999999999" stroke="#222" stroke-width="0.75"/>
<line x1="188.5" y1="584.8" x2="188.5" y2="586.6999999999999" stroke="#222" stroke-width="0.75"/>
<line x1="189.5" y1="584.8" x2="189.5" y2="586.6999999999999" stroke="#222" stroke-width="0.75"/>
<line x1="190.5" y1="584.8" x2="190.5" y2="586.6999999999999" stroke="#222" stroke-width="0.75"/>
<line x1="191.5" y1="584.8" x2="191.5" y2="586.6999999999999" stroke="#222" stroke-width="0.75"/>
<line x1="192.5" y1="584.8" x2="192.5" y2="586.6999999999999" stroke="#222" stroke-width="0.75"/>
<line x1="193.5" y1="584.8" x2="193.5" y2="586.6999999999999" stroke="#222" stroke-width="0.75"/>
<line x1="194.5" y1="584.8" x2="194.5" y2="586.6999999999999" stroke="#222" stroke-width="0.75"/>
<line x1="195.5" y1="584.8" x2="195.5" y2="586.6999999999999" stroke="#222" stroke-width="0.75"/>
<line x1="197.5" y1="584.8" x2="197.5" y2="586.6999999999999" stroke="#222" stroke-width="0.75"/>
<line x1="199.5" y1="584.8" x2="199.5" y2="586.6999999999999" stroke="#222" stroke-width="0.75"/>
<line x1="201.5" y1="584.8" x2="201.5" y2="586.6999999999999" stroke="#222" stroke-width="0.75"/>
<line x1="203.5" y1="584.8" x2="203.5" y2="586.6999999999999" stroke="#222" stroke-width="0.75"/>
<line x1="205.1" y1="584.8" x2="205.1" y2="587.5" stroke="#222" stroke-width="0.75"/>
<line x1="207.5" y1="584.8" x2="207.5" y2="586.6999999999999" stroke="#222" stroke-width="0.75"/>
<line x1="209.5" y1="584.8" x2="209.5" y2="586.6999999999999" stroke="#222" stroke-width="0.75"/>
<line x1="211.5" y1="584.8" x2="211.5" y2="586.6999999999999" stroke="#222" stroke-width="0.75"/>
<line x1="213.5" y1="584.8" x2="213.5" y2="586.6999999999999" stroke="#222" stroke-width="0.75"/>
<line x1="215.5" y1="584.8" x2="215.5" y2="586.6999999999999" stroke="#222" stroke-width="0.75"/>
<line x1="217.5" y1="584.8" x2="217.5" y2="586.6999999999999" stroke="#222" stroke-width="0.75"/>
<line x1="219.5" y1="584.8" x2="219.5" y2="586.6999999999999" stroke="#222" stroke-width="0.75"/>
<line x1="220.4" y1="584.8" x2="220.4" y2="587.5" stroke="#222" stroke-width="0.75"/>
<line x1="222.5" y1="584.8" x2="222.5" y2="586.6999999999999" stroke="#222" stroke-width="0.75"/>
<line x1="224.5" y1="584.8" x2="224.5" y2="586.6999999999999" stroke="#222" stroke-width="0.75"/>
<line x1="226.5" y1="584.8" x2="226.5" y2="586.6999999999999" stroke="#222" stroke-width="0.75"/>
<line x1="228.5" y1="584.8" x2="228.5" y2="586.6999999999999" stroke="#222" stroke-width="0.75"/>
<line x1="230.0" y1="584.8" x2="230.0" y2="587.5" stroke="#222" stroke-width="0.75"/>
<line x1="231.5" y1="584.8" x2="231.5" y2="586.6999999999999" stroke="#222" stroke-width="0.75"/>
<text transform="translate(175.9,597) scale(0.55,1)" font-size="7.6" text-anchor="middle" fill="#222" style="stroke-width:0.15px">-10</text>
<text transform="translate(177.8,591.6) scale(0.6,1)" font-size="5.5" fill="#222" style="stroke-width:0.1px">4</text>
<text transform="translate(190.2,597) scale(0.55,1)" font-size="7.6" text-anchor="middle" fill="#222" style="stroke-width:0.15px">0</text>
<text transform="translate(205.1,597) scale(0.55,1)" font-size="7.6" text-anchor="middle" fill="#222" style="stroke-width:0.15px">10</text>
<text transform="translate(207.0,591.6) scale(0.6,1)" font-size="5.5" fill="#222" style="stroke-width:0.1px">4</text>
<text transform="translate(220.4,597) scale(0.55,1)" font-size="7.6" text-anchor="middle" fill="#222" style="stroke-width:0.15px">10</text>
<text transform="translate(222.3,591.6) scale(0.6,1)" font-size="5.5" fill="#222" style="stroke-width:0.1px">5</text>
<text transform="translate(230.0,597) scale(0.55,1)" font-size="7.6" text-anchor="middle" fill="#222" style="stroke-width:0.15px">10</text>
<text transform="translate(231.9,591.6) scale(0.6,1)" font-size="5.5" fill="#222" style="stroke-width:0.1px">6</text>
<line x1="188.0" y1="584.8" x2="188.0" y2="587.3" stroke="#111" stroke-width="0.8"/>
<line x1="188.5" y1="584.8" x2="188.5" y2="587.3" stroke="#111" stroke-width="0.8"/>
<line x1="189.0" y1="584.8" x2="189.0" y2="587.3" stroke="#111" stroke-width="0.8"/>
<line x1="189.5" y1="584.8" x2="189.5" y2="587.3" stroke="#111" stroke-width="0.8"/>
<line x1="190.7" y1="584.8" x2="190.7" y2="587.3" stroke="#111" stroke-width="0.8"/>
<line x1="191.3" y1="584.8" x2="191.3" y2="587.3" stroke="#111" stroke-width="0.8"/>
<line x1="191.8" y1="584.8" x2="191.8" y2="587.3" stroke="#111" stroke-width="0.8"/>
<line x1="192.5" y1="584.8" x2="192.5" y2="587.3" stroke="#111" stroke-width="0.8"/>
<text x="238.4" y="445.8" font-size="16" text-anchor="start" font-weight="bold" >D</text>
<line x1="276.1" y1="452" x2="276.1" y2="583.3" stroke="#000" stroke-width="1.4"/>
<line x1="272.3" y1="583.3" x2="408" y2="583.3" stroke="#000" stroke-width="1.4"/>
<line x1="272.3" y1="452.2" x2="276" y2="452.2" stroke="#000" stroke-width="1.4"/>
<text x="268.85" y="456.5" font-size="12" text-anchor="end" letter-spacing="0.35" >40</text>
<line x1="272.3" y1="484.9" x2="276" y2="484.9" stroke="#000" stroke-width="1.4"/>
<text x="268.85" y="489.2" font-size="12" text-anchor="end" letter-spacing="0.35" >30</text>
<line x1="272.3" y1="517.6" x2="276" y2="517.6" stroke="#000" stroke-width="1.4"/>
<text x="268.85" y="521.9" font-size="12" text-anchor="end" letter-spacing="0.35" >20</text>
<line x1="272.3" y1="550.3" x2="276" y2="550.3" stroke="#000" stroke-width="1.4"/>
<text x="268.85" y="554.5999999999999" font-size="12" text-anchor="end" letter-spacing="0.35" >10</text>
<text x="268.85" y="587.3" font-size="12" text-anchor="end" letter-spacing="0.35" >0</text>
<line x1="283.3" y1="583.3" x2="283.3" y2="587.2" stroke="#000" stroke-width="1.4"/>
<text x="283.475" y="601.4" font-size="12" text-anchor="middle" letter-spacing="0.35" >0</text>
<line x1="314.15" y1="583.3" x2="314.15" y2="587.2" stroke="#000" stroke-width="1.4"/>
<text x="314.325" y="601.4" font-size="12" text-anchor="middle" letter-spacing="0.35" >20</text>
<line x1="345" y1="583.3" x2="345" y2="587.2" stroke="#000" stroke-width="1.4"/>
<text x="345.175" y="601.4" font-size="12" text-anchor="middle" letter-spacing="0.35" >40</text>
<line x1="375.85" y1="583.3" x2="375.85" y2="587.2" stroke="#000" stroke-width="1.4"/>
<text x="376.02500000000003" y="601.4" font-size="12" text-anchor="middle" letter-spacing="0.35" >60</text>
<line x1="406.7" y1="583.3" x2="406.7" y2="587.2" stroke="#000" stroke-width="1.4"/>
<text x="406.875" y="601.4" font-size="12" text-anchor="middle" letter-spacing="0.35" >80</text>
<text x="341.5" y="615.8" font-size="12" text-anchor="middle" >% lysis of target cells</text>
<text transform="translate(250.2,521) rotate(-90)" font-size="12" text-anchor="middle">cellrox gMFI x10<tspan font-size="7.5" dy="-5">4</tspan></text>
<text x="354" y="460.6" font-size="10.3" text-anchor="start" >r = -0.607</text>
<text x="354" y="473.7" font-size="10.3" text-anchor="start" >p &lt; 0.0001</text>
<circle cx="286.4" cy="461.2" r="1.65" fill="#000"/>
<circle cx="282.5" cy="468.9" r="1.65" fill="#000"/>
<circle cx="286.9" cy="475.7" r="1.65" fill="#000"/>
<circle cx="288.1" cy="479.8" r="1.65" fill="#000"/>
<circle cx="286.1" cy="485.8" r="1.65" fill="#000"/>
<circle cx="278.4" cy="490.6" r="1.65" fill="#000"/>
<circle cx="284.5" cy="491.8" r="1.65" fill="#000"/>
<circle cx="294.8" cy="483.4" r="1.65" fill="#000"/>
<circle cx="293.6" cy="490.6" r="1.65" fill="#000"/>
<circle cx="297.2" cy="493.5" r="1.65" fill="#000"/>
<circle cx="284.5" cy="497.8" r="1.65" fill="#000"/>
<circle cx="296.5" cy="498.3" r="1.65" fill="#000"/>
<circle cx="294.1" cy="501.4" r="1.65" fill="#000"/>
<circle cx="282.0" cy="503.9" r="1.65" fill="#000"/>
<circle cx="284.0" cy="503.1" r="1.65" fill="#000"/>
<circle cx="306.6" cy="505.1" r="1.65" fill="#000"/>
<circle cx="314.1" cy="491.1" r="1.65" fill="#000"/>
<circle cx="321.3" cy="494.9" r="1.65" fill="#000"/>
<circle cx="336.7" cy="497.8" r="1.65" fill="#000"/>
<circle cx="347.1" cy="516.6" r="1.65" fill="#000"/>
<circle cx="287.3" cy="512.3" r="1.65" fill="#000"/>
<circle cx="280.8" cy="514.7" r="1.65" fill="#000"/>
<circle cx="282.0" cy="517.6" r="1.65" fill="#000"/>
<circle cx="285.7" cy="519.5" r="1.65" fill="#000"/>
<circle cx="280.1" cy="523.1" r="1.65" fill="#000"/>
<circle cx="276.7" cy="521.9" r="1.65" fill="#000"/>
<circle cx="284.5" cy="523.1" r="1.65" fill="#000"/>
<circle cx="276.0" cy="526.7" r="1.65" fill="#000"/>
<circle cx="298.4" cy="515.9" r="1.65" fill="#000"/>
<circle cx="303.3" cy="516.6" r="1.65" fill="#000"/>
<circle cx="293.6" cy="524.3" r="1.65" fill="#000"/>
<circle cx="298.4" cy="524.8" r="1.65" fill="#000"/>
<circle cx="303.7" cy="524.3" r="1.65" fill="#000"/>
<circle cx="306.1" cy="527.2" r="1.65" fill="#000"/>
<circle cx="300.8" cy="528.7" r="1.65" fill="#000"/>
<circle cx="319.4" cy="525.5" r="1.65" fill="#000"/>
<circle cx="328.6" cy="521.9" r="1.65" fill="#000"/>
<circle cx="328.6" cy="525.5" r="1.65" fill="#000"/>
<circle cx="328.3" cy="529.6" r="1.65" fill="#000"/>
<circle cx="294.1" cy="531.1" r="1.65" fill="#000"/>
<circle cx="280.1" cy="531.6" r="1.65" fill="#000"/>
<circle cx="283.3" cy="532.8" r="1.65" fill="#000"/>
<circle cx="276.7" cy="535.2" r="1.65" fill="#000"/>
<circle cx="278.4" cy="534.5" r="1.65" fill="#000"/>
<circle cx="294.1" cy="536.4" r="1.65" fill="#000"/>
<circle cx="296.5" cy="536.4" r="1.65" fill="#000"/>
<circle cx="299.4" cy="536.9" r="1.65" fill="#000"/>
<circle cx="312.9" cy="532.3" r="1.65" fill="#000"/>
<circle cx="305.7" cy="539.3" r="1.65" fill="#000"/>
<circle cx="306.6" cy="540.0" r="1.65" fill="#000"/>
<circle cx="278.4" cy="542.4" r="1.65" fill="#000"/>
<circle cx="279.6" cy="544.1" r="1.65" fill="#000"/>
<circle cx="281.6" cy="543.6" r="1.65" fill="#000"/>
<circle cx="284.0" cy="543.1" r="1.65" fill="#000"/>
<circle cx="286.4" cy="544.1" r="1.65" fill="#000"/>
<circle cx="289.3" cy="544.8" r="1.65" fill="#000"/>
<circle cx="291.7" cy="545.5" r="1.65" fill="#000"/>
<circle cx="280.8" cy="547.2" r="1.65" fill="#000"/>
<circle cx="284.5" cy="548.0" r="1.65" fill="#000"/>
<circle cx="286.4" cy="547.2" r="1.65" fill="#000"/>
<circle cx="285.7" cy="548.9" r="1.65" fill="#000"/>
<circle cx="294.1" cy="548.9" r="1.65" fill="#000"/>
<circle cx="298.9" cy="546.5" r="1.65" fill="#000"/>
<circle cx="310.5" cy="543.6" r="1.65" fill="#000"/>
<circle cx="313.4" cy="546.0" r="1.65" fill="#000"/>
<circle cx="309.8" cy="548.0" r="1.65" fill="#000"/>
<circle cx="311.4" cy="549.6" r="1.65" fill="#000"/>
<circle cx="320.6" cy="543.6" r="1.65" fill="#000"/>
<circle cx="322.5" cy="541.2" r="1.65" fill="#000"/>
<circle cx="324.9" cy="539.3" r="1.65" fill="#000"/>
<circle cx="325.4" cy="544.1" r="1.65" fill="#000"/>
<circle cx="331.4" cy="537.6" r="1.65" fill="#000"/>
<circle cx="333.1" cy="538.3" r="1.65" fill="#000"/>
<circle cx="334.6" cy="544.8" r="1.65" fill="#000"/>
<circle cx="339.9" cy="540.0" r="1.65" fill="#000"/>
<circle cx="342.3" cy="538.8" r="1.65" fill="#000"/>
<circle cx="344.7" cy="535.2" r="1.65" fill="#000"/>
<circle cx="345.2" cy="541.7" r="1.65" fill="#000"/>
<circle cx="348.3" cy="537.6" r="1.65" fill="#000"/>
<circle cx="349.5" cy="544.1" r="1.65" fill="#000"/>
<circle cx="282.0" cy="553.3" r="1.65" fill="#000"/>
<circle cx="298.9" cy="555.7" r="1.65" fill="#000"/>
<circle cx="303.7" cy="554.5" r="1.65" fill="#000"/>
<circle cx="312.2" cy="553.3" r="1.65" fill="#000"/>
<circle cx="318.2" cy="550.4" r="1.65" fill="#000"/>
<circle cx="319.4" cy="552.8" r="1.65" fill="#000"/>
<circle cx="323.0" cy="551.3" r="1.65" fill="#000"/>
<circle cx="324.2" cy="555.2" r="1.65" fill="#000"/>
<circle cx="325.9" cy="557.6" r="1.65" fill="#000"/>
<circle cx="296.0" cy="560.5" r="1.65" fill="#000"/>
<circle cx="303.7" cy="561.7" r="1.65" fill="#000"/>
<circle cx="317.0" cy="558.1" r="1.65" fill="#000"/>
<circle cx="317.7" cy="560.5" r="1.65" fill="#000"/>
<circle cx="321.8" cy="561.0" r="1.65" fill="#000"/>
<circle cx="326.6" cy="556.1" r="1.65" fill="#000"/>
<circle cx="339.9" cy="550.4" r="1.65" fill="#000"/>
<circle cx="339.4" cy="552.8" r="1.65" fill="#000"/>
<circle cx="343.5" cy="556.1" r="1.65" fill="#000"/>
<circle cx="346.6" cy="557.6" r="1.65" fill="#000"/>
<circle cx="348.3" cy="559.3" r="1.65" fill="#000"/>
<circle cx="310.5" cy="567.2" r="1.65" fill="#000"/>
<circle cx="315.8" cy="569.4" r="1.65" fill="#000"/>
<circle cx="319.4" cy="572.5" r="1.65" fill="#000"/>
<circle cx="321.8" cy="566.5" r="1.65" fill="#000"/>
<circle cx="323.5" cy="567.7" r="1.65" fill="#000"/>
<circle cx="323.0" cy="576.9" r="1.65" fill="#000"/>
<circle cx="333.1" cy="567.7" r="1.65" fill="#000"/>
<circle cx="334.6" cy="568.9" r="1.65" fill="#000"/>
<circle cx="337.5" cy="565.3" r="1.65" fill="#000"/>
<circle cx="335.5" cy="564.1" r="1.65" fill="#000"/>
<circle cx="342.3" cy="572.5" r="1.65" fill="#000"/>
<circle cx="343.5" cy="571.3" r="1.65" fill="#000"/>
<circle cx="345.9" cy="567.7" r="1.65" fill="#000"/>
<circle cx="347.1" cy="563.4" r="1.65" fill="#000"/>
<circle cx="348.3" cy="570.1" r="1.65" fill="#000"/>
<circle cx="300.8" cy="576.6" r="1.65" fill="#000"/>
<circle cx="341.8" cy="577.3" r="1.65" fill="#000"/>
<circle cx="362.2" cy="505.1" r="1.65" fill="#000"/>
<circle cx="346.7" cy="516.6" r="1.65" fill="#000"/>
<circle cx="357.3" cy="521.9" r="1.65" fill="#000"/>
<circle cx="360.5" cy="521.4" r="1.65" fill="#000"/>
<circle cx="381.4" cy="525.5" r="1.65" fill="#000"/>
<circle cx="384.6" cy="538.3" r="1.65" fill="#000"/>
<circle cx="392.5" cy="540.7" r="1.65" fill="#000"/>
<circle cx="391.1" cy="544.1" r="1.65" fill="#000"/>
<circle cx="379.8" cy="544.1" r="1.65" fill="#000"/>
<circle cx="343.6" cy="534.7" r="1.65" fill="#000"/>
<circle cx="342.4" cy="537.6" r="1.65" fill="#000"/>
<circle cx="349.2" cy="537.6" r="1.65" fill="#000"/>
<circle cx="341.2" cy="541.2" r="1.65" fill="#000"/>
<circle cx="344.8" cy="543.6" r="1.65" fill="#000"/>
<circle cx="350.1" cy="545.3" r="1.65" fill="#000"/>
<circle cx="356.4" cy="543.6" r="1.65" fill="#000"/>
<circle cx="358.1" cy="547.7" r="1.65" fill="#000"/>
<circle cx="369.4" cy="547.7" r="1.65" fill="#000"/>
<circle cx="368.9" cy="549.6" r="1.65" fill="#000"/>
<circle cx="373.7" cy="550.4" r="1.65" fill="#000"/>
<circle cx="378.1" cy="551.3" r="1.65" fill="#000"/>
<circle cx="382.2" cy="552.0" r="1.65" fill="#000"/>
<circle cx="354.5" cy="552.0" r="1.65" fill="#000"/>
<circle cx="357.3" cy="552.5" r="1.65" fill="#000"/>
<circle cx="362.9" cy="552.0" r="1.65" fill="#000"/>
<circle cx="366.5" cy="553.3" r="1.65" fill="#000"/>
<circle cx="404.6" cy="571.3" r="1.65" fill="#000"/>
<circle cx="394.9" cy="570.1" r="1.65" fill="#000"/>
<circle cx="393.5" cy="556.9" r="1.65" fill="#000"/>
<circle cx="390.6" cy="555.7" r="1.65" fill="#000"/>
<circle cx="387.0" cy="555.7" r="1.65" fill="#000"/>
<circle cx="361.0" cy="566.8" r="1.65" fill="#000"/>
<circle cx="381.0" cy="561.4" r="1.65" fill="#000"/>
<circle cx="360.0" cy="564.1" r="1.65" fill="#000"/>
<circle cx="376.3" cy="571.1" r="1.65" fill="#000"/>
<circle cx="361.1" cy="556.7" r="1.65" fill="#000"/>
<circle cx="378.4" cy="567.3" r="1.65" fill="#000"/>
<circle cx="385.8" cy="570.4" r="1.65" fill="#000"/>
<circle cx="371.1" cy="562.9" r="1.65" fill="#000"/>
<circle cx="364.9" cy="557.7" r="1.65" fill="#000"/>
<circle cx="372.9" cy="565.4" r="1.65" fill="#000"/>
<circle cx="368.9" cy="564.1" r="1.65" fill="#000"/>
<circle cx="374.5" cy="568.7" r="1.65" fill="#000"/>
<circle cx="381.9" cy="565.8" r="1.65" fill="#000"/>
<circle cx="355.9" cy="568.7" r="1.65" fill="#000"/>
<circle cx="359.2" cy="563.5" r="1.65" fill="#000"/>
<circle cx="358.7" cy="564.5" r="1.65" fill="#000"/>
<circle cx="365.0" cy="565.8" r="1.65" fill="#000"/>
<circle cx="379.6" cy="556.6" r="1.65" fill="#000"/>
<circle cx="369.4" cy="568.5" r="1.65" fill="#000"/>
<circle cx="371.2" cy="566.7" r="1.65" fill="#000"/>
<circle cx="372.9" cy="558.5" r="1.65" fill="#000"/>
<circle cx="377.1" cy="559.6" r="1.65" fill="#000"/>
<circle cx="388.8" cy="561.5" r="1.65" fill="#000"/>
<circle cx="378.2" cy="564.5" r="1.65" fill="#000"/>
<circle cx="380.6" cy="560.9" r="1.65" fill="#000"/>
<circle cx="381.0" cy="563.8" r="1.65" fill="#000"/>
<circle cx="383.4" cy="568.2" r="1.65" fill="#000"/>
<circle cx="373.3" cy="559.8" r="1.65" fill="#000"/>
<circle cx="378.9" cy="567.3" r="1.65" fill="#000"/>
<circle cx="386.8" cy="562.2" r="1.65" fill="#000"/>
<circle cx="377.0" cy="567.5" r="1.65" fill="#000"/>
<circle cx="374.5" cy="565.8" r="1.65" fill="#000"/>
<circle cx="373.6" cy="560.9" r="1.65" fill="#000"/>
<circle cx="362.9" cy="562.1" r="1.65" fill="#000"/>
<circle cx="377.3" cy="573.6" r="1.65" fill="#000"/>
<circle cx="380.8" cy="570.8" r="1.65" fill="#000"/>
<circle cx="379.0" cy="568.7" r="1.65" fill="#000"/>
<circle cx="373.7" cy="569.1" r="1.65" fill="#000"/>
<circle cx="388.0" cy="562.5" r="1.65" fill="#000"/>
<circle cx="365.8" cy="576.3" r="1.65" fill="#000"/>
<circle cx="374.2" cy="570.3" r="1.65" fill="#000"/>
<circle cx="379.9" cy="557.7" r="1.65" fill="#000"/>
<circle cx="393.9" cy="575.2" r="1.65" fill="#000"/>
<circle cx="373.6" cy="569.0" r="1.65" fill="#000"/>
<circle cx="373.1" cy="559.2" r="1.65" fill="#000"/>
<circle cx="371.0" cy="566.7" r="1.65" fill="#000"/>
<circle cx="382.0" cy="568.8" r="1.65" fill="#000"/>
<circle cx="372.5" cy="572.6" r="1.65" fill="#000"/>
<circle cx="365.2" cy="569.3" r="1.65" fill="#000"/>
<circle cx="382.0" cy="562.7" r="1.65" fill="#000"/>
<circle cx="355.9" cy="559.1" r="1.65" fill="#000"/>
<circle cx="374.1" cy="567.7" r="1.65" fill="#000"/>
<circle cx="385.9" cy="558.5" r="1.65" fill="#000"/>
<circle cx="372.0" cy="568.4" r="1.65" fill="#000"/>
<circle cx="370.6" cy="550.3" r="1.65" fill="#000"/>
<circle cx="381.0" cy="559.0" r="1.65" fill="#000"/>
<circle cx="368.3" cy="565.8" r="1.65" fill="#000"/>
<circle cx="394.4" cy="568.2" r="1.65" fill="#000"/>
<circle cx="373.0" cy="573.8" r="1.65" fill="#000"/>
<circle cx="371.3" cy="575.7" r="1.65" fill="#000"/>
<circle cx="365.8" cy="561.7" r="1.65" fill="#000"/>
<circle cx="378.5" cy="573.0" r="1.65" fill="#000"/>
<circle cx="377.9" cy="566.3" r="1.65" fill="#000"/>
<circle cx="355.6" cy="560.2" r="1.65" fill="#000"/>
<circle cx="366.5" cy="561.3" r="1.65" fill="#000"/>
<circle cx="377.3" cy="562.5" r="1.65" fill="#000"/>
<circle cx="379.1" cy="565.0" r="1.65" fill="#000"/>
<circle cx="369.0" cy="565.2" r="1.65" fill="#000"/>
<circle cx="375.9" cy="569.6" r="1.65" fill="#000"/>
<circle cx="367.7" cy="563.1" r="1.65" fill="#000"/>
<circle cx="359.7" cy="574.1" r="1.65" fill="#000"/>
<circle cx="385.1" cy="563.4" r="1.65" fill="#000"/>
<circle cx="367.7" cy="557.1" r="1.65" fill="#000"/>
<circle cx="373.5" cy="565.7" r="1.65" fill="#000"/>
<circle cx="391.6" cy="566.0" r="1.65" fill="#000"/>
<circle cx="365.0" cy="549.8" r="1.65" fill="#000"/>
<circle cx="384.7" cy="565.6" r="1.65" fill="#000"/>
<circle cx="357.5" cy="565.6" r="1.65" fill="#000"/>
<circle cx="382.1" cy="567.9" r="1.65" fill="#000"/>
<circle cx="370.4" cy="551.7" r="1.65" fill="#000"/>
<circle cx="370.9" cy="555.2" r="1.65" fill="#000"/>
<circle cx="377.4" cy="551.7" r="1.65" fill="#000"/>
<circle cx="363.8" cy="571.8" r="1.65" fill="#000"/>
<circle cx="386.8" cy="557.4" r="1.65" fill="#000"/>
<circle cx="358.2" cy="569.8" r="1.65" fill="#000"/>
<circle cx="379.7" cy="558.6" r="1.65" fill="#000"/>
<circle cx="365.8" cy="560.3" r="1.65" fill="#000"/>
<circle cx="361.3" cy="560.4" r="1.65" fill="#000"/>
<circle cx="383.3" cy="568.6" r="1.65" fill="#000"/>
<circle cx="390.5" cy="564.0" r="1.65" fill="#000"/>
<circle cx="370.8" cy="558.6" r="1.65" fill="#000"/>
<circle cx="370.9" cy="556.6" r="1.65" fill="#000"/>
<circle cx="356.0" cy="568.7" r="1.65" fill="#000"/>
<circle cx="385.0" cy="569.5" r="1.65" fill="#000"/>
<circle cx="384.0" cy="566.0" r="1.65" fill="#000"/>
<circle cx="365.5" cy="565.0" r="1.65" fill="#000"/>
<circle cx="368.6" cy="557.8" r="1.65" fill="#000"/>
<circle cx="356.8" cy="555.6" r="1.65" fill="#000"/>
<circle cx="372.0" cy="565.4" r="1.65" fill="#000"/>
<circle cx="367.7" cy="573.1" r="1.65" fill="#000"/>
<circle cx="373.6" cy="568.0" r="1.65" fill="#000"/>
<circle cx="383.0" cy="559.6" r="1.65" fill="#000"/>
<circle cx="354.3" cy="569.0" r="1.65" fill="#000"/>
<circle cx="365.8" cy="572.4" r="1.65" fill="#000"/>
<circle cx="375.0" cy="570.5" r="1.65" fill="#000"/>
<circle cx="378.9" cy="552.0" r="1.65" fill="#000"/>
<circle cx="378.5" cy="560.5" r="1.65" fill="#000"/>
<circle cx="365.2" cy="561.9" r="1.65" fill="#000"/>
<circle cx="378.9" cy="569.8" r="1.65" fill="#000"/>
<circle cx="381.1" cy="554.5" r="1.65" fill="#000"/>
<circle cx="366.7" cy="550.2" r="1.65" fill="#000"/>
<circle cx="371.1" cy="568.1" r="1.65" fill="#000"/>
<circle cx="365.1" cy="566.0" r="1.65" fill="#000"/>
<circle cx="374.1" cy="570.5" r="1.65" fill="#000"/>
<circle cx="364.6" cy="559.5" r="1.65" fill="#000"/>
<circle cx="365.1" cy="575.0" r="1.65" fill="#000"/>
<circle cx="381.8" cy="563.8" r="1.65" fill="#000"/>
<circle cx="374.0" cy="565.2" r="1.65" fill="#000"/>
<circle cx="373.8" cy="563.2" r="1.65" fill="#000"/>
<circle cx="369.0" cy="557.0" r="1.65" fill="#000"/>
<circle cx="366.2" cy="574.4" r="1.65" fill="#000"/>
<circle cx="376.8" cy="564.9" r="1.65" fill="#000"/>
<circle cx="370.1" cy="564.9" r="1.65" fill="#000"/>
<circle cx="375.2" cy="560.6" r="1.65" fill="#000"/>
<circle cx="373.8" cy="565.9" r="1.65" fill="#000"/>
<circle cx="365.3" cy="559.8" r="1.65" fill="#000"/>
<circle cx="363.0" cy="558.1" r="1.65" fill="#000"/>
<circle cx="380.0" cy="550.3" r="1.65" fill="#000"/>
<circle cx="369.6" cy="560.8" r="1.65" fill="#000"/>
<circle cx="366.4" cy="565.1" r="1.65" fill="#000"/>
<circle cx="382.2" cy="565.0" r="1.65" fill="#000"/>
<circle cx="370.7" cy="560.8" r="1.65" fill="#000"/>
<circle cx="370.8" cy="570.0" r="1.65" fill="#000"/>
<circle cx="368.5" cy="557.6" r="1.65" fill="#000"/>
<circle cx="360.6" cy="557.9" r="1.65" fill="#000"/>
<circle cx="359.5" cy="571.1" r="1.65" fill="#000"/>
<circle cx="375.2" cy="563.1" r="1.65" fill="#000"/>
<circle cx="385.1" cy="560.6" r="1.65" fill="#000"/>
<circle cx="378.8" cy="569.3" r="1.65" fill="#000"/>
<circle cx="358.1" cy="555.2" r="1.65" fill="#000"/>
<circle cx="363.7" cy="569.9" r="1.65" fill="#000"/>
<circle cx="383.7" cy="557.1" r="1.65" fill="#000"/>
<circle cx="381.4" cy="562.2" r="1.65" fill="#000"/>
<circle cx="368.5" cy="561.2" r="1.65" fill="#000"/>
<circle cx="369.1" cy="553.6" r="1.65" fill="#000"/>
<circle cx="363.0" cy="557.1" r="1.65" fill="#000"/>
<circle cx="339.0" cy="578.2" r="1.65" fill="#000"/>
<circle cx="371.0" cy="548.0" r="1.65" fill="#000"/>
<circle cx="352.6" cy="561.8" r="1.65" fill="#000"/>
<circle cx="368.2" cy="553.2" r="1.65" fill="#000"/>
<circle cx="365.9" cy="558.1" r="1.65" fill="#000"/>
<circle cx="348.5" cy="562.7" r="1.65" fill="#000"/>
<circle cx="353.1" cy="561.1" r="1.65" fill="#000"/>
<circle cx="331.2" cy="550.8" r="1.65" fill="#000"/>
<circle cx="364.0" cy="573.2" r="1.65" fill="#000"/>
<circle cx="337.3" cy="565.6" r="1.65" fill="#000"/>
<circle cx="344.1" cy="561.0" r="1.65" fill="#000"/>
<circle cx="336.2" cy="555.7" r="1.65" fill="#000"/>
<circle cx="351.7" cy="557.5" r="1.65" fill="#000"/>
<circle cx="359.0" cy="548.0" r="1.65" fill="#000"/>
<circle cx="369.7" cy="548.0" r="1.65" fill="#000"/>
<circle cx="333.6" cy="560.9" r="1.65" fill="#000"/>
<circle cx="339.3" cy="553.5" r="1.65" fill="#000"/>
<circle cx="360.6" cy="558.9" r="1.65" fill="#000"/>
<circle cx="356.8" cy="548.0" r="1.65" fill="#000"/>
<circle cx="353.5" cy="557.8" r="1.65" fill="#000"/>
<circle cx="343.1" cy="548.7" r="1.65" fill="#000"/>
<circle cx="367.8" cy="570.5" r="1.65" fill="#000"/>
<circle cx="338.7" cy="572.4" r="1.65" fill="#000"/>
<circle cx="352.0" cy="548.0" r="1.65" fill="#000"/>
<circle cx="354.1" cy="563.0" r="1.65" fill="#000"/>
<text x="426.6" y="445.8" font-size="16" text-anchor="start" font-weight="bold" >E</text>
<line x1="470.3" y1="452" x2="470.3" y2="583.3" stroke="#000" stroke-width="1.4"/>
<line x1="466.5" y1="583.3" x2="652" y2="583.3" stroke="#000" stroke-width="1.4"/>
<line x1="466.5" y1="583.3" x2="470.3" y2="583.3" stroke="#000" stroke-width="1.4"/>
<text x="463.95000000000005" y="587.5999999999999" font-size="12" text-anchor="end" letter-spacing="0.35" >0</text>
<line x1="466.5" y1="557.0759999999999" x2="470.3" y2="557.0759999999999" stroke="#000" stroke-width="1.4"/>
<text x="463.95000000000005" y="561.3759999999999" font-size="12" text-anchor="end" letter-spacing="0.35" >20</text>
<line x1="466.5" y1="530.852" x2="470.3" y2="530.852" stroke="#000" stroke-width="1.4"/>
<text x="463.95000000000005" y="535.1519999999999" font-size="12" text-anchor="end" letter-spacing="0.35" >40</text>
<line x1="466.5" y1="504.62799999999993" x2="470.3" y2="504.62799999999993" stroke="#000" stroke-width="1.4"/>
<text x="463.95000000000005" y="508.92799999999994" font-size="12" text-anchor="end" letter-spacing="0.35" >60</text>
<line x1="466.5" y1="478.404" x2="470.3" y2="478.404" stroke="#000" stroke-width="1.4"/>
<text x="463.95000000000005" y="482.704" font-size="12" text-anchor="end" letter-spacing="0.35" >80</text>
<line x1="466.5" y1="452.17999999999995" x2="470.3" y2="452.17999999999995" stroke="#000" stroke-width="1.4"/>
<text x="463.95000000000005" y="456.47999999999996" font-size="12" text-anchor="end" letter-spacing="0.35" >100</text>
<text transform="translate(441.8,521.9) rotate(-90)" font-size="12" text-anchor="middle">ROS (% of DMSO)</text>
<line x1="491.7" y1="583.6" x2="491.7" y2="587.3" stroke="#000" stroke-width="1.4"/>
<text x="491.875" y="600.8" font-size="12" text-anchor="middle" letter-spacing="0.35" >0</text>
<line x1="538.2" y1="583.6" x2="538.2" y2="587.3" stroke="#000" stroke-width="1.4"/>
<text x="538.375" y="600.8" font-size="12" text-anchor="middle" letter-spacing="0.35" >24</text>
<line x1="584.8" y1="583.6" x2="584.8" y2="587.3" stroke="#000" stroke-width="1.4"/>
<text x="584.9749999999999" y="600.8" font-size="12" text-anchor="middle" letter-spacing="0.35" >48</text>
<line x1="631.2" y1="583.6" x2="631.2" y2="587.3" stroke="#000" stroke-width="1.4"/>
<text x="631.375" y="600.8" font-size="12" text-anchor="middle" letter-spacing="0.35" >72</text>
<text x="561.8" y="617.1" font-size="12" text-anchor="middle" >t after AUF removal (h)</text>
<rect x="474.5" y="452.17999999999995" width="7.399999999999977" height="131.72" fill="#ffffff" stroke="#000" stroke-width="1.2"/>
<circle cx="476.3" cy="452.17999999999995" r="2.6" fill="#fff" stroke="#000" stroke-width="1.0"/>
<path d="M477.10,454.32 L482.50,454.32 L479.80,449.64 Z" fill="#fff" stroke="#000" stroke-width="0.9"/>
<line x1="487.85" y1="490.59815999999995" x2="487.85" y2="526.9183999999999" stroke="#000" stroke-width="1.2"/>
<line x1="485.65000000000003" y1="490.59815999999995" x2="490.05" y2="490.59815999999995" stroke="#000" stroke-width="1.2"/>
<rect x="484.2" y="526.9183999999999" width="7.300000000000011" height="56.98160000000005" fill="#8fc7da" stroke="#000" stroke-width="1.2"/>
<circle cx="487.85" cy="500.6944" r="2.6" fill="#8fc7da" stroke="#000" stroke-width="1.0"/>
<path d="M485.25,553.82 L490.45,553.82 L487.85,549.32 Z" fill="#8fc7da" stroke="#000" stroke-width="0.9"/>
<line x1="497.54999999999995" y1="507.25039999999996" x2="497.54999999999995" y2="537.4079999999999" stroke="#000" stroke-width="1.2"/>
<line x1="495.34999999999997" y1="507.25039999999996" x2="499.74999999999994" y2="507.25039999999996" stroke="#000" stroke-width="1.2"/>
<rect x="494.0" y="537.4079999999999" width="7.099999999999966" height="46.492000000000054" fill="#bdbdbd" stroke="#000" stroke-width="1.2"/>
<circle cx="497.54999999999995" cy="516.16656" r="2.6" fill="#bdbdbd" stroke="#000" stroke-width="1.0"/>
<path d="M494.95,560.38 L500.15,560.38 L497.55,555.87 Z" fill="#bdbdbd" stroke="#000" stroke-width="0.9"/>
<line x1="506.75" y1="517.21552" x2="506.75" y2="546.5863999999999" stroke="#000" stroke-width="1.2"/>
<line x1="504.55" y1="517.21552" x2="508.95" y2="517.21552" stroke="#000" stroke-width="1.2"/>
<rect x="503.2" y="546.5863999999999" width="7.100000000000023" height="37.313600000000044" fill="#000000" stroke="#000" stroke-width="1.2"/>
<circle cx="506.75" cy="526.00056" r="2.6" fill="#ffffff" stroke="#000" stroke-width="1.0"/>
<path d="M504.75,568.64 L508.75,568.64 L506.75,565.18 Z" fill="#ffffff" stroke="#000" stroke-width="0.9"/>
<rect x="521.0" y="452.17999999999995" width="7.400000000000091" height="131.72" fill="#ffffff" stroke="#000" stroke-width="1.2"/>
<circle cx="522.8000000000001" cy="452.17999999999995" r="2.6" fill="#fff" stroke="#000" stroke-width="1.0"/>
<path d="M523.60,454.32 L529.00,454.32 L526.30,449.64 Z" fill="#fff" stroke="#000" stroke-width="0.9"/>
<line x1="534.35" y1="516.8221599999999" x2="534.35" y2="530.852" stroke="#000" stroke-width="1.2"/>
<line x1="532.15" y1="516.8221599999999" x2="536.5500000000001" y2="516.8221599999999" stroke="#000" stroke-width="1.2"/>
<rect x="530.7" y="530.852" width="7.2999999999999545" height="53.04799999999998" fill="#8fc7da" stroke="#000" stroke-width="1.2"/>
<circle cx="534.35" cy="521.0179999999999" r="2.6" fill="#8fc7da" stroke="#000" stroke-width="1.0"/>
<path d="M531.75,543.59 L536.95,543.59 L534.35,539.09 Z" fill="#8fc7da" stroke="#000" stroke-width="0.9"/>
<line x1="544.05" y1="540.0304" x2="544.05" y2="543.9639999999999" stroke="#000" stroke-width="1.2"/>
<line x1="541.8499999999999" y1="540.0304" x2="546.25" y2="540.0304" stroke="#000" stroke-width="1.2"/>
<rect x="540.5" y="543.9639999999999" width="7.100000000000023" height="39.936000000000014" fill="#bdbdbd" stroke="#000" stroke-width="1.2"/>
<circle cx="544.05" cy="540.6859999999999" r="2.6" fill="#bdbdbd" stroke="#000" stroke-width="1.0"/>
<path d="M541.45,548.84 L546.65,548.84 L544.05,544.33 Z" fill="#bdbdbd" stroke="#000" stroke-width="0.9"/>
<rect x="549.7" y="561.0096" width="7.100000000000023" height="22.89039999999998" fill="#000000" stroke="#000" stroke-width="1.2"/>
<path d="M549.15,563.50 L553.75,563.50 L551.45,559.52 Z" fill="#fff" stroke="#000" stroke-width="0.9"/>
<circle cx="554.85" cy="558.7805599999999" r="2.6" fill="#fff" stroke="#000" stroke-width="1.0"/>
<rect x="567.5999999999999" y="452.17999999999995" width="7.400000000000091" height="131.72" fill="#ffffff" stroke="#000" stroke-width="1.2"/>
<circle cx="569.4" cy="452.17999999999995" r="2.6" fill="#fff" stroke="#000" stroke-width="1.0"/>
<path d="M570.20,454.32 L575.60,454.32 L572.90,449.64 Z" fill="#fff" stroke="#000" stroke-width="0.9"/>
<line x1="580.9499999999999" y1="494.13839999999993" x2="580.9499999999999" y2="507.25039999999996" stroke="#000" stroke-width="1.2"/>
<line x1="578.7499999999999" y1="494.13839999999993" x2="583.15" y2="494.13839999999993" stroke="#000" stroke-width="1.2"/>
<rect x="577.3" y="507.25039999999996" width="7.2999999999999545" height="76.64959999999999" fill="#8fc7da" stroke="#000" stroke-width="1.2"/>
<circle cx="580.9499999999999" cy="497.15415999999993" r="2.6" fill="#8fc7da" stroke="#000" stroke-width="1.0"/>
<path d="M578.35,517.37 L583.55,517.37 L580.95,512.87 Z" fill="#8fc7da" stroke="#000" stroke-width="0.9"/>
<rect x="587.0999999999999" y="524.2959999999999" width="7.100000000000023" height="59.60400000000002" fill="#bdbdbd" stroke="#000" stroke-width="1.2"/>
<circle cx="590.6499999999999" cy="517.74" r="2.6" fill="#bdbdbd" stroke="#000" stroke-width="1.0"/>
<path d="M588.05,527.20 L593.25,527.20 L590.65,522.70 Z" fill="#bdbdbd" stroke="#000" stroke-width="0.9"/>
<rect x="596.3" y="543.9639999999999" width="7.100000000000023" height="39.936000000000014" fill="#000000" stroke="#000" stroke-width="1.2"/>
<circle cx="599.8499999999999" cy="538.98144" r="2.6" fill="#ffffff" stroke="#000" stroke-width="1.0"/>
<path d="M597.85,550.55 L601.85,550.55 L599.85,547.08 Z" fill="#ffffff" stroke="#000" stroke-width="0.9"/>
<rect x="614.0" y="452.17999999999995" width="7.400000000000091" height="131.72" fill="#ffffff" stroke="#000" stroke-width="1.2"/>
<circle cx="615.8000000000001" cy="452.17999999999995" r="2.6" fill="#fff" stroke="#000" stroke-width="1.0"/>
<path d="M616.60,454.32 L622.00,454.32 L619.30,449.64 Z" fill="#fff" stroke="#000" stroke-width="0.9"/>
<line x1="627.35" y1="483.64879999999994" x2="627.35" y2="487.58239999999995" stroke="#000" stroke-width="1.2"/>
<line x1="625.15" y1="483.64879999999994" x2="629.5500000000001" y2="483.64879999999994" stroke="#000" stroke-width="1.2"/>
<rect x="623.7" y="487.58239999999995" width="7.2999999999999545" height="96.3176" fill="#8fc7da" stroke="#000" stroke-width="1.2"/>
<circle cx="627.35" cy="484.96" r="2.6" fill="#8fc7da" stroke="#000" stroke-width="1.0"/>
<path d="M624.75,492.06 L629.95,492.06 L627.35,487.56 Z" fill="#8fc7da" stroke="#000" stroke-width="0.9"/>
<line x1="637.05" y1="460.30944" x2="637.05" y2="484.96" stroke="#000" stroke-width="1.2"/>
<line x1="634.8499999999999" y1="460.30944" x2="639.25" y2="460.30944" stroke="#000" stroke-width="1.2"/>
<rect x="633.5" y="484.96" width="7.100000000000023" height="98.93999999999997" fill="#bdbdbd" stroke="#000" stroke-width="1.2"/>
<circle cx="637.05" cy="466.86544" r="2.6" fill="#bdbdbd" stroke="#000" stroke-width="1.0"/>
<path d="M634.45,502.95 L639.65,502.95 L637.05,498.44 Z" fill="#bdbdbd" stroke="#000" stroke-width="0.9"/>
<line x1="646.25" y1="514.462" x2="646.25" y2="526.9183999999999" stroke="#000" stroke-width="1.2"/>
<line x1="644.05" y1="514.462" x2="648.45" y2="514.462" stroke="#000" stroke-width="1.2"/>
<rect x="642.7" y="526.9183999999999" width="7.100000000000023" height="56.98160000000005" fill="#000000" stroke="#000" stroke-width="1.2"/>
<circle cx="646.25" cy="517.74" r="2.6" fill="#ffffff" stroke="#000" stroke-width="1.0"/>
<path d="M644.25,537.44 L648.25,537.44 L646.25,533.97 Z" fill="#ffffff" stroke="#000" stroke-width="0.9"/>
<text x="657.8" y="456.5" font-size="12" text-anchor="start" >AUF µg/mL</text>
<rect x="656.6" y="465.7" width="5" height="5" fill="#ffffff" stroke="#000" stroke-width="1.1"/>
<text x="688.7" y="471.2" font-size="12" text-anchor="start" >-</text>
<rect x="656.6" y="477.2" width="5" height="5" fill="#8fc7da" stroke="#000" stroke-width="1.1"/>
<text x="688.7" y="484.0" font-size="12" text-anchor="start" letter-spacing="0.35" >0,25</text>
<rect x="656.6" y="488.7" width="5" height="5" fill="#bdbdbd" stroke="#000" stroke-width="1.1"/>
<text x="688.7" y="495.5" font-size="12" text-anchor="start" letter-spacing="0.35" >0,5</text>
<rect x="656.6" y="500.5" width="5" height="5" fill="#000000" stroke="#000" stroke-width="1.1"/>
<text x="688.7" y="507.3" font-size="12" text-anchor="start" letter-spacing="0.35" >1</text>
<path d="M655.90,522.46 L662.50,522.46 L659.20,516.74 Z" fill="#fff" stroke="#000" stroke-width="0.9"/>
<text x="665.1" y="523.6" font-size="12" text-anchor="start" >KADA</text>
<circle cx="658.9" cy="534.7" r="2.7" fill="#fff" stroke="#000" stroke-width="1.0"/>
<text x="665.1" y="538.9" font-size="12" text-anchor="start" >BEHA</text>
</svg></body></html>
